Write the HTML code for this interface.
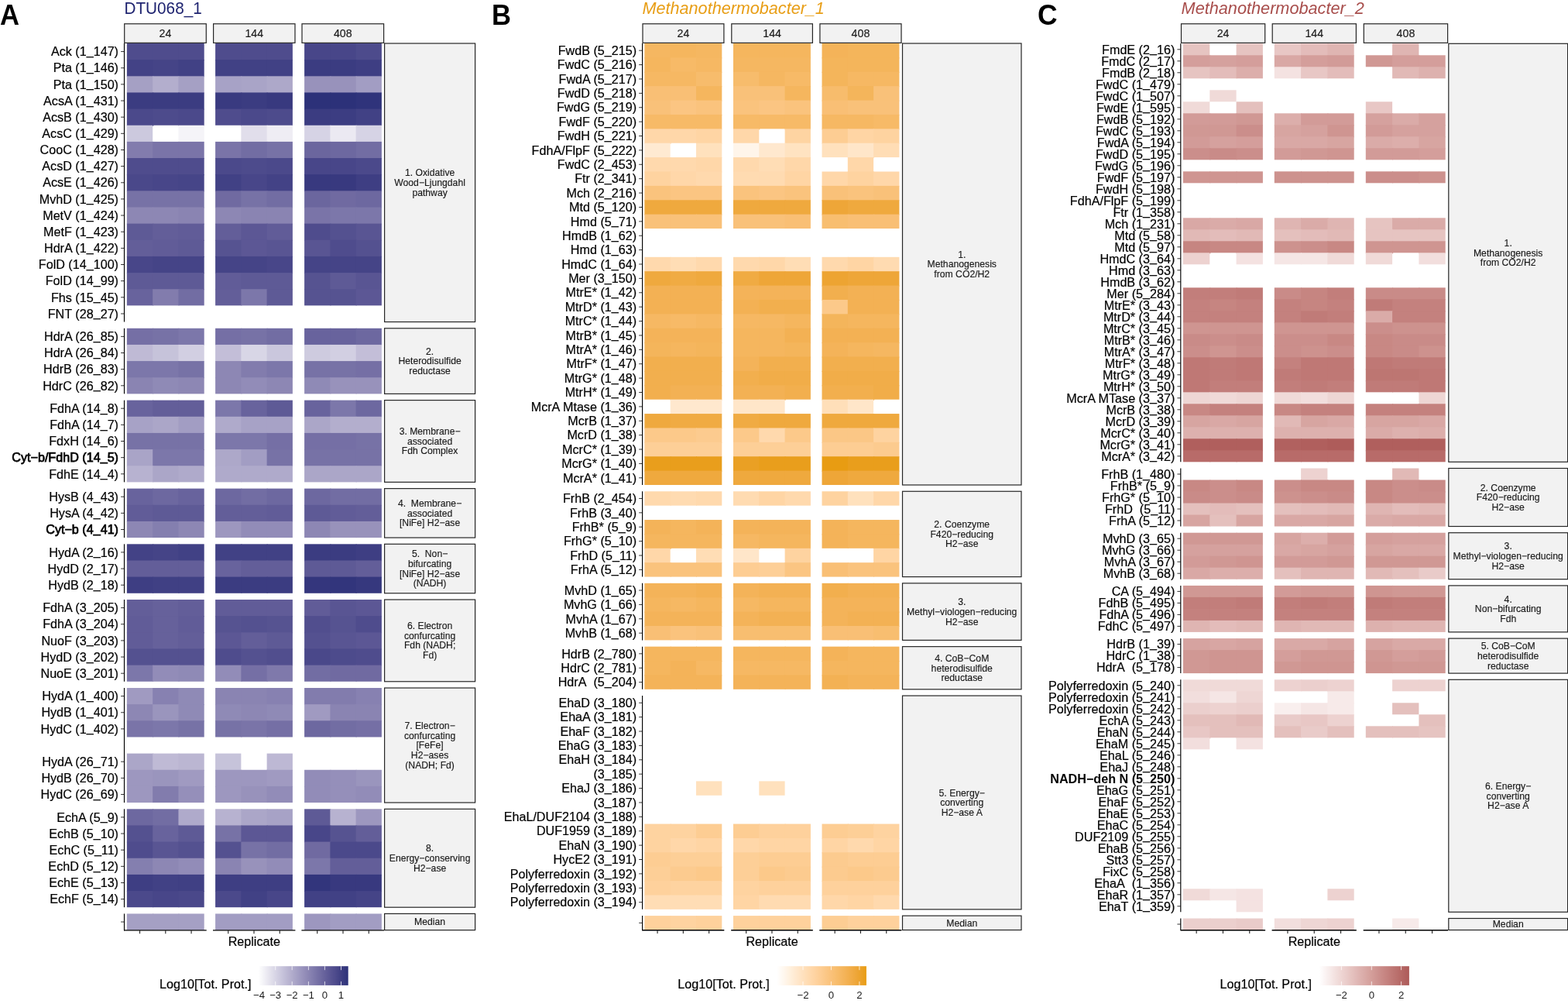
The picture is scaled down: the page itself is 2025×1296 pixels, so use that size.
<!DOCTYPE html>
<html><head><meta charset="utf-8"><title>Heatmap</title>
<style>html,body{margin:0;padding:0;background:#fff;}svg{display:block;}</style></head>
<body><svg width="2025" height="1296" viewBox="0 0 2025 1296" font-family="'Liberation Sans', Arial, Helvetica, sans-serif" fill="#000">
<rect x="0" y="0" width="2025" height="1296" fill="#fff"/>
<text x="0" y="31.9" font-size="36" font-weight="bold" textLength="25.0" lengthAdjust="spacingAndGlyphs">A</text>
<text x="160.4" y="18.4" font-size="21.6" fill="#1f2470" textLength="100.4" lengthAdjust="spacingAndGlyphs">DTU068_1</text>
<rect x="160.7" y="30.75" width="105.6" height="24.6" fill="#f2f2f2" stroke="#262626" stroke-width="1.2"/>
<text x="213.5" y="48" font-size="14.2" text-anchor="middle" fill="#1a1a1a" stroke="#1a1a1a" stroke-width="0.15">24</text>
<rect x="275.6" y="30.75" width="105.4" height="24.6" fill="#f2f2f2" stroke="#262626" stroke-width="1.2"/>
<text x="328.3" y="48" font-size="14.2" text-anchor="middle" fill="#1a1a1a" stroke="#1a1a1a" stroke-width="0.15">144</text>
<rect x="390" y="30.75" width="105.6" height="24.6" fill="#f2f2f2" stroke="#262626" stroke-width="1.2"/>
<text x="442.8" y="48" font-size="14.2" text-anchor="middle" fill="#1a1a1a" stroke="#1a1a1a" stroke-width="0.15">408</text>
<rect x="163.9" y="56" width="34.27" height="22.15" fill="#4f4c8d"/>
<rect x="197.17" y="56" width="34.27" height="22.15" fill="#4f4c8d"/>
<rect x="230.43" y="56" width="33.27" height="22.15" fill="#4f4c8d"/>
<rect x="278.1" y="56" width="34.27" height="22.15" fill="#4f4c8d"/>
<rect x="311.37" y="56" width="34.27" height="22.15" fill="#4f4c8d"/>
<rect x="344.63" y="56" width="33.27" height="22.15" fill="#4f4c8d"/>
<rect x="393.1" y="56" width="34.27" height="22.15" fill="#484689"/>
<rect x="426.37" y="56" width="34.27" height="22.15" fill="#484689"/>
<rect x="459.63" y="56" width="33.27" height="22.15" fill="#4d4b8c"/>
<line x1="156.1" y1="66.57" x2="160.5" y2="66.57" stroke="#333" stroke-width="1.0"/>
<text x="153" y="72.27" font-size="16.15" text-anchor="end" stroke="#000" stroke-width="0.2">Ack (1<tspan dy="-1.2">_</tspan><tspan dy="1.2">147)</tspan></text>
<rect x="163.9" y="77.15" width="34.27" height="22.15" fill="#434286"/>
<rect x="197.17" y="77.15" width="34.27" height="22.15" fill="#454487"/>
<rect x="230.43" y="77.15" width="33.27" height="22.15" fill="#414185"/>
<rect x="278.1" y="77.15" width="34.27" height="22.15" fill="#414185"/>
<rect x="311.37" y="77.15" width="34.27" height="22.15" fill="#414185"/>
<rect x="344.63" y="77.15" width="33.27" height="22.15" fill="#414185"/>
<rect x="393.1" y="77.15" width="34.27" height="22.15" fill="#3b3c81"/>
<rect x="426.37" y="77.15" width="34.27" height="22.15" fill="#3b3c81"/>
<rect x="459.63" y="77.15" width="33.27" height="22.15" fill="#3e3e83"/>
<line x1="156.1" y1="87.72" x2="160.5" y2="87.72" stroke="#333" stroke-width="1.0"/>
<text x="153" y="93.42" font-size="16.15" text-anchor="end" stroke="#000" stroke-width="0.2">Pta (1<tspan dy="-1.2">_</tspan><tspan dy="1.2">146)</tspan></text>
<rect x="163.9" y="98.3" width="34.27" height="22.15" fill="#a5a0c4"/>
<rect x="197.17" y="98.3" width="34.27" height="22.15" fill="#b3aecd"/>
<rect x="230.43" y="98.3" width="33.27" height="22.15" fill="#a5a0c4"/>
<rect x="278.1" y="98.3" width="34.27" height="22.15" fill="#a7a2c6"/>
<rect x="311.37" y="98.3" width="34.27" height="22.15" fill="#a9a4c7"/>
<rect x="344.63" y="98.3" width="33.27" height="22.15" fill="#ada8c9"/>
<rect x="393.1" y="98.3" width="34.27" height="22.15" fill="#9892bb"/>
<rect x="426.37" y="98.3" width="34.27" height="22.15" fill="#9892bb"/>
<rect x="459.63" y="98.3" width="33.27" height="22.15" fill="#a29dc3"/>
<line x1="156.1" y1="108.87" x2="160.5" y2="108.87" stroke="#333" stroke-width="1.0"/>
<text x="153" y="114.57" font-size="16.15" text-anchor="end" stroke="#000" stroke-width="0.2">Pta (1<tspan dy="-1.2">_</tspan><tspan dy="1.2">150)</tspan></text>
<rect x="163.9" y="119.45" width="34.27" height="22.15" fill="#3b3c81"/>
<rect x="197.17" y="119.45" width="34.27" height="22.15" fill="#3b3c81"/>
<rect x="230.43" y="119.45" width="33.27" height="22.15" fill="#3b3c81"/>
<rect x="278.1" y="119.45" width="34.27" height="22.15" fill="#393a80"/>
<rect x="311.37" y="119.45" width="34.27" height="22.15" fill="#3b3c81"/>
<rect x="344.63" y="119.45" width="33.27" height="22.15" fill="#38397f"/>
<rect x="393.1" y="119.45" width="34.27" height="22.15" fill="#2c3179"/>
<rect x="426.37" y="119.45" width="34.27" height="22.15" fill="#2c3179"/>
<rect x="459.63" y="119.45" width="33.27" height="22.15" fill="#2f337b"/>
<line x1="156.1" y1="130.02" x2="160.5" y2="130.02" stroke="#333" stroke-width="1.0"/>
<text x="153" y="135.72" font-size="16.15" text-anchor="end" stroke="#000" stroke-width="0.2">AcsA (1<tspan dy="-1.2">_</tspan><tspan dy="1.2">431)</tspan></text>
<rect x="163.9" y="140.6" width="34.27" height="22.15" fill="#4b498b"/>
<rect x="197.17" y="140.6" width="34.27" height="21.15" fill="#4d4b8c"/>
<rect x="230.43" y="140.6" width="33.27" height="22.15" fill="#4b498b"/>
<rect x="278.1" y="140.6" width="34.27" height="21.15" fill="#4f4c8d"/>
<rect x="311.37" y="140.6" width="34.27" height="22.15" fill="#4b498b"/>
<rect x="344.63" y="140.6" width="33.27" height="22.15" fill="#4d4b8c"/>
<rect x="393.1" y="140.6" width="34.27" height="22.15" fill="#3b3c81"/>
<rect x="426.37" y="140.6" width="34.27" height="22.15" fill="#3c3d82"/>
<rect x="459.63" y="140.6" width="33.27" height="22.15" fill="#414185"/>
<line x1="156.1" y1="151.17" x2="160.5" y2="151.17" stroke="#333" stroke-width="1.0"/>
<text x="153" y="156.87" font-size="16.15" text-anchor="end" stroke="#000" stroke-width="0.2">AcsB (1<tspan dy="-1.2">_</tspan><tspan dy="1.2">430)</tspan></text>
<rect x="163.9" y="161.75" width="33.27" height="22.15" fill="#ccc9de"/>
<rect x="230.43" y="161.75" width="33.27" height="22.15" fill="#f5f4f8"/>
<rect x="311.37" y="161.75" width="34.27" height="22.15" fill="#e1deeb"/>
<rect x="344.63" y="161.75" width="33.27" height="22.15" fill="#efedf4"/>
<rect x="393.1" y="161.75" width="34.27" height="22.15" fill="#d6d3e5"/>
<rect x="426.37" y="161.75" width="34.27" height="22.15" fill="#ebe9f2"/>
<rect x="459.63" y="161.75" width="33.27" height="22.15" fill="#d6d3e5"/>
<line x1="156.1" y1="172.32" x2="160.5" y2="172.32" stroke="#333" stroke-width="1.0"/>
<text x="153" y="178.02" font-size="16.15" text-anchor="end" stroke="#000" stroke-width="0.2">AcsC (1<tspan dy="-1.2">_</tspan><tspan dy="1.2">429)</tspan></text>
<rect x="163.9" y="182.89" width="34.27" height="22.15" fill="#827cad"/>
<rect x="197.17" y="182.89" width="34.27" height="22.15" fill="#7a74a8"/>
<rect x="230.43" y="182.89" width="33.27" height="22.15" fill="#7a74a8"/>
<rect x="278.1" y="182.89" width="34.27" height="22.15" fill="#7a74a8"/>
<rect x="311.37" y="182.89" width="34.27" height="22.15" fill="#726da3"/>
<rect x="344.63" y="182.89" width="33.27" height="22.15" fill="#7772a6"/>
<rect x="393.1" y="182.89" width="34.27" height="22.15" fill="#6b669e"/>
<rect x="426.37" y="182.89" width="34.27" height="22.15" fill="#6d68a0"/>
<rect x="459.63" y="182.89" width="33.27" height="22.15" fill="#726da3"/>
<line x1="156.1" y1="193.47" x2="160.5" y2="193.47" stroke="#333" stroke-width="1.0"/>
<text x="153" y="199.17" font-size="16.15" text-anchor="end" stroke="#000" stroke-width="0.2">CooC (1<tspan dy="-1.2">_</tspan><tspan dy="1.2">428)</tspan></text>
<rect x="163.9" y="204.04" width="34.27" height="22.15" fill="#4f4c8d"/>
<rect x="197.17" y="204.04" width="34.27" height="22.15" fill="#4f4c8d"/>
<rect x="230.43" y="204.04" width="33.27" height="22.15" fill="#4f4c8d"/>
<rect x="278.1" y="204.04" width="34.27" height="22.15" fill="#4b498b"/>
<rect x="311.37" y="204.04" width="34.27" height="22.15" fill="#4d4b8c"/>
<rect x="344.63" y="204.04" width="33.27" height="22.15" fill="#4b498b"/>
<rect x="393.1" y="204.04" width="34.27" height="22.15" fill="#484689"/>
<rect x="426.37" y="204.04" width="34.27" height="22.15" fill="#484689"/>
<rect x="459.63" y="204.04" width="33.27" height="22.15" fill="#4b498b"/>
<line x1="156.1" y1="214.62" x2="160.5" y2="214.62" stroke="#333" stroke-width="1.0"/>
<text x="153" y="220.32" font-size="16.15" text-anchor="end" stroke="#000" stroke-width="0.2">AcsD (1<tspan dy="-1.2">_</tspan><tspan dy="1.2">427)</tspan></text>
<rect x="163.9" y="225.19" width="34.27" height="22.15" fill="#4a488a"/>
<rect x="197.17" y="225.19" width="34.27" height="22.15" fill="#484689"/>
<rect x="230.43" y="225.19" width="33.27" height="22.15" fill="#464588"/>
<rect x="278.1" y="225.19" width="34.27" height="22.15" fill="#414185"/>
<rect x="311.37" y="225.19" width="34.27" height="22.15" fill="#484689"/>
<rect x="344.63" y="225.19" width="33.27" height="22.15" fill="#434286"/>
<rect x="393.1" y="225.19" width="34.27" height="22.15" fill="#38397f"/>
<rect x="426.37" y="225.19" width="34.27" height="22.15" fill="#38397f"/>
<rect x="459.63" y="225.19" width="33.27" height="22.15" fill="#3e3e83"/>
<line x1="156.1" y1="235.77" x2="160.5" y2="235.77" stroke="#333" stroke-width="1.0"/>
<text x="153" y="241.47" font-size="16.15" text-anchor="end" stroke="#000" stroke-width="0.2">AcsE (1<tspan dy="-1.2">_</tspan><tspan dy="1.2">426)</tspan></text>
<rect x="163.9" y="246.34" width="34.27" height="22.15" fill="#7772a6"/>
<rect x="197.17" y="246.34" width="34.27" height="22.15" fill="#7772a6"/>
<rect x="230.43" y="246.34" width="33.27" height="22.15" fill="#7772a6"/>
<rect x="278.1" y="246.34" width="34.27" height="22.15" fill="#706aa1"/>
<rect x="311.37" y="246.34" width="34.27" height="22.15" fill="#7772a6"/>
<rect x="344.63" y="246.34" width="33.27" height="22.15" fill="#726da3"/>
<rect x="393.1" y="246.34" width="34.27" height="22.15" fill="#6b669e"/>
<rect x="426.37" y="246.34" width="34.27" height="22.15" fill="#706aa1"/>
<rect x="459.63" y="246.34" width="33.27" height="22.15" fill="#6d68a0"/>
<line x1="156.1" y1="256.92" x2="160.5" y2="256.92" stroke="#333" stroke-width="1.0"/>
<text x="153" y="262.62" font-size="16.15" text-anchor="end" stroke="#000" stroke-width="0.2">MvhD (1<tspan dy="-1.2">_</tspan><tspan dy="1.2">425)</tspan></text>
<rect x="163.9" y="267.49" width="34.27" height="22.15" fill="#8d87b4"/>
<rect x="197.17" y="267.49" width="34.27" height="22.15" fill="#8d87b4"/>
<rect x="230.43" y="267.49" width="33.27" height="22.15" fill="#8a84b2"/>
<rect x="278.1" y="267.49" width="34.27" height="22.15" fill="#8d87b4"/>
<rect x="311.37" y="267.49" width="34.27" height="22.15" fill="#8a84b2"/>
<rect x="344.63" y="267.49" width="33.27" height="22.15" fill="#8a84b2"/>
<rect x="393.1" y="267.49" width="34.27" height="22.15" fill="#7a74a8"/>
<rect x="426.37" y="267.49" width="34.27" height="22.15" fill="#7c77aa"/>
<rect x="459.63" y="267.49" width="33.27" height="22.15" fill="#7c77aa"/>
<line x1="156.1" y1="278.06" x2="160.5" y2="278.06" stroke="#333" stroke-width="1.0"/>
<text x="153" y="283.76" font-size="16.15" text-anchor="end" stroke="#000" stroke-width="0.2">MetV (1<tspan dy="-1.2">_</tspan><tspan dy="1.2">424)</tspan></text>
<rect x="163.9" y="288.64" width="34.27" height="22.15" fill="#5e5a96"/>
<rect x="197.17" y="288.64" width="34.27" height="22.15" fill="#635e99"/>
<rect x="230.43" y="288.64" width="33.27" height="22.15" fill="#615c98"/>
<rect x="278.1" y="288.64" width="34.27" height="22.15" fill="#635e99"/>
<rect x="311.37" y="288.64" width="34.27" height="22.15" fill="#5c5795"/>
<rect x="344.63" y="288.64" width="33.27" height="22.15" fill="#615c98"/>
<rect x="393.1" y="288.64" width="34.27" height="22.15" fill="#4f4c8d"/>
<rect x="426.37" y="288.64" width="34.27" height="22.15" fill="#545190"/>
<rect x="459.63" y="288.64" width="33.27" height="22.15" fill="#595593"/>
<line x1="156.1" y1="299.21" x2="160.5" y2="299.21" stroke="#333" stroke-width="1.0"/>
<text x="153" y="304.91" font-size="16.15" text-anchor="end" stroke="#000" stroke-width="0.2">MetF (1<tspan dy="-1.2">_</tspan><tspan dy="1.2">423)</tspan></text>
<rect x="163.9" y="309.79" width="34.27" height="22.15" fill="#635e99"/>
<rect x="197.17" y="309.79" width="34.27" height="22.15" fill="#615c98"/>
<rect x="230.43" y="309.79" width="33.27" height="22.15" fill="#5e5a96"/>
<rect x="278.1" y="309.79" width="34.27" height="22.15" fill="#565391"/>
<rect x="311.37" y="309.79" width="34.27" height="22.15" fill="#5c5795"/>
<rect x="344.63" y="309.79" width="33.27" height="22.15" fill="#595593"/>
<rect x="393.1" y="309.79" width="34.27" height="22.15" fill="#595593"/>
<rect x="426.37" y="309.79" width="34.27" height="22.15" fill="#4f4c8d"/>
<rect x="459.63" y="309.79" width="33.27" height="22.15" fill="#545190"/>
<line x1="156.1" y1="320.36" x2="160.5" y2="320.36" stroke="#333" stroke-width="1.0"/>
<text x="153" y="326.06" font-size="16.15" text-anchor="end" stroke="#000" stroke-width="0.2">HdrA (1<tspan dy="-1.2">_</tspan><tspan dy="1.2">422)</tspan></text>
<rect x="163.9" y="330.94" width="34.27" height="22.15" fill="#484689"/>
<rect x="197.17" y="330.94" width="34.27" height="22.15" fill="#454487"/>
<rect x="230.43" y="330.94" width="33.27" height="22.15" fill="#454487"/>
<rect x="278.1" y="330.94" width="34.27" height="22.15" fill="#454487"/>
<rect x="311.37" y="330.94" width="34.27" height="22.15" fill="#454487"/>
<rect x="344.63" y="330.94" width="33.27" height="22.15" fill="#484689"/>
<rect x="393.1" y="330.94" width="34.27" height="22.15" fill="#454487"/>
<rect x="426.37" y="330.94" width="34.27" height="22.15" fill="#454487"/>
<rect x="459.63" y="330.94" width="33.27" height="22.15" fill="#454487"/>
<line x1="156.1" y1="341.51" x2="160.5" y2="341.51" stroke="#333" stroke-width="1.0"/>
<text x="153" y="347.21" font-size="16.15" text-anchor="end" stroke="#000" stroke-width="0.2">FolD (14<tspan dy="-1.2">_</tspan><tspan dy="1.2">100)</tspan></text>
<rect x="163.9" y="352.09" width="34.27" height="22.15" fill="#5e5a96"/>
<rect x="197.17" y="352.09" width="34.27" height="22.15" fill="#5e5a96"/>
<rect x="230.43" y="352.09" width="33.27" height="22.15" fill="#5e5a96"/>
<rect x="278.1" y="352.09" width="34.27" height="22.15" fill="#615c98"/>
<rect x="311.37" y="352.09" width="34.27" height="22.15" fill="#5e5a96"/>
<rect x="344.63" y="352.09" width="33.27" height="22.15" fill="#5e5a96"/>
<rect x="393.1" y="352.09" width="34.27" height="22.15" fill="#565391"/>
<rect x="426.37" y="352.09" width="34.27" height="22.15" fill="#5e5a96"/>
<rect x="459.63" y="352.09" width="33.27" height="22.15" fill="#595593"/>
<line x1="156.1" y1="362.66" x2="160.5" y2="362.66" stroke="#333" stroke-width="1.0"/>
<text x="153" y="368.36" font-size="16.15" text-anchor="end" stroke="#000" stroke-width="0.2">FolD (14<tspan dy="-1.2">_</tspan><tspan dy="1.2">99)</tspan></text>
<rect x="163.9" y="373.24" width="34.27" height="21.15" fill="#68639d"/>
<rect x="197.17" y="373.24" width="34.27" height="21.15" fill="#827cad"/>
<rect x="230.43" y="373.24" width="33.27" height="21.15" fill="#726da3"/>
<rect x="278.1" y="373.24" width="34.27" height="21.15" fill="#635e99"/>
<rect x="311.37" y="373.24" width="34.27" height="21.15" fill="#7c77aa"/>
<rect x="344.63" y="373.24" width="33.27" height="21.15" fill="#5e5a96"/>
<rect x="393.1" y="373.24" width="34.27" height="21.15" fill="#565391"/>
<rect x="426.37" y="373.24" width="34.27" height="21.15" fill="#565391"/>
<rect x="459.63" y="373.24" width="33.27" height="21.15" fill="#5c5795"/>
<line x1="156.1" y1="383.81" x2="160.5" y2="383.81" stroke="#333" stroke-width="1.0"/>
<text x="153" y="389.51" font-size="16.15" text-anchor="end" stroke="#000" stroke-width="0.2">Fhs (15<tspan dy="-1.2">_</tspan><tspan dy="1.2">45)</tspan></text>
<line x1="156.1" y1="404.96" x2="160.5" y2="404.96" stroke="#333" stroke-width="1.0"/>
<text x="153" y="410.66" font-size="16.15" text-anchor="end" stroke="#000" stroke-width="0.2">FNT (28<tspan dy="-1.2">_</tspan><tspan dy="1.2">27)</tspan></text>
<line x1="160.5" y1="56" x2="160.5" y2="415.53" stroke="#000000" stroke-width="1.15"/>
<rect x="496.6" y="56" width="117" height="359.53" fill="#f2f2f2" stroke="#262626" stroke-width="1.2"/>
<text x="555.1" y="227.47" font-size="12.2" text-anchor="middle" fill="#1a1a1a" stroke="#1a1a1a" stroke-width="0.15">1. Oxidative</text>
<text x="555.1" y="240.07" font-size="12.2" text-anchor="middle" fill="#1a1a1a" stroke="#1a1a1a" stroke-width="0.15">Wood−Ljungdahl</text>
<text x="555.1" y="252.67" font-size="12.2" text-anchor="middle" fill="#1a1a1a" stroke="#1a1a1a" stroke-width="0.15">pathway</text>
<rect x="163.9" y="423.78" width="34.27" height="22.15" fill="#756fa5"/>
<rect x="197.17" y="423.78" width="34.27" height="22.15" fill="#7772a6"/>
<rect x="230.43" y="423.78" width="33.27" height="22.15" fill="#7c77aa"/>
<rect x="278.1" y="423.78" width="34.27" height="22.15" fill="#756fa5"/>
<rect x="311.37" y="423.78" width="34.27" height="22.15" fill="#7772a6"/>
<rect x="344.63" y="423.78" width="33.27" height="22.15" fill="#726da3"/>
<rect x="393.1" y="423.78" width="34.27" height="22.15" fill="#68639d"/>
<rect x="426.37" y="423.78" width="34.27" height="22.15" fill="#68639d"/>
<rect x="459.63" y="423.78" width="33.27" height="22.15" fill="#6d68a0"/>
<line x1="156.1" y1="434.36" x2="160.5" y2="434.36" stroke="#333" stroke-width="1.0"/>
<text x="153" y="440.06" font-size="16.15" text-anchor="end" stroke="#000" stroke-width="0.2">HdrA (26<tspan dy="-1.2">_</tspan><tspan dy="1.2">85)</tspan></text>
<rect x="163.9" y="444.93" width="34.27" height="22.15" fill="#bfbad5"/>
<rect x="197.17" y="444.93" width="34.27" height="22.15" fill="#c6c3da"/>
<rect x="230.43" y="444.93" width="33.27" height="22.15" fill="#d2cfe2"/>
<rect x="278.1" y="444.93" width="34.27" height="22.15" fill="#c3bed8"/>
<rect x="311.37" y="444.93" width="34.27" height="22.15" fill="#d8d6e6"/>
<rect x="344.63" y="444.93" width="33.27" height="22.15" fill="#cac7dd"/>
<rect x="393.1" y="444.93" width="34.27" height="22.15" fill="#cecbdf"/>
<rect x="426.37" y="444.93" width="34.27" height="22.15" fill="#d2cfe2"/>
<rect x="459.63" y="444.93" width="33.27" height="22.15" fill="#c3bed8"/>
<line x1="156.1" y1="455.51" x2="160.5" y2="455.51" stroke="#333" stroke-width="1.0"/>
<text x="153" y="461.21" font-size="16.15" text-anchor="end" stroke="#000" stroke-width="0.2">HdrA (26<tspan dy="-1.2">_</tspan><tspan dy="1.2">84)</tspan></text>
<rect x="163.9" y="466.08" width="34.27" height="22.15" fill="#7c77aa"/>
<rect x="197.17" y="466.08" width="34.27" height="22.15" fill="#7c77aa"/>
<rect x="230.43" y="466.08" width="33.27" height="22.15" fill="#7772a6"/>
<rect x="278.1" y="466.08" width="34.27" height="22.15" fill="#8d87b4"/>
<rect x="311.37" y="466.08" width="34.27" height="22.15" fill="#827cad"/>
<rect x="344.63" y="466.08" width="33.27" height="22.15" fill="#7c77aa"/>
<rect x="393.1" y="466.08" width="34.27" height="22.15" fill="#7772a6"/>
<rect x="426.37" y="466.08" width="34.27" height="22.15" fill="#7772a6"/>
<rect x="459.63" y="466.08" width="33.27" height="22.15" fill="#756fa5"/>
<line x1="156.1" y1="476.66" x2="160.5" y2="476.66" stroke="#333" stroke-width="1.0"/>
<text x="153" y="482.36" font-size="16.15" text-anchor="end" stroke="#000" stroke-width="0.2">HdrB (26<tspan dy="-1.2">_</tspan><tspan dy="1.2">83)</tspan></text>
<rect x="163.9" y="487.23" width="34.27" height="21.15" fill="#8a84b2"/>
<rect x="197.17" y="487.23" width="34.27" height="21.15" fill="#8f8ab6"/>
<rect x="230.43" y="487.23" width="33.27" height="21.15" fill="#8d87b4"/>
<rect x="278.1" y="487.23" width="34.27" height="21.15" fill="#8d87b4"/>
<rect x="311.37" y="487.23" width="34.27" height="21.15" fill="#928cb8"/>
<rect x="344.63" y="487.23" width="33.27" height="21.15" fill="#8d87b4"/>
<rect x="393.1" y="487.23" width="34.27" height="21.15" fill="#8f8ab6"/>
<rect x="426.37" y="487.23" width="34.27" height="21.15" fill="#9892bb"/>
<rect x="459.63" y="487.23" width="33.27" height="21.15" fill="#9892bb"/>
<line x1="156.1" y1="497.8" x2="160.5" y2="497.8" stroke="#333" stroke-width="1.0"/>
<text x="153" y="503.5" font-size="16.15" text-anchor="end" stroke="#000" stroke-width="0.2">HdrC (26<tspan dy="-1.2">_</tspan><tspan dy="1.2">82)</tspan></text>
<line x1="160.5" y1="423.78" x2="160.5" y2="508.38" stroke="#000000" stroke-width="1.15"/>
<rect x="496.6" y="423.78" width="117" height="84.6" fill="#f2f2f2" stroke="#262626" stroke-width="1.2"/>
<text x="555.1" y="457.78" font-size="12.2" text-anchor="middle" fill="#1a1a1a" stroke="#1a1a1a" stroke-width="0.15">2.</text>
<text x="555.1" y="470.38" font-size="12.2" text-anchor="middle" fill="#1a1a1a" stroke="#1a1a1a" stroke-width="0.15">Heterodisulfide</text>
<text x="555.1" y="482.98" font-size="12.2" text-anchor="middle" fill="#1a1a1a" stroke="#1a1a1a" stroke-width="0.15">reductase</text>
<rect x="163.9" y="516.63" width="34.27" height="22.15" fill="#68639d"/>
<rect x="197.17" y="516.63" width="34.27" height="22.15" fill="#635e99"/>
<rect x="230.43" y="516.63" width="33.27" height="22.15" fill="#635e99"/>
<rect x="278.1" y="516.63" width="34.27" height="22.15" fill="#7c77aa"/>
<rect x="311.37" y="516.63" width="34.27" height="22.15" fill="#68639d"/>
<rect x="344.63" y="516.63" width="33.27" height="22.15" fill="#5e5a96"/>
<rect x="393.1" y="516.63" width="34.27" height="22.15" fill="#68639d"/>
<rect x="426.37" y="516.63" width="34.27" height="22.15" fill="#7c77aa"/>
<rect x="459.63" y="516.63" width="33.27" height="22.15" fill="#6d68a0"/>
<line x1="156.1" y1="527.2" x2="160.5" y2="527.2" stroke="#333" stroke-width="1.0"/>
<text x="153" y="532.9" font-size="16.15" text-anchor="end" stroke="#000" stroke-width="0.2">FdhA (14<tspan dy="-1.2">_</tspan><tspan dy="1.2">8)</tspan></text>
<rect x="163.9" y="537.78" width="34.27" height="22.15" fill="#a7a2c6"/>
<rect x="197.17" y="537.78" width="34.27" height="22.15" fill="#aba6c8"/>
<rect x="230.43" y="537.78" width="33.27" height="22.15" fill="#a29dc3"/>
<rect x="278.1" y="537.78" width="34.27" height="22.15" fill="#afaacb"/>
<rect x="311.37" y="537.78" width="34.27" height="22.15" fill="#a7a2c6"/>
<rect x="344.63" y="537.78" width="33.27" height="22.15" fill="#a7a2c6"/>
<rect x="393.1" y="537.78" width="34.27" height="22.15" fill="#aba6c8"/>
<rect x="426.37" y="537.78" width="34.27" height="22.15" fill="#b3aecd"/>
<rect x="459.63" y="537.78" width="33.27" height="22.15" fill="#b3aecd"/>
<line x1="156.1" y1="548.35" x2="160.5" y2="548.35" stroke="#333" stroke-width="1.0"/>
<text x="153" y="554.05" font-size="16.15" text-anchor="end" stroke="#000" stroke-width="0.2">FdhA (14<tspan dy="-1.2">_</tspan><tspan dy="1.2">7)</tspan></text>
<rect x="163.9" y="558.93" width="34.27" height="22.15" fill="#7772a6"/>
<rect x="197.17" y="558.93" width="34.27" height="22.15" fill="#7772a6"/>
<rect x="230.43" y="558.93" width="33.27" height="22.15" fill="#7772a6"/>
<rect x="278.1" y="558.93" width="34.27" height="22.15" fill="#7c77aa"/>
<rect x="311.37" y="558.93" width="34.27" height="22.15" fill="#7c77aa"/>
<rect x="344.63" y="558.93" width="33.27" height="22.15" fill="#756fa5"/>
<rect x="393.1" y="558.93" width="34.27" height="22.15" fill="#756fa5"/>
<rect x="426.37" y="558.93" width="34.27" height="22.15" fill="#756fa5"/>
<rect x="459.63" y="558.93" width="33.27" height="22.15" fill="#7772a6"/>
<line x1="156.1" y1="569.5" x2="160.5" y2="569.5" stroke="#333" stroke-width="1.0"/>
<text x="153" y="575.2" font-size="16.15" text-anchor="end" stroke="#000" stroke-width="0.2">FdxH (14<tspan dy="-1.2">_</tspan><tspan dy="1.2">6)</tspan></text>
<rect x="163.9" y="580.08" width="34.27" height="22.15" fill="#a9a4c7"/>
<rect x="197.17" y="580.08" width="34.27" height="22.15" fill="#7c77aa"/>
<rect x="230.43" y="580.08" width="33.27" height="22.15" fill="#7c77aa"/>
<rect x="278.1" y="580.08" width="34.27" height="22.15" fill="#ada8c9"/>
<rect x="311.37" y="580.08" width="34.27" height="22.15" fill="#a29dc3"/>
<rect x="344.63" y="580.08" width="33.27" height="22.15" fill="#7772a6"/>
<rect x="393.1" y="580.08" width="34.27" height="22.15" fill="#7772a6"/>
<rect x="426.37" y="580.08" width="34.27" height="22.15" fill="#7772a6"/>
<rect x="459.63" y="580.08" width="33.27" height="22.15" fill="#7772a6"/>
<line x1="156.1" y1="590.65" x2="160.5" y2="590.65" stroke="#333" stroke-width="1.0"/>
<text x="153" y="596.35" font-size="16.15" text-anchor="end" stroke="#000" stroke-width="0.75">Cyt−b/FdhD (14<tspan dy="-1.2">_</tspan><tspan dy="1.2">5)</tspan></text>
<rect x="163.9" y="601.23" width="34.27" height="21.15" fill="#b7b2d0"/>
<rect x="197.17" y="601.23" width="34.27" height="21.15" fill="#aba6c8"/>
<rect x="230.43" y="601.23" width="33.27" height="21.15" fill="#afaacb"/>
<rect x="278.1" y="601.23" width="34.27" height="21.15" fill="#afaacb"/>
<rect x="311.37" y="601.23" width="34.27" height="21.15" fill="#afaacb"/>
<rect x="344.63" y="601.23" width="33.27" height="21.15" fill="#afaacb"/>
<rect x="393.1" y="601.23" width="34.27" height="21.15" fill="#aba6c8"/>
<rect x="426.37" y="601.23" width="34.27" height="21.15" fill="#aba6c8"/>
<rect x="459.63" y="601.23" width="33.27" height="21.15" fill="#aba6c8"/>
<line x1="156.1" y1="611.8" x2="160.5" y2="611.8" stroke="#333" stroke-width="1.0"/>
<text x="153" y="617.5" font-size="16.15" text-anchor="end" stroke="#000" stroke-width="0.2">FdhE (14<tspan dy="-1.2">_</tspan><tspan dy="1.2">4)</tspan></text>
<line x1="160.5" y1="516.63" x2="160.5" y2="622.37" stroke="#000000" stroke-width="1.15"/>
<rect x="496.6" y="516.63" width="117" height="105.75" fill="#f2f2f2" stroke="#262626" stroke-width="1.2"/>
<text x="555.1" y="561.2" font-size="12.2" text-anchor="middle" fill="#1a1a1a" stroke="#1a1a1a" stroke-width="0.15">3. Membrane−</text>
<text x="555.1" y="573.8" font-size="12.2" text-anchor="middle" fill="#1a1a1a" stroke="#1a1a1a" stroke-width="0.15">associated</text>
<text x="555.1" y="586.4" font-size="12.2" text-anchor="middle" fill="#1a1a1a" stroke="#1a1a1a" stroke-width="0.15">Fdh Complex</text>
<rect x="163.9" y="630.62" width="34.27" height="22.15" fill="#68639d"/>
<rect x="197.17" y="630.62" width="34.27" height="22.15" fill="#6d68a0"/>
<rect x="230.43" y="630.62" width="33.27" height="22.15" fill="#68639d"/>
<rect x="278.1" y="630.62" width="34.27" height="22.15" fill="#6d68a0"/>
<rect x="311.37" y="630.62" width="34.27" height="22.15" fill="#726da3"/>
<rect x="344.63" y="630.62" width="33.27" height="22.15" fill="#6d68a0"/>
<rect x="393.1" y="630.62" width="34.27" height="22.15" fill="#6d68a0"/>
<rect x="426.37" y="630.62" width="34.27" height="22.15" fill="#726da3"/>
<rect x="459.63" y="630.62" width="33.27" height="22.15" fill="#726da3"/>
<line x1="156.1" y1="641.2" x2="160.5" y2="641.2" stroke="#333" stroke-width="1.0"/>
<text x="153" y="646.9" font-size="16.15" text-anchor="end" stroke="#000" stroke-width="0.2">HysB (4<tspan dy="-1.2">_</tspan><tspan dy="1.2">43)</tspan></text>
<rect x="163.9" y="651.77" width="34.27" height="22.15" fill="#615c98"/>
<rect x="197.17" y="651.77" width="34.27" height="22.15" fill="#5e5a96"/>
<rect x="230.43" y="651.77" width="33.27" height="22.15" fill="#5e5a96"/>
<rect x="278.1" y="651.77" width="34.27" height="22.15" fill="#635e99"/>
<rect x="311.37" y="651.77" width="34.27" height="22.15" fill="#635e99"/>
<rect x="344.63" y="651.77" width="33.27" height="22.15" fill="#615c98"/>
<rect x="393.1" y="651.77" width="34.27" height="22.15" fill="#5e5a96"/>
<rect x="426.37" y="651.77" width="34.27" height="22.15" fill="#615c98"/>
<rect x="459.63" y="651.77" width="33.27" height="22.15" fill="#635e99"/>
<line x1="156.1" y1="662.35" x2="160.5" y2="662.35" stroke="#333" stroke-width="1.0"/>
<text x="153" y="668.05" font-size="16.15" text-anchor="end" stroke="#000" stroke-width="0.2">HysA (4<tspan dy="-1.2">_</tspan><tspan dy="1.2">42)</tspan></text>
<rect x="163.9" y="672.92" width="34.27" height="21.15" fill="#8d87b4"/>
<rect x="197.17" y="672.92" width="34.27" height="21.15" fill="#847faf"/>
<rect x="230.43" y="672.92" width="33.27" height="21.15" fill="#8d87b4"/>
<rect x="278.1" y="672.92" width="34.27" height="21.15" fill="#9d97bf"/>
<rect x="311.37" y="672.92" width="34.27" height="21.15" fill="#928cb8"/>
<rect x="344.63" y="672.92" width="33.27" height="21.15" fill="#928cb8"/>
<rect x="393.1" y="672.92" width="34.27" height="21.15" fill="#8d87b4"/>
<rect x="426.37" y="672.92" width="34.27" height="21.15" fill="#9892bb"/>
<rect x="459.63" y="672.92" width="33.27" height="21.15" fill="#9892bb"/>
<line x1="156.1" y1="683.5" x2="160.5" y2="683.5" stroke="#333" stroke-width="1.0"/>
<text x="153" y="689.2" font-size="16.15" text-anchor="end" stroke="#000" stroke-width="0.75">Cyt−b (4<tspan dy="-1.2">_</tspan><tspan dy="1.2">41)</tspan></text>
<line x1="160.5" y1="630.62" x2="160.5" y2="694.07" stroke="#000000" stroke-width="1.15"/>
<rect x="496.6" y="630.62" width="117" height="63.45" fill="#f2f2f2" stroke="#262626" stroke-width="1.2"/>
<text x="555.1" y="654.05" font-size="12.2" text-anchor="middle" fill="#1a1a1a" stroke="#1a1a1a" stroke-width="0.15">4.  Membrane−</text>
<text x="555.1" y="666.65" font-size="12.2" text-anchor="middle" fill="#1a1a1a" stroke="#1a1a1a" stroke-width="0.15">associated</text>
<text x="555.1" y="679.25" font-size="12.2" text-anchor="middle" fill="#1a1a1a" stroke="#1a1a1a" stroke-width="0.15">[NiFe] H2−ase</text>
<rect x="163.9" y="702.32" width="34.27" height="22.15" fill="#434286"/>
<rect x="197.17" y="702.32" width="34.27" height="22.15" fill="#454487"/>
<rect x="230.43" y="702.32" width="33.27" height="22.15" fill="#414185"/>
<rect x="278.1" y="702.32" width="34.27" height="22.15" fill="#414185"/>
<rect x="311.37" y="702.32" width="34.27" height="22.15" fill="#414185"/>
<rect x="344.63" y="702.32" width="33.27" height="22.15" fill="#414185"/>
<rect x="393.1" y="702.32" width="34.27" height="22.15" fill="#3b3c81"/>
<rect x="426.37" y="702.32" width="34.27" height="22.15" fill="#3b3c81"/>
<rect x="459.63" y="702.32" width="33.27" height="22.15" fill="#3e3e83"/>
<line x1="156.1" y1="712.9" x2="160.5" y2="712.9" stroke="#333" stroke-width="1.0"/>
<text x="153" y="718.6" font-size="16.15" text-anchor="end" stroke="#000" stroke-width="0.2">HydA (2<tspan dy="-1.2">_</tspan><tspan dy="1.2">16)</tspan></text>
<rect x="163.9" y="723.47" width="34.27" height="22.15" fill="#635e99"/>
<rect x="197.17" y="723.47" width="34.27" height="22.15" fill="#635e99"/>
<rect x="230.43" y="723.47" width="33.27" height="22.15" fill="#635e99"/>
<rect x="278.1" y="723.47" width="34.27" height="22.15" fill="#68639d"/>
<rect x="311.37" y="723.47" width="34.27" height="22.15" fill="#635e99"/>
<rect x="344.63" y="723.47" width="33.27" height="22.15" fill="#635e99"/>
<rect x="393.1" y="723.47" width="34.27" height="22.15" fill="#5e5a96"/>
<rect x="426.37" y="723.47" width="34.27" height="22.15" fill="#5e5a96"/>
<rect x="459.63" y="723.47" width="33.27" height="22.15" fill="#635e99"/>
<line x1="156.1" y1="734.05" x2="160.5" y2="734.05" stroke="#333" stroke-width="1.0"/>
<text x="153" y="739.75" font-size="16.15" text-anchor="end" stroke="#000" stroke-width="0.2">HydD (2<tspan dy="-1.2">_</tspan><tspan dy="1.2">17)</tspan></text>
<rect x="163.9" y="744.62" width="34.27" height="21.15" fill="#3e3e83"/>
<rect x="197.17" y="744.62" width="34.27" height="21.15" fill="#404084"/>
<rect x="230.43" y="744.62" width="33.27" height="21.15" fill="#404084"/>
<rect x="278.1" y="744.62" width="34.27" height="21.15" fill="#3b3c81"/>
<rect x="311.37" y="744.62" width="34.27" height="21.15" fill="#3b3c81"/>
<rect x="344.63" y="744.62" width="33.27" height="21.15" fill="#3b3c81"/>
<rect x="393.1" y="744.62" width="34.27" height="21.15" fill="#34367d"/>
<rect x="426.37" y="744.62" width="34.27" height="21.15" fill="#32357c"/>
<rect x="459.63" y="744.62" width="33.27" height="21.15" fill="#36387e"/>
<line x1="156.1" y1="755.19" x2="160.5" y2="755.19" stroke="#333" stroke-width="1.0"/>
<text x="153" y="760.89" font-size="16.15" text-anchor="end" stroke="#000" stroke-width="0.2">HydB (2<tspan dy="-1.2">_</tspan><tspan dy="1.2">18)</tspan></text>
<line x1="160.5" y1="702.32" x2="160.5" y2="765.77" stroke="#000000" stroke-width="1.15"/>
<rect x="496.6" y="702.32" width="117" height="63.45" fill="#f2f2f2" stroke="#262626" stroke-width="1.2"/>
<text x="555.1" y="719.45" font-size="12.2" text-anchor="middle" fill="#1a1a1a" stroke="#1a1a1a" stroke-width="0.15">5.  Non−</text>
<text x="555.1" y="732.05" font-size="12.2" text-anchor="middle" fill="#1a1a1a" stroke="#1a1a1a" stroke-width="0.15">bifurcating</text>
<text x="555.1" y="744.65" font-size="12.2" text-anchor="middle" fill="#1a1a1a" stroke="#1a1a1a" stroke-width="0.15">[NiFe] H2−ase</text>
<text x="555.1" y="757.25" font-size="12.2" text-anchor="middle" fill="#1a1a1a" stroke="#1a1a1a" stroke-width="0.15">(NADH)</text>
<rect x="163.9" y="774.02" width="34.27" height="22.15" fill="#635e99"/>
<rect x="197.17" y="774.02" width="34.27" height="22.15" fill="#66619b"/>
<rect x="230.43" y="774.02" width="33.27" height="22.15" fill="#635e99"/>
<rect x="278.1" y="774.02" width="34.27" height="22.15" fill="#615c98"/>
<rect x="311.37" y="774.02" width="34.27" height="22.15" fill="#615c98"/>
<rect x="344.63" y="774.02" width="33.27" height="22.15" fill="#615c98"/>
<rect x="393.1" y="774.02" width="34.27" height="22.15" fill="#615c98"/>
<rect x="426.37" y="774.02" width="34.27" height="22.15" fill="#595593"/>
<rect x="459.63" y="774.02" width="33.27" height="22.15" fill="#5c5795"/>
<line x1="156.1" y1="784.59" x2="160.5" y2="784.59" stroke="#333" stroke-width="1.0"/>
<text x="153" y="790.29" font-size="16.15" text-anchor="end" stroke="#000" stroke-width="0.2">FdhA (3<tspan dy="-1.2">_</tspan><tspan dy="1.2">205)</tspan></text>
<rect x="163.9" y="795.17" width="34.27" height="22.15" fill="#615c98"/>
<rect x="197.17" y="795.17" width="34.27" height="22.15" fill="#66619b"/>
<rect x="230.43" y="795.17" width="33.27" height="22.15" fill="#615c98"/>
<rect x="278.1" y="795.17" width="34.27" height="22.15" fill="#565391"/>
<rect x="311.37" y="795.17" width="34.27" height="22.15" fill="#545190"/>
<rect x="344.63" y="795.17" width="33.27" height="22.15" fill="#565391"/>
<rect x="393.1" y="795.17" width="34.27" height="22.15" fill="#514e8e"/>
<rect x="426.37" y="795.17" width="34.27" height="22.15" fill="#565391"/>
<rect x="459.63" y="795.17" width="33.27" height="22.15" fill="#4f4c8d"/>
<line x1="156.1" y1="805.74" x2="160.5" y2="805.74" stroke="#333" stroke-width="1.0"/>
<text x="153" y="811.44" font-size="16.15" text-anchor="end" stroke="#000" stroke-width="0.2">FdhA (3<tspan dy="-1.2">_</tspan><tspan dy="1.2">204)</tspan></text>
<rect x="163.9" y="816.32" width="34.27" height="22.15" fill="#615c98"/>
<rect x="197.17" y="816.32" width="34.27" height="22.15" fill="#66619b"/>
<rect x="230.43" y="816.32" width="33.27" height="22.15" fill="#635e99"/>
<rect x="278.1" y="816.32" width="34.27" height="22.15" fill="#5c5795"/>
<rect x="311.37" y="816.32" width="34.27" height="22.15" fill="#635e99"/>
<rect x="344.63" y="816.32" width="33.27" height="22.15" fill="#5e5a96"/>
<rect x="393.1" y="816.32" width="34.27" height="22.15" fill="#545190"/>
<rect x="426.37" y="816.32" width="34.27" height="22.15" fill="#595593"/>
<rect x="459.63" y="816.32" width="33.27" height="22.15" fill="#5c5795"/>
<line x1="156.1" y1="826.89" x2="160.5" y2="826.89" stroke="#333" stroke-width="1.0"/>
<text x="153" y="832.59" font-size="16.15" text-anchor="end" stroke="#000" stroke-width="0.2">NuoF (3<tspan dy="-1.2">_</tspan><tspan dy="1.2">203)</tspan></text>
<rect x="163.9" y="837.47" width="34.27" height="22.15" fill="#545190"/>
<rect x="197.17" y="837.47" width="34.27" height="22.15" fill="#545190"/>
<rect x="230.43" y="837.47" width="33.27" height="22.15" fill="#545190"/>
<rect x="278.1" y="837.47" width="34.27" height="22.15" fill="#4f4c8d"/>
<rect x="311.37" y="837.47" width="34.27" height="22.15" fill="#545190"/>
<rect x="344.63" y="837.47" width="33.27" height="22.15" fill="#514e8e"/>
<rect x="393.1" y="837.47" width="34.27" height="22.15" fill="#4a488a"/>
<rect x="426.37" y="837.47" width="34.27" height="22.15" fill="#4d4b8c"/>
<rect x="459.63" y="837.47" width="33.27" height="22.15" fill="#4f4c8d"/>
<line x1="156.1" y1="848.04" x2="160.5" y2="848.04" stroke="#333" stroke-width="1.0"/>
<text x="153" y="853.74" font-size="16.15" text-anchor="end" stroke="#000" stroke-width="0.2">HydD (3<tspan dy="-1.2">_</tspan><tspan dy="1.2">202)</tspan></text>
<rect x="163.9" y="858.61" width="34.27" height="21.15" fill="#7c77aa"/>
<rect x="197.17" y="858.61" width="34.27" height="21.15" fill="#928cb8"/>
<rect x="230.43" y="858.61" width="33.27" height="21.15" fill="#8f8ab6"/>
<rect x="278.1" y="858.61" width="34.27" height="21.15" fill="#928cb8"/>
<rect x="311.37" y="858.61" width="34.27" height="21.15" fill="#756fa5"/>
<rect x="344.63" y="858.61" width="33.27" height="21.15" fill="#7f79ab"/>
<rect x="393.1" y="858.61" width="34.27" height="21.15" fill="#726da3"/>
<rect x="426.37" y="858.61" width="34.27" height="21.15" fill="#706aa1"/>
<rect x="459.63" y="858.61" width="33.27" height="21.15" fill="#706aa1"/>
<line x1="156.1" y1="869.19" x2="160.5" y2="869.19" stroke="#333" stroke-width="1.0"/>
<text x="153" y="874.89" font-size="16.15" text-anchor="end" stroke="#000" stroke-width="0.2">NuoE (3<tspan dy="-1.2">_</tspan><tspan dy="1.2">201)</tspan></text>
<line x1="160.5" y1="774.02" x2="160.5" y2="879.76" stroke="#000000" stroke-width="1.15"/>
<rect x="496.6" y="774.02" width="117" height="105.75" fill="#f2f2f2" stroke="#262626" stroke-width="1.2"/>
<text x="555.1" y="812.29" font-size="12.2" text-anchor="middle" fill="#1a1a1a" stroke="#1a1a1a" stroke-width="0.15">6. Electron</text>
<text x="555.1" y="824.89" font-size="12.2" text-anchor="middle" fill="#1a1a1a" stroke="#1a1a1a" stroke-width="0.15">confurcating</text>
<text x="555.1" y="837.49" font-size="12.2" text-anchor="middle" fill="#1a1a1a" stroke="#1a1a1a" stroke-width="0.15">Fdh (NADH;</text>
<text x="555.1" y="850.09" font-size="12.2" text-anchor="middle" fill="#1a1a1a" stroke="#1a1a1a" stroke-width="0.15">Fd)</text>
<rect x="163.9" y="888.01" width="34.27" height="22.15" fill="#a09ac1"/>
<rect x="197.17" y="888.01" width="34.27" height="22.15" fill="#8781b1"/>
<rect x="230.43" y="888.01" width="33.27" height="22.15" fill="#8f8ab6"/>
<rect x="278.1" y="888.01" width="34.27" height="22.15" fill="#8a84b2"/>
<rect x="311.37" y="888.01" width="34.27" height="22.15" fill="#8a84b2"/>
<rect x="344.63" y="888.01" width="33.27" height="22.15" fill="#8781b1"/>
<rect x="393.1" y="888.01" width="34.27" height="22.15" fill="#827cad"/>
<rect x="426.37" y="888.01" width="34.27" height="22.15" fill="#827cad"/>
<rect x="459.63" y="888.01" width="33.27" height="22.15" fill="#8781b1"/>
<line x1="156.1" y1="898.59" x2="160.5" y2="898.59" stroke="#333" stroke-width="1.0"/>
<text x="153" y="904.29" font-size="16.15" text-anchor="end" stroke="#000" stroke-width="0.2">HydA (1<tspan dy="-1.2">_</tspan><tspan dy="1.2">400)</tspan></text>
<rect x="163.9" y="909.16" width="34.27" height="22.15" fill="#8d87b4"/>
<rect x="197.17" y="909.16" width="34.27" height="22.15" fill="#9a95bd"/>
<rect x="230.43" y="909.16" width="33.27" height="22.15" fill="#8f8ab6"/>
<rect x="278.1" y="909.16" width="34.27" height="22.15" fill="#8f8ab6"/>
<rect x="311.37" y="909.16" width="34.27" height="22.15" fill="#8d87b4"/>
<rect x="344.63" y="909.16" width="33.27" height="22.15" fill="#8f8ab6"/>
<rect x="393.1" y="909.16" width="34.27" height="22.15" fill="#a09ac1"/>
<rect x="426.37" y="909.16" width="34.27" height="22.15" fill="#8a84b2"/>
<rect x="459.63" y="909.16" width="33.27" height="22.15" fill="#8a84b2"/>
<line x1="156.1" y1="919.74" x2="160.5" y2="919.74" stroke="#333" stroke-width="1.0"/>
<text x="153" y="925.44" font-size="16.15" text-anchor="end" stroke="#000" stroke-width="0.2">HydB (1<tspan dy="-1.2">_</tspan><tspan dy="1.2">401)</tspan></text>
<rect x="163.9" y="930.31" width="34.27" height="21.15" fill="#7a74a8"/>
<rect x="197.17" y="930.31" width="34.27" height="21.15" fill="#7c77aa"/>
<rect x="230.43" y="930.31" width="33.27" height="21.15" fill="#7772a6"/>
<rect x="278.1" y="930.31" width="34.27" height="21.15" fill="#7772a6"/>
<rect x="311.37" y="930.31" width="34.27" height="21.15" fill="#7a74a8"/>
<rect x="344.63" y="930.31" width="33.27" height="21.15" fill="#756fa5"/>
<rect x="393.1" y="930.31" width="34.27" height="21.15" fill="#6d68a0"/>
<rect x="426.37" y="930.31" width="34.27" height="21.15" fill="#726da3"/>
<rect x="459.63" y="930.31" width="33.27" height="21.15" fill="#756fa5"/>
<line x1="156.1" y1="940.89" x2="160.5" y2="940.89" stroke="#333" stroke-width="1.0"/>
<text x="153" y="946.59" font-size="16.15" text-anchor="end" stroke="#000" stroke-width="0.2">HydC (1<tspan dy="-1.2">_</tspan><tspan dy="1.2">402)</tspan></text>
<rect x="163.9" y="972.61" width="34.27" height="22.15" fill="#aba6c8"/>
<rect x="197.17" y="972.61" width="34.27" height="22.15" fill="#bfbad5"/>
<rect x="230.43" y="972.61" width="33.27" height="22.15" fill="#bbb6d2"/>
<rect x="278.1" y="972.61" width="33.27" height="22.15" fill="#c6c3da"/>
<rect x="344.63" y="972.61" width="33.27" height="22.15" fill="#bdb8d4"/>
<line x1="156.1" y1="983.18" x2="160.5" y2="983.18" stroke="#333" stroke-width="1.0"/>
<text x="153" y="988.88" font-size="16.15" text-anchor="end" stroke="#000" stroke-width="0.2">HydA (26<tspan dy="-1.2">_</tspan><tspan dy="1.2">71)</tspan></text>
<rect x="163.9" y="993.76" width="34.27" height="22.15" fill="#9d97bf"/>
<rect x="197.17" y="993.76" width="34.27" height="22.15" fill="#9a95bd"/>
<rect x="230.43" y="993.76" width="33.27" height="22.15" fill="#a09ac1"/>
<rect x="278.1" y="993.76" width="34.27" height="22.15" fill="#9d97bf"/>
<rect x="311.37" y="993.76" width="34.27" height="22.15" fill="#9d97bf"/>
<rect x="344.63" y="993.76" width="33.27" height="22.15" fill="#a09ac1"/>
<rect x="393.1" y="993.76" width="34.27" height="22.15" fill="#928cb8"/>
<rect x="426.37" y="993.76" width="34.27" height="22.15" fill="#958fba"/>
<rect x="459.63" y="993.76" width="33.27" height="22.15" fill="#9a95bd"/>
<line x1="156.1" y1="1004.33" x2="160.5" y2="1004.33" stroke="#333" stroke-width="1.0"/>
<text x="153" y="1010.03" font-size="16.15" text-anchor="end" stroke="#000" stroke-width="0.2">HydB (26<tspan dy="-1.2">_</tspan><tspan dy="1.2">70)</tspan></text>
<rect x="163.9" y="1014.91" width="34.27" height="21.15" fill="#9d97bf"/>
<rect x="197.17" y="1014.91" width="34.27" height="21.15" fill="#827cad"/>
<rect x="230.43" y="1014.91" width="33.27" height="21.15" fill="#958fba"/>
<rect x="278.1" y="1014.91" width="34.27" height="21.15" fill="#9d97bf"/>
<rect x="311.37" y="1014.91" width="34.27" height="21.15" fill="#9892bb"/>
<rect x="344.63" y="1014.91" width="33.27" height="21.15" fill="#928cb8"/>
<rect x="393.1" y="1014.91" width="34.27" height="21.15" fill="#928cb8"/>
<rect x="426.37" y="1014.91" width="34.27" height="21.15" fill="#958fba"/>
<rect x="459.63" y="1014.91" width="33.27" height="21.15" fill="#928cb8"/>
<line x1="156.1" y1="1025.48" x2="160.5" y2="1025.48" stroke="#333" stroke-width="1.0"/>
<text x="153" y="1031.18" font-size="16.15" text-anchor="end" stroke="#000" stroke-width="0.2">HydC (26<tspan dy="-1.2">_</tspan><tspan dy="1.2">69)</tspan></text>
<line x1="160.5" y1="888.01" x2="160.5" y2="1036.06" stroke="#000000" stroke-width="1.15"/>
<rect x="496.6" y="888.01" width="117" height="148.04" fill="#f2f2f2" stroke="#262626" stroke-width="1.2"/>
<text x="555.1" y="941.14" font-size="12.2" text-anchor="middle" fill="#1a1a1a" stroke="#1a1a1a" stroke-width="0.15">7. Electron−</text>
<text x="555.1" y="953.74" font-size="12.2" text-anchor="middle" fill="#1a1a1a" stroke="#1a1a1a" stroke-width="0.15">confurcating</text>
<text x="555.1" y="966.34" font-size="12.2" text-anchor="middle" fill="#1a1a1a" stroke="#1a1a1a" stroke-width="0.15">[FeFe]</text>
<text x="555.1" y="978.94" font-size="12.2" text-anchor="middle" fill="#1a1a1a" stroke="#1a1a1a" stroke-width="0.15">H2−ases</text>
<text x="555.1" y="991.54" font-size="12.2" text-anchor="middle" fill="#1a1a1a" stroke="#1a1a1a" stroke-width="0.15">(NADH; Fd)</text>
<rect x="163.9" y="1044.31" width="34.27" height="22.15" fill="#6d68a0"/>
<rect x="197.17" y="1044.31" width="34.27" height="22.15" fill="#726da3"/>
<rect x="230.43" y="1044.31" width="33.27" height="22.15" fill="#afaacb"/>
<rect x="278.1" y="1044.31" width="34.27" height="22.15" fill="#b7b2d0"/>
<rect x="311.37" y="1044.31" width="34.27" height="22.15" fill="#aba6c8"/>
<rect x="344.63" y="1044.31" width="33.27" height="22.15" fill="#a7a2c6"/>
<rect x="393.1" y="1044.31" width="34.27" height="22.15" fill="#5e5a96"/>
<rect x="426.37" y="1044.31" width="34.27" height="22.15" fill="#b7b2d0"/>
<rect x="459.63" y="1044.31" width="33.27" height="22.15" fill="#9d97bf"/>
<line x1="156.1" y1="1054.88" x2="160.5" y2="1054.88" stroke="#333" stroke-width="1.0"/>
<text x="153" y="1060.58" font-size="16.15" text-anchor="end" stroke="#000" stroke-width="0.2">EchA (5<tspan dy="-1.2">_</tspan><tspan dy="1.2">9)</tspan></text>
<rect x="163.9" y="1065.46" width="34.27" height="22.15" fill="#545190"/>
<rect x="197.17" y="1065.46" width="34.27" height="22.15" fill="#68639d"/>
<rect x="230.43" y="1065.46" width="33.27" height="22.15" fill="#5e5a96"/>
<rect x="278.1" y="1065.46" width="34.27" height="22.15" fill="#7772a6"/>
<rect x="311.37" y="1065.46" width="34.27" height="22.15" fill="#5c5795"/>
<rect x="344.63" y="1065.46" width="33.27" height="22.15" fill="#5c5795"/>
<rect x="393.1" y="1065.46" width="34.27" height="22.15" fill="#484689"/>
<rect x="426.37" y="1065.46" width="34.27" height="22.15" fill="#565391"/>
<rect x="459.63" y="1065.46" width="33.27" height="22.15" fill="#635e99"/>
<line x1="156.1" y1="1076.03" x2="160.5" y2="1076.03" stroke="#333" stroke-width="1.0"/>
<text x="153" y="1081.73" font-size="16.15" text-anchor="end" stroke="#000" stroke-width="0.2">EchB (5<tspan dy="-1.2">_</tspan><tspan dy="1.2">10)</tspan></text>
<rect x="163.9" y="1086.6" width="34.27" height="22.15" fill="#4f4c8d"/>
<rect x="197.17" y="1086.6" width="34.27" height="22.15" fill="#595593"/>
<rect x="230.43" y="1086.6" width="33.27" height="22.15" fill="#545190"/>
<rect x="278.1" y="1086.6" width="34.27" height="22.15" fill="#545190"/>
<rect x="311.37" y="1086.6" width="34.27" height="22.15" fill="#7772a6"/>
<rect x="344.63" y="1086.6" width="33.27" height="22.15" fill="#726da3"/>
<rect x="393.1" y="1086.6" width="34.27" height="22.15" fill="#706aa1"/>
<rect x="426.37" y="1086.6" width="34.27" height="22.15" fill="#4b498b"/>
<rect x="459.63" y="1086.6" width="33.27" height="22.15" fill="#4b498b"/>
<line x1="156.1" y1="1097.18" x2="160.5" y2="1097.18" stroke="#333" stroke-width="1.0"/>
<text x="153" y="1102.88" font-size="16.15" text-anchor="end" stroke="#000" stroke-width="0.2">EchC (5<tspan dy="-1.2">_</tspan><tspan dy="1.2">11)</tspan></text>
<rect x="163.9" y="1107.75" width="34.27" height="22.15" fill="#847faf"/>
<rect x="197.17" y="1107.75" width="34.27" height="22.15" fill="#8d87b4"/>
<rect x="230.43" y="1107.75" width="33.27" height="22.15" fill="#928cb8"/>
<rect x="278.1" y="1107.75" width="34.27" height="22.15" fill="#8a84b2"/>
<rect x="311.37" y="1107.75" width="34.27" height="22.15" fill="#9892bb"/>
<rect x="344.63" y="1107.75" width="33.27" height="22.15" fill="#928cb8"/>
<rect x="393.1" y="1107.75" width="34.27" height="22.15" fill="#7c77aa"/>
<rect x="426.37" y="1107.75" width="34.27" height="22.15" fill="#635e99"/>
<rect x="459.63" y="1107.75" width="33.27" height="22.15" fill="#635e99"/>
<line x1="156.1" y1="1118.33" x2="160.5" y2="1118.33" stroke="#333" stroke-width="1.0"/>
<text x="153" y="1124.03" font-size="16.15" text-anchor="end" stroke="#000" stroke-width="0.2">EchD (5<tspan dy="-1.2">_</tspan><tspan dy="1.2">12)</tspan></text>
<rect x="163.9" y="1128.9" width="34.27" height="22.15" fill="#3e3e83"/>
<rect x="197.17" y="1128.9" width="34.27" height="22.15" fill="#414185"/>
<rect x="230.43" y="1128.9" width="33.27" height="22.15" fill="#404084"/>
<rect x="278.1" y="1128.9" width="34.27" height="22.15" fill="#3e3e83"/>
<rect x="311.37" y="1128.9" width="34.27" height="22.15" fill="#3e3e83"/>
<rect x="344.63" y="1128.9" width="33.27" height="22.15" fill="#3e3e83"/>
<rect x="393.1" y="1128.9" width="34.27" height="22.15" fill="#32357c"/>
<rect x="426.37" y="1128.9" width="34.27" height="22.15" fill="#38397f"/>
<rect x="459.63" y="1128.9" width="33.27" height="22.15" fill="#38397f"/>
<line x1="156.1" y1="1139.48" x2="160.5" y2="1139.48" stroke="#333" stroke-width="1.0"/>
<text x="153" y="1145.18" font-size="16.15" text-anchor="end" stroke="#000" stroke-width="0.2">EchE (5<tspan dy="-1.2">_</tspan><tspan dy="1.2">13)</tspan></text>
<rect x="163.9" y="1150.05" width="34.27" height="21.15" fill="#4b498b"/>
<rect x="197.17" y="1150.05" width="34.27" height="21.15" fill="#484689"/>
<rect x="230.43" y="1150.05" width="33.27" height="21.15" fill="#4a488a"/>
<rect x="278.1" y="1150.05" width="34.27" height="21.15" fill="#4b498b"/>
<rect x="311.37" y="1150.05" width="34.27" height="21.15" fill="#414185"/>
<rect x="344.63" y="1150.05" width="33.27" height="21.15" fill="#484689"/>
<rect x="393.1" y="1150.05" width="34.27" height="21.15" fill="#414185"/>
<rect x="426.37" y="1150.05" width="34.27" height="21.15" fill="#414185"/>
<rect x="459.63" y="1150.05" width="33.27" height="21.15" fill="#454487"/>
<line x1="156.1" y1="1160.63" x2="160.5" y2="1160.63" stroke="#333" stroke-width="1.0"/>
<text x="153" y="1166.33" font-size="16.15" text-anchor="end" stroke="#000" stroke-width="0.2">EchF (5<tspan dy="-1.2">_</tspan><tspan dy="1.2">14)</tspan></text>
<line x1="160.5" y1="1044.31" x2="160.5" y2="1171.2" stroke="#000000" stroke-width="1.15"/>
<rect x="496.6" y="1044.31" width="117" height="126.89" fill="#f2f2f2" stroke="#262626" stroke-width="1.2"/>
<text x="555.1" y="1099.45" font-size="12.2" text-anchor="middle" fill="#1a1a1a" stroke="#1a1a1a" stroke-width="0.15">8.</text>
<text x="555.1" y="1112.05" font-size="12.2" text-anchor="middle" fill="#1a1a1a" stroke="#1a1a1a" stroke-width="0.15">Energy−conserving</text>
<text x="555.1" y="1124.65" font-size="12.2" text-anchor="middle" fill="#1a1a1a" stroke="#1a1a1a" stroke-width="0.15">H2−ase</text>
<rect x="163.9" y="1179.45" width="34.27" height="21.15" fill="#a5a0c4"/>
<rect x="197.17" y="1179.45" width="34.27" height="21.15" fill="#a5a0c4"/>
<rect x="230.43" y="1179.45" width="33.27" height="21.15" fill="#a5a0c4"/>
<rect x="278.1" y="1179.45" width="34.27" height="21.15" fill="#a29dc3"/>
<rect x="311.37" y="1179.45" width="34.27" height="21.15" fill="#a29dc3"/>
<rect x="344.63" y="1179.45" width="33.27" height="21.15" fill="#a29dc3"/>
<rect x="393.1" y="1179.45" width="34.27" height="21.15" fill="#9d97bf"/>
<rect x="426.37" y="1179.45" width="34.27" height="21.15" fill="#a29dc3"/>
<rect x="459.63" y="1179.45" width="33.27" height="21.15" fill="#a29dc3"/>
<line x1="156.1" y1="1190.03" x2="160.5" y2="1190.03" stroke="#333" stroke-width="1.0"/>
<line x1="160.5" y1="1179.45" x2="160.5" y2="1201.4" stroke="#000000" stroke-width="1.15"/>
<rect x="496.6" y="1179.45" width="117" height="21.15" fill="#f2f2f2" stroke="#262626" stroke-width="1.2"/>
<text x="555.1" y="1194.33" font-size="12.2" text-anchor="middle" fill="#1a1a1a" stroke="#1a1a1a" stroke-width="0.15">Median</text>
<line x1="160.1" y1="1200.9" x2="266.7" y2="1200.9" stroke="#000000" stroke-width="1.4"/>
<line x1="180.53" y1="1200.9" x2="180.53" y2="1205.2" stroke="#222" stroke-width="1.1"/>
<line x1="213.8" y1="1200.9" x2="213.8" y2="1205.2" stroke="#222" stroke-width="1.1"/>
<line x1="247.07" y1="1200.9" x2="247.07" y2="1205.2" stroke="#222" stroke-width="1.1"/>
<line x1="275" y1="1200.9" x2="381.4" y2="1200.9" stroke="#000000" stroke-width="1.4"/>
<line x1="294.73" y1="1200.9" x2="294.73" y2="1205.2" stroke="#222" stroke-width="1.1"/>
<line x1="328" y1="1200.9" x2="328" y2="1205.2" stroke="#222" stroke-width="1.1"/>
<line x1="361.27" y1="1200.9" x2="361.27" y2="1205.2" stroke="#222" stroke-width="1.1"/>
<line x1="389.4" y1="1200.9" x2="496" y2="1200.9" stroke="#000000" stroke-width="1.4"/>
<line x1="409.73" y1="1200.9" x2="409.73" y2="1205.2" stroke="#222" stroke-width="1.1"/>
<line x1="443" y1="1200.9" x2="443" y2="1205.2" stroke="#222" stroke-width="1.1"/>
<line x1="476.27" y1="1200.9" x2="476.27" y2="1205.2" stroke="#222" stroke-width="1.1"/>
<text x="328.3" y="1220.6" font-size="16.15" text-anchor="middle" stroke="#000" stroke-width="0.2">Replicate</text>
<text x="206" y="1275.8" font-size="16.15" stroke="#000" stroke-width="0.2">Log10[Tot. Prot.]</text>
<defs><linearGradient id="gA" x1="0" x2="1" y1="0" y2="0"><stop offset="0.00" stop-color="#ffffff"/><stop offset="0.05" stop-color="#f4f4f8"/><stop offset="0.10" stop-color="#eae8f1"/><stop offset="0.15" stop-color="#dfddea"/><stop offset="0.20" stop-color="#d5d2e4"/><stop offset="0.25" stop-color="#cac7dd"/><stop offset="0.30" stop-color="#c0bcd6"/><stop offset="0.35" stop-color="#b6b1cf"/><stop offset="0.40" stop-color="#aba6c8"/><stop offset="0.45" stop-color="#a19cc2"/><stop offset="0.50" stop-color="#9791bb"/><stop offset="0.55" stop-color="#8d87b4"/><stop offset="0.60" stop-color="#827dae"/><stop offset="0.65" stop-color="#7873a7"/><stop offset="0.70" stop-color="#6e69a0"/><stop offset="0.75" stop-color="#645f9a"/><stop offset="0.80" stop-color="#595593"/><stop offset="0.85" stop-color="#4f4c8d"/><stop offset="0.90" stop-color="#444386"/><stop offset="0.95" stop-color="#383a7f"/><stop offset="1.00" stop-color="#2c3179"/></linearGradient></defs>
<rect x="333.8" y="1247.2" width="115.9" height="24.7" fill="url(#gA)"/>
<line x1="334.5" y1="1247.2" x2="334.5" y2="1252.2" stroke="#fff" stroke-opacity="0.75" stroke-width="1"/>
<line x1="334.5" y1="1266.9" x2="334.5" y2="1271.9" stroke="#fff" stroke-opacity="0.75" stroke-width="1"/>
<text x="334.5" y="1289.4" font-size="13.2" text-anchor="middle" fill="#1a1a1a">−4</text>
<line x1="355.7" y1="1247.2" x2="355.7" y2="1252.2" stroke="#fff" stroke-opacity="0.75" stroke-width="1"/>
<line x1="355.7" y1="1266.9" x2="355.7" y2="1271.9" stroke="#fff" stroke-opacity="0.75" stroke-width="1"/>
<text x="355.7" y="1289.4" font-size="13.2" text-anchor="middle" fill="#1a1a1a">−3</text>
<line x1="377.2" y1="1247.2" x2="377.2" y2="1252.2" stroke="#fff" stroke-opacity="0.75" stroke-width="1"/>
<line x1="377.2" y1="1266.9" x2="377.2" y2="1271.9" stroke="#fff" stroke-opacity="0.75" stroke-width="1"/>
<text x="377.2" y="1289.4" font-size="13.2" text-anchor="middle" fill="#1a1a1a">−2</text>
<line x1="398.4" y1="1247.2" x2="398.4" y2="1252.2" stroke="#fff" stroke-opacity="0.75" stroke-width="1"/>
<line x1="398.4" y1="1266.9" x2="398.4" y2="1271.9" stroke="#fff" stroke-opacity="0.75" stroke-width="1"/>
<text x="398.4" y="1289.4" font-size="13.2" text-anchor="middle" fill="#1a1a1a">−1</text>
<line x1="419.4" y1="1247.2" x2="419.4" y2="1252.2" stroke="#fff" stroke-opacity="0.75" stroke-width="1"/>
<line x1="419.4" y1="1266.9" x2="419.4" y2="1271.9" stroke="#fff" stroke-opacity="0.75" stroke-width="1"/>
<text x="419.4" y="1289.4" font-size="13.2" text-anchor="middle" fill="#1a1a1a">0</text>
<line x1="440.5" y1="1247.2" x2="440.5" y2="1252.2" stroke="#fff" stroke-opacity="0.75" stroke-width="1"/>
<line x1="440.5" y1="1266.9" x2="440.5" y2="1271.9" stroke="#fff" stroke-opacity="0.75" stroke-width="1"/>
<text x="440.5" y="1289.4" font-size="13.2" text-anchor="middle" fill="#1a1a1a">1</text>
<text x="635.1" y="31.7" font-size="36" font-weight="bold" textLength="25.0" lengthAdjust="spacingAndGlyphs">B</text>
<text x="829.6" y="18.4" font-size="21.6" fill="#e89e16" font-style="italic">Methanothermobacter_1</text>
<rect x="830" y="30.75" width="104.9" height="24.6" fill="#f2f2f2" stroke="#262626" stroke-width="1.2"/>
<text x="882.45" y="48" font-size="14.2" text-anchor="middle" fill="#1a1a1a" stroke="#1a1a1a" stroke-width="0.15">24</text>
<rect x="944.8" y="30.75" width="104.6" height="24.6" fill="#f2f2f2" stroke="#262626" stroke-width="1.2"/>
<text x="997.1" y="48" font-size="14.2" text-anchor="middle" fill="#1a1a1a" stroke="#1a1a1a" stroke-width="0.15">144</text>
<rect x="1058.9" y="30.75" width="105.1" height="24.6" fill="#f2f2f2" stroke="#262626" stroke-width="1.2"/>
<text x="1111.45" y="48" font-size="14.2" text-anchor="middle" fill="#1a1a1a" stroke="#1a1a1a" stroke-width="0.15">408</text>
<rect x="832.4" y="56" width="34.3" height="19.39" fill="#f5b761"/>
<rect x="865.7" y="56" width="34.3" height="19.39" fill="#f5b65e"/>
<rect x="899" y="56" width="33.3" height="19.39" fill="#f5b761"/>
<rect x="947" y="56" width="34.3" height="19.39" fill="#f5b65e"/>
<rect x="980.3" y="56" width="34.3" height="19.39" fill="#f5b65e"/>
<rect x="1013.6" y="56" width="33.3" height="19.39" fill="#f5b65e"/>
<rect x="1061.5" y="56" width="34.3" height="19.39" fill="#f4b359"/>
<rect x="1094.8" y="56" width="34.3" height="19.39" fill="#f4b55b"/>
<rect x="1128.1" y="56" width="33.3" height="19.39" fill="#f4b55b"/>
<line x1="825.2" y1="65.19" x2="829.6" y2="65.19" stroke="#333" stroke-width="1.0"/>
<text x="822.1" y="70.89" font-size="16.15" text-anchor="end" stroke="#000" stroke-width="0.2">FwdB (5<tspan dy="-1.2">_</tspan><tspan dy="1.2">215)</tspan></text>
<rect x="832.4" y="74.39" width="34.3" height="19.39" fill="#f5b65e"/>
<rect x="865.7" y="74.39" width="34.3" height="19.39" fill="#f7ba67"/>
<rect x="899" y="74.39" width="33.3" height="19.39" fill="#f6b863"/>
<rect x="947" y="74.39" width="34.3" height="19.39" fill="#f5b761"/>
<rect x="980.3" y="74.39" width="34.3" height="19.39" fill="#f5b761"/>
<rect x="1013.6" y="74.39" width="33.3" height="19.39" fill="#f5b761"/>
<rect x="1061.5" y="74.39" width="34.3" height="19.39" fill="#f4b55b"/>
<rect x="1094.8" y="74.39" width="34.3" height="19.39" fill="#f4b55b"/>
<rect x="1128.1" y="74.39" width="33.3" height="19.39" fill="#f4b55b"/>
<line x1="825.2" y1="83.58" x2="829.6" y2="83.58" stroke="#333" stroke-width="1.0"/>
<text x="822.1" y="89.28" font-size="16.15" text-anchor="end" stroke="#000" stroke-width="0.2">FwdC (5<tspan dy="-1.2">_</tspan><tspan dy="1.2">216)</tspan></text>
<rect x="832.4" y="92.78" width="34.3" height="19.39" fill="#f6b863"/>
<rect x="865.7" y="92.78" width="34.3" height="19.39" fill="#f6b863"/>
<rect x="899" y="92.78" width="33.3" height="19.39" fill="#f7bc6c"/>
<rect x="947" y="92.78" width="34.3" height="19.39" fill="#f7bc6c"/>
<rect x="980.3" y="92.78" width="34.3" height="19.39" fill="#f5b761"/>
<rect x="1013.6" y="92.78" width="33.3" height="19.39" fill="#f7ba67"/>
<rect x="1061.5" y="92.78" width="34.3" height="19.39" fill="#f4b55b"/>
<rect x="1094.8" y="92.78" width="34.3" height="19.39" fill="#f6b863"/>
<rect x="1128.1" y="92.78" width="33.3" height="19.39" fill="#f6b863"/>
<line x1="825.2" y1="101.97" x2="829.6" y2="101.97" stroke="#333" stroke-width="1.0"/>
<text x="822.1" y="107.67" font-size="16.15" text-anchor="end" stroke="#000" stroke-width="0.2">FwdA (5<tspan dy="-1.2">_</tspan><tspan dy="1.2">217)</tspan></text>
<rect x="832.4" y="111.16" width="34.3" height="19.39" fill="#f9bf75"/>
<rect x="865.7" y="111.16" width="34.3" height="19.39" fill="#f9bf75"/>
<rect x="899" y="111.16" width="33.3" height="19.39" fill="#f5b65e"/>
<rect x="947" y="111.16" width="34.3" height="19.39" fill="#f9c179"/>
<rect x="980.3" y="111.16" width="34.3" height="19.39" fill="#f9c179"/>
<rect x="1013.6" y="111.16" width="33.3" height="19.39" fill="#f5b65e"/>
<rect x="1061.5" y="111.16" width="34.3" height="19.39" fill="#f7bc6c"/>
<rect x="1094.8" y="111.16" width="34.3" height="19.39" fill="#f4b55b"/>
<rect x="1128.1" y="111.16" width="33.3" height="19.39" fill="#f9c179"/>
<line x1="825.2" y1="120.36" x2="829.6" y2="120.36" stroke="#333" stroke-width="1.0"/>
<text x="822.1" y="126.06" font-size="16.15" text-anchor="end" stroke="#000" stroke-width="0.2">FwdD (5<tspan dy="-1.2">_</tspan><tspan dy="1.2">218)</tspan></text>
<rect x="832.4" y="129.55" width="34.3" height="19.39" fill="#f9c179"/>
<rect x="865.7" y="129.55" width="34.3" height="19.39" fill="#fbc582"/>
<rect x="899" y="129.55" width="33.3" height="19.39" fill="#fac37d"/>
<rect x="947" y="129.55" width="34.3" height="19.39" fill="#fac37d"/>
<rect x="980.3" y="129.55" width="34.3" height="19.39" fill="#fbc582"/>
<rect x="1013.6" y="129.55" width="33.3" height="19.39" fill="#fac37d"/>
<rect x="1061.5" y="129.55" width="34.3" height="19.39" fill="#f9bf75"/>
<rect x="1094.8" y="129.55" width="34.3" height="19.39" fill="#f9c179"/>
<rect x="1128.1" y="129.55" width="33.3" height="19.39" fill="#f9c179"/>
<line x1="825.2" y1="138.74" x2="829.6" y2="138.74" stroke="#333" stroke-width="1.0"/>
<text x="822.1" y="144.44" font-size="16.15" text-anchor="end" stroke="#000" stroke-width="0.2">FwdG (5<tspan dy="-1.2">_</tspan><tspan dy="1.2">219)</tspan></text>
<rect x="832.4" y="147.94" width="34.3" height="19.39" fill="#f7ba67"/>
<rect x="865.7" y="147.94" width="34.3" height="19.39" fill="#f7ba67"/>
<rect x="899" y="147.94" width="33.3" height="19.39" fill="#f7ba67"/>
<rect x="947" y="147.94" width="34.3" height="19.39" fill="#f7ba67"/>
<rect x="980.3" y="147.94" width="34.3" height="18.39" fill="#f7ba67"/>
<rect x="1013.6" y="147.94" width="33.3" height="19.39" fill="#f7ba67"/>
<rect x="1061.5" y="147.94" width="34.3" height="19.39" fill="#f6b863"/>
<rect x="1094.8" y="147.94" width="34.3" height="19.39" fill="#f6b863"/>
<rect x="1128.1" y="147.94" width="33.3" height="19.39" fill="#f7ba67"/>
<line x1="825.2" y1="157.13" x2="829.6" y2="157.13" stroke="#333" stroke-width="1.0"/>
<text x="822.1" y="162.83" font-size="16.15" text-anchor="end" stroke="#000" stroke-width="0.2">FwdF (5<tspan dy="-1.2">_</tspan><tspan dy="1.2">220)</tspan></text>
<rect x="832.4" y="166.32" width="34.3" height="19.39" fill="#ffd7a9"/>
<rect x="865.7" y="166.32" width="34.3" height="18.39" fill="#ffd7a9"/>
<rect x="899" y="166.32" width="33.3" height="19.39" fill="#ffd5a4"/>
<rect x="947" y="166.32" width="33.3" height="19.39" fill="#ffd7a9"/>
<rect x="1013.6" y="166.32" width="33.3" height="19.39" fill="#fed4a2"/>
<rect x="1061.5" y="166.32" width="34.3" height="19.39" fill="#fdcd93"/>
<rect x="1094.8" y="166.32" width="34.3" height="19.39" fill="#ffd5a4"/>
<rect x="1128.1" y="166.32" width="33.3" height="19.39" fill="#fed3a0"/>
<line x1="825.2" y1="175.52" x2="829.6" y2="175.52" stroke="#333" stroke-width="1.0"/>
<text x="822.1" y="181.22" font-size="16.15" text-anchor="end" stroke="#000" stroke-width="0.2">FwdH (5<tspan dy="-1.2">_</tspan><tspan dy="1.2">221)</tspan></text>
<rect x="832.4" y="184.71" width="33.3" height="19.39" fill="#ffead2"/>
<rect x="899" y="184.71" width="33.3" height="19.39" fill="#ffe1bd"/>
<rect x="947" y="184.71" width="34.3" height="19.39" fill="#fff5ea"/>
<rect x="980.3" y="184.71" width="34.3" height="19.39" fill="#ffe8ce"/>
<rect x="1013.6" y="184.71" width="33.3" height="19.39" fill="#ffe3c1"/>
<rect x="1061.5" y="184.71" width="34.3" height="18.39" fill="#ffe1bd"/>
<rect x="1094.8" y="184.71" width="34.3" height="19.39" fill="#ffe6c9"/>
<rect x="1128.1" y="184.71" width="33.3" height="18.39" fill="#ffddb5"/>
<line x1="825.2" y1="193.91" x2="829.6" y2="193.91" stroke="#333" stroke-width="1.0"/>
<text x="822.1" y="199.61" font-size="16.15" text-anchor="end" stroke="#000" stroke-width="0.2">FdhA/FlpF (5<tspan dy="-1.2">_</tspan><tspan dy="1.2">222)</tspan></text>
<rect x="832.4" y="203.1" width="34.3" height="19.39" fill="#ffd9ad"/>
<rect x="865.7" y="203.1" width="34.3" height="19.39" fill="#ffd9ad"/>
<rect x="899" y="203.1" width="33.3" height="19.39" fill="#ffd7a9"/>
<rect x="947" y="203.1" width="34.3" height="19.39" fill="#ffd9ad"/>
<rect x="980.3" y="203.1" width="34.3" height="19.39" fill="#ffddb5"/>
<rect x="1013.6" y="203.1" width="33.3" height="19.39" fill="#ffd7a9"/>
<rect x="1094.8" y="203.1" width="33.3" height="19.39" fill="#ffd7a9"/>
<line x1="825.2" y1="212.29" x2="829.6" y2="212.29" stroke="#333" stroke-width="1.0"/>
<text x="822.1" y="217.99" font-size="16.15" text-anchor="end" stroke="#000" stroke-width="0.2">FwdC (2<tspan dy="-1.2">_</tspan><tspan dy="1.2">453)</tspan></text>
<rect x="832.4" y="221.49" width="34.3" height="19.39" fill="#fed3a0"/>
<rect x="865.7" y="221.49" width="34.3" height="19.39" fill="#ffd7a9"/>
<rect x="899" y="221.49" width="33.3" height="19.39" fill="#ffd9ad"/>
<rect x="947" y="221.49" width="34.3" height="19.39" fill="#ffdbb1"/>
<rect x="980.3" y="221.49" width="34.3" height="19.39" fill="#ffdbb1"/>
<rect x="1013.6" y="221.49" width="33.3" height="19.39" fill="#ffd5a4"/>
<rect x="1061.5" y="221.49" width="34.3" height="19.39" fill="#ffd7a9"/>
<rect x="1094.8" y="221.49" width="34.3" height="19.39" fill="#fed3a0"/>
<rect x="1128.1" y="221.49" width="33.3" height="19.39" fill="#ffd7a9"/>
<line x1="825.2" y1="230.68" x2="829.6" y2="230.68" stroke="#333" stroke-width="1.0"/>
<text x="822.1" y="236.38" font-size="16.15" text-anchor="end" stroke="#000" stroke-width="0.2">Ftr (2<tspan dy="-1.2">_</tspan><tspan dy="1.2">341)</tspan></text>
<rect x="832.4" y="239.88" width="34.3" height="19.39" fill="#fac37d"/>
<rect x="865.7" y="239.88" width="34.3" height="19.39" fill="#fbc582"/>
<rect x="899" y="239.88" width="33.3" height="19.39" fill="#fbc582"/>
<rect x="947" y="239.88" width="34.3" height="19.39" fill="#fac37d"/>
<rect x="980.3" y="239.88" width="34.3" height="19.39" fill="#fbc582"/>
<rect x="1013.6" y="239.88" width="33.3" height="19.39" fill="#fac37d"/>
<rect x="1061.5" y="239.88" width="34.3" height="19.39" fill="#f9c179"/>
<rect x="1094.8" y="239.88" width="34.3" height="19.39" fill="#fac37d"/>
<rect x="1128.1" y="239.88" width="33.3" height="19.39" fill="#f9c179"/>
<line x1="825.2" y1="249.07" x2="829.6" y2="249.07" stroke="#333" stroke-width="1.0"/>
<text x="822.1" y="254.77" font-size="16.15" text-anchor="end" stroke="#000" stroke-width="0.2">Mch (2<tspan dy="-1.2">_</tspan><tspan dy="1.2">216)</tspan></text>
<rect x="832.4" y="258.26" width="34.3" height="19.39" fill="#efa93e"/>
<rect x="865.7" y="258.26" width="34.3" height="19.39" fill="#efa93e"/>
<rect x="899" y="258.26" width="33.3" height="19.39" fill="#efa93e"/>
<rect x="947" y="258.26" width="34.3" height="19.39" fill="#efa93e"/>
<rect x="980.3" y="258.26" width="34.3" height="19.39" fill="#efa93e"/>
<rect x="1013.6" y="258.26" width="33.3" height="19.39" fill="#efa93e"/>
<rect x="1061.5" y="258.26" width="34.3" height="19.39" fill="#eea638"/>
<rect x="1094.8" y="258.26" width="34.3" height="19.39" fill="#efa93e"/>
<rect x="1128.1" y="258.26" width="33.3" height="19.39" fill="#efa93e"/>
<line x1="825.2" y1="267.46" x2="829.6" y2="267.46" stroke="#333" stroke-width="1.0"/>
<text x="822.1" y="273.16" font-size="16.15" text-anchor="end" stroke="#000" stroke-width="0.2">Mtd (5<tspan dy="-1.2">_</tspan><tspan dy="1.2">120)</tspan></text>
<rect x="832.4" y="276.65" width="34.3" height="18.39" fill="#f9c179"/>
<rect x="865.7" y="276.65" width="34.3" height="18.39" fill="#f9c179"/>
<rect x="899" y="276.65" width="33.3" height="18.39" fill="#f9c179"/>
<rect x="947" y="276.65" width="34.3" height="18.39" fill="#f9c179"/>
<rect x="980.3" y="276.65" width="34.3" height="18.39" fill="#f9c179"/>
<rect x="1013.6" y="276.65" width="33.3" height="18.39" fill="#f9bf75"/>
<rect x="1061.5" y="276.65" width="34.3" height="18.39" fill="#f8be70"/>
<rect x="1094.8" y="276.65" width="34.3" height="18.39" fill="#f9bf75"/>
<rect x="1128.1" y="276.65" width="33.3" height="18.39" fill="#f9bf75"/>
<line x1="825.2" y1="285.84" x2="829.6" y2="285.84" stroke="#333" stroke-width="1.0"/>
<text x="822.1" y="291.54" font-size="16.15" text-anchor="end" stroke="#000" stroke-width="0.2">Hmd (5<tspan dy="-1.2">_</tspan><tspan dy="1.2">71)</tspan></text>
<line x1="825.2" y1="304.23" x2="829.6" y2="304.23" stroke="#333" stroke-width="1.0"/>
<text x="822.1" y="309.93" font-size="16.15" text-anchor="end" stroke="#000" stroke-width="0.2">HmdB (1<tspan dy="-1.2">_</tspan><tspan dy="1.2">62)</tspan></text>
<line x1="825.2" y1="322.62" x2="829.6" y2="322.62" stroke="#333" stroke-width="1.0"/>
<text x="822.1" y="328.32" font-size="16.15" text-anchor="end" stroke="#000" stroke-width="0.2">Hmd (1<tspan dy="-1.2">_</tspan><tspan dy="1.2">63)</tspan></text>
<rect x="832.4" y="331.81" width="34.3" height="19.39" fill="#ffd9ad"/>
<rect x="865.7" y="331.81" width="34.3" height="19.39" fill="#ffddb5"/>
<rect x="899" y="331.81" width="33.3" height="19.39" fill="#ffd9ad"/>
<rect x="947" y="331.81" width="34.3" height="19.39" fill="#ffd9ad"/>
<rect x="980.3" y="331.81" width="34.3" height="19.39" fill="#ffd7a9"/>
<rect x="1013.6" y="331.81" width="33.3" height="19.39" fill="#ffddb5"/>
<rect x="1061.5" y="331.81" width="34.3" height="19.39" fill="#ffd9ad"/>
<rect x="1094.8" y="331.81" width="34.3" height="19.39" fill="#ffd5a4"/>
<rect x="1128.1" y="331.81" width="33.3" height="19.39" fill="#ffdbb1"/>
<line x1="825.2" y1="341.01" x2="829.6" y2="341.01" stroke="#333" stroke-width="1.0"/>
<text x="822.1" y="346.71" font-size="16.15" text-anchor="end" stroke="#000" stroke-width="0.2">HmdC (1<tspan dy="-1.2">_</tspan><tspan dy="1.2">64)</tspan></text>
<rect x="832.4" y="350.2" width="34.3" height="19.39" fill="#efa93e"/>
<rect x="865.7" y="350.2" width="34.3" height="19.39" fill="#f0ab43"/>
<rect x="899" y="350.2" width="33.3" height="19.39" fill="#efa93e"/>
<rect x="947" y="350.2" width="34.3" height="19.39" fill="#f0ab43"/>
<rect x="980.3" y="350.2" width="34.3" height="19.39" fill="#eea638"/>
<rect x="1013.6" y="350.2" width="33.3" height="19.39" fill="#eea638"/>
<rect x="1061.5" y="350.2" width="34.3" height="19.39" fill="#eda432"/>
<rect x="1094.8" y="350.2" width="34.3" height="19.39" fill="#eea638"/>
<rect x="1128.1" y="350.2" width="33.3" height="19.39" fill="#eea638"/>
<line x1="825.2" y1="359.39" x2="829.6" y2="359.39" stroke="#333" stroke-width="1.0"/>
<text x="822.1" y="365.09" font-size="16.15" text-anchor="end" stroke="#000" stroke-width="0.2">Mer (3<tspan dy="-1.2">_</tspan><tspan dy="1.2">150)</tspan></text>
<rect x="832.4" y="368.59" width="34.3" height="19.39" fill="#f3b154"/>
<rect x="865.7" y="368.59" width="34.3" height="19.39" fill="#f3b154"/>
<rect x="899" y="368.59" width="33.3" height="19.39" fill="#f3b154"/>
<rect x="947" y="368.59" width="34.3" height="19.39" fill="#f4b359"/>
<rect x="980.3" y="368.59" width="34.3" height="19.39" fill="#f4b359"/>
<rect x="1013.6" y="368.59" width="33.3" height="19.39" fill="#f4b359"/>
<rect x="1061.5" y="368.59" width="34.3" height="19.39" fill="#f2af4e"/>
<rect x="1094.8" y="368.59" width="34.3" height="19.39" fill="#f3b154"/>
<rect x="1128.1" y="368.59" width="33.3" height="19.39" fill="#f3b154"/>
<line x1="825.2" y1="377.78" x2="829.6" y2="377.78" stroke="#333" stroke-width="1.0"/>
<text x="822.1" y="383.48" font-size="16.15" text-anchor="end" stroke="#000" stroke-width="0.2">MtrE* (1<tspan dy="-1.2">_</tspan><tspan dy="1.2">42)</tspan></text>
<rect x="832.4" y="386.97" width="34.3" height="19.39" fill="#f3b154"/>
<rect x="865.7" y="386.97" width="34.3" height="19.39" fill="#f3b154"/>
<rect x="899" y="386.97" width="33.3" height="19.39" fill="#f3b154"/>
<rect x="947" y="386.97" width="34.3" height="19.39" fill="#f3b154"/>
<rect x="980.3" y="386.97" width="34.3" height="19.39" fill="#f2af4e"/>
<rect x="1013.6" y="386.97" width="33.3" height="19.39" fill="#f2af4e"/>
<rect x="1061.5" y="386.97" width="34.3" height="19.39" fill="#fcc98a"/>
<rect x="1094.8" y="386.97" width="34.3" height="19.39" fill="#f3b154"/>
<rect x="1128.1" y="386.97" width="33.3" height="19.39" fill="#f3b154"/>
<line x1="825.2" y1="396.17" x2="829.6" y2="396.17" stroke="#333" stroke-width="1.0"/>
<text x="822.1" y="401.87" font-size="16.15" text-anchor="end" stroke="#000" stroke-width="0.2">MtrD* (1<tspan dy="-1.2">_</tspan><tspan dy="1.2">43)</tspan></text>
<rect x="832.4" y="405.36" width="34.3" height="19.39" fill="#f6b863"/>
<rect x="865.7" y="405.36" width="34.3" height="19.39" fill="#f7ba67"/>
<rect x="899" y="405.36" width="33.3" height="19.39" fill="#f6b863"/>
<rect x="947" y="405.36" width="34.3" height="19.39" fill="#f6b863"/>
<rect x="980.3" y="405.36" width="34.3" height="19.39" fill="#f6b863"/>
<rect x="1013.6" y="405.36" width="33.3" height="19.39" fill="#f5b65e"/>
<rect x="1061.5" y="405.36" width="34.3" height="19.39" fill="#f4b55b"/>
<rect x="1094.8" y="405.36" width="34.3" height="19.39" fill="#f5b65e"/>
<rect x="1128.1" y="405.36" width="33.3" height="19.39" fill="#f5b65e"/>
<line x1="825.2" y1="414.56" x2="829.6" y2="414.56" stroke="#333" stroke-width="1.0"/>
<text x="822.1" y="420.26" font-size="16.15" text-anchor="end" stroke="#000" stroke-width="0.2">MtrC* (1<tspan dy="-1.2">_</tspan><tspan dy="1.2">44)</tspan></text>
<rect x="832.4" y="423.75" width="34.3" height="19.39" fill="#f4b359"/>
<rect x="865.7" y="423.75" width="34.3" height="19.39" fill="#f4b359"/>
<rect x="899" y="423.75" width="33.3" height="19.39" fill="#f4b359"/>
<rect x="947" y="423.75" width="34.3" height="19.39" fill="#f5b65e"/>
<rect x="980.3" y="423.75" width="34.3" height="19.39" fill="#f5b65e"/>
<rect x="1013.6" y="423.75" width="33.3" height="19.39" fill="#f3b154"/>
<rect x="1061.5" y="423.75" width="34.3" height="19.39" fill="#f3b154"/>
<rect x="1094.8" y="423.75" width="34.3" height="19.39" fill="#f3b154"/>
<rect x="1128.1" y="423.75" width="33.3" height="19.39" fill="#f3b154"/>
<line x1="825.2" y1="432.94" x2="829.6" y2="432.94" stroke="#333" stroke-width="1.0"/>
<text x="822.1" y="438.64" font-size="16.15" text-anchor="end" stroke="#000" stroke-width="0.2">MtrB* (1<tspan dy="-1.2">_</tspan><tspan dy="1.2">45)</tspan></text>
<rect x="832.4" y="442.14" width="34.3" height="19.39" fill="#f4b55b"/>
<rect x="865.7" y="442.14" width="34.3" height="19.39" fill="#f5b65e"/>
<rect x="899" y="442.14" width="33.3" height="19.39" fill="#f4b55b"/>
<rect x="947" y="442.14" width="34.3" height="19.39" fill="#f5b65e"/>
<rect x="980.3" y="442.14" width="34.3" height="19.39" fill="#f5b65e"/>
<rect x="1013.6" y="442.14" width="33.3" height="19.39" fill="#f4b55b"/>
<rect x="1061.5" y="442.14" width="34.3" height="19.39" fill="#f4b359"/>
<rect x="1094.8" y="442.14" width="34.3" height="19.39" fill="#f5b65e"/>
<rect x="1128.1" y="442.14" width="33.3" height="19.39" fill="#f5b761"/>
<line x1="825.2" y1="451.33" x2="829.6" y2="451.33" stroke="#333" stroke-width="1.0"/>
<text x="822.1" y="457.03" font-size="16.15" text-anchor="end" stroke="#000" stroke-width="0.2">MtrA* (1<tspan dy="-1.2">_</tspan><tspan dy="1.2">46)</tspan></text>
<rect x="832.4" y="460.52" width="34.3" height="19.39" fill="#f2af4e"/>
<rect x="865.7" y="460.52" width="34.3" height="19.39" fill="#f2af4e"/>
<rect x="899" y="460.52" width="33.3" height="19.39" fill="#f2af4e"/>
<rect x="947" y="460.52" width="34.3" height="19.39" fill="#f4b359"/>
<rect x="980.3" y="460.52" width="34.3" height="19.39" fill="#f2af4e"/>
<rect x="1013.6" y="460.52" width="33.3" height="19.39" fill="#f2af4e"/>
<rect x="1061.5" y="460.52" width="34.3" height="19.39" fill="#f2af4e"/>
<rect x="1094.8" y="460.52" width="34.3" height="19.39" fill="#f2af4e"/>
<rect x="1128.1" y="460.52" width="33.3" height="19.39" fill="#f2af4e"/>
<line x1="825.2" y1="469.72" x2="829.6" y2="469.72" stroke="#333" stroke-width="1.0"/>
<text x="822.1" y="475.42" font-size="16.15" text-anchor="end" stroke="#000" stroke-width="0.2">MtrF* (1<tspan dy="-1.2">_</tspan><tspan dy="1.2">47)</tspan></text>
<rect x="832.4" y="478.91" width="34.3" height="19.39" fill="#f2af4e"/>
<rect x="865.7" y="478.91" width="34.3" height="19.39" fill="#f2af4e"/>
<rect x="899" y="478.91" width="33.3" height="19.39" fill="#f2af4e"/>
<rect x="947" y="478.91" width="34.3" height="19.39" fill="#f2af4e"/>
<rect x="980.3" y="478.91" width="34.3" height="19.39" fill="#f1ad49"/>
<rect x="1013.6" y="478.91" width="33.3" height="19.39" fill="#f1ad49"/>
<rect x="1061.5" y="478.91" width="34.3" height="19.39" fill="#f1ad49"/>
<rect x="1094.8" y="478.91" width="34.3" height="19.39" fill="#f1ad49"/>
<rect x="1128.1" y="478.91" width="33.3" height="19.39" fill="#f1ad49"/>
<line x1="825.2" y1="488.11" x2="829.6" y2="488.11" stroke="#333" stroke-width="1.0"/>
<text x="822.1" y="493.81" font-size="16.15" text-anchor="end" stroke="#000" stroke-width="0.2">MtrG* (1<tspan dy="-1.2">_</tspan><tspan dy="1.2">48)</tspan></text>
<rect x="832.4" y="497.3" width="34.3" height="18.39" fill="#f2af4e"/>
<rect x="865.7" y="497.3" width="34.3" height="19.39" fill="#f3b154"/>
<rect x="899" y="497.3" width="33.3" height="19.39" fill="#f3b154"/>
<rect x="947" y="497.3" width="34.3" height="19.39" fill="#f3b154"/>
<rect x="980.3" y="497.3" width="34.3" height="19.39" fill="#f3b154"/>
<rect x="1013.6" y="497.3" width="33.3" height="18.39" fill="#f2af4e"/>
<rect x="1061.5" y="497.3" width="34.3" height="19.39" fill="#f2af4e"/>
<rect x="1094.8" y="497.3" width="34.3" height="19.39" fill="#f2af4e"/>
<rect x="1128.1" y="497.3" width="33.3" height="18.39" fill="#f1ad49"/>
<line x1="825.2" y1="506.49" x2="829.6" y2="506.49" stroke="#333" stroke-width="1.0"/>
<text x="822.1" y="512.19" font-size="16.15" text-anchor="end" stroke="#000" stroke-width="0.2">MtrH* (1<tspan dy="-1.2">_</tspan><tspan dy="1.2">49)</tspan></text>
<rect x="865.7" y="515.69" width="34.3" height="19.39" fill="#ffe8ce"/>
<rect x="899" y="515.69" width="33.3" height="19.39" fill="#ffe8ce"/>
<rect x="947" y="515.69" width="34.3" height="19.39" fill="#ffe6c9"/>
<rect x="980.3" y="515.69" width="33.3" height="19.39" fill="#ffe6c9"/>
<rect x="1061.5" y="515.69" width="34.3" height="19.39" fill="#ffdfb9"/>
<rect x="1094.8" y="515.69" width="33.3" height="19.39" fill="#ffe6c9"/>
<line x1="825.2" y1="524.88" x2="829.6" y2="524.88" stroke="#333" stroke-width="1.0"/>
<text x="822.1" y="530.58" font-size="16.15" text-anchor="end" stroke="#000" stroke-width="0.2">McrA Mtase (1<tspan dy="-1.2">_</tspan><tspan dy="1.2">36)</tspan></text>
<rect x="832.4" y="534.08" width="34.3" height="19.39" fill="#efa93e"/>
<rect x="865.7" y="534.08" width="34.3" height="19.39" fill="#f0ab43"/>
<rect x="899" y="534.08" width="33.3" height="19.39" fill="#f0ab43"/>
<rect x="947" y="534.08" width="34.3" height="19.39" fill="#f0ab43"/>
<rect x="980.3" y="534.08" width="34.3" height="19.39" fill="#efa93e"/>
<rect x="1013.6" y="534.08" width="33.3" height="19.39" fill="#efa93e"/>
<rect x="1061.5" y="534.08" width="34.3" height="19.39" fill="#efa93e"/>
<rect x="1094.8" y="534.08" width="34.3" height="19.39" fill="#efa93e"/>
<rect x="1128.1" y="534.08" width="33.3" height="19.39" fill="#efa93e"/>
<line x1="825.2" y1="543.27" x2="829.6" y2="543.27" stroke="#333" stroke-width="1.0"/>
<text x="822.1" y="548.97" font-size="16.15" text-anchor="end" stroke="#000" stroke-width="0.2">McrB (1<tspan dy="-1.2">_</tspan><tspan dy="1.2">37)</tspan></text>
<rect x="832.4" y="552.46" width="34.3" height="19.39" fill="#fcc98a"/>
<rect x="865.7" y="552.46" width="34.3" height="19.39" fill="#fcc98a"/>
<rect x="899" y="552.46" width="33.3" height="19.39" fill="#fccb8f"/>
<rect x="947" y="552.46" width="34.3" height="19.39" fill="#fcc98a"/>
<rect x="980.3" y="552.46" width="34.3" height="19.39" fill="#ffd9ad"/>
<rect x="1013.6" y="552.46" width="33.3" height="19.39" fill="#fcc98a"/>
<rect x="1061.5" y="552.46" width="34.3" height="19.39" fill="#fbc786"/>
<rect x="1094.8" y="552.46" width="34.3" height="19.39" fill="#fbc786"/>
<rect x="1128.1" y="552.46" width="33.3" height="19.39" fill="#fed3a0"/>
<line x1="825.2" y1="561.66" x2="829.6" y2="561.66" stroke="#333" stroke-width="1.0"/>
<text x="822.1" y="567.36" font-size="16.15" text-anchor="end" stroke="#000" stroke-width="0.2">McrD (1<tspan dy="-1.2">_</tspan><tspan dy="1.2">38)</tspan></text>
<rect x="832.4" y="570.85" width="34.3" height="19.39" fill="#fdcf97"/>
<rect x="865.7" y="570.85" width="34.3" height="19.39" fill="#fdcf97"/>
<rect x="899" y="570.85" width="33.3" height="19.39" fill="#fdcf97"/>
<rect x="947" y="570.85" width="34.3" height="19.39" fill="#fdcf97"/>
<rect x="980.3" y="570.85" width="34.3" height="19.39" fill="#fdcf97"/>
<rect x="1013.6" y="570.85" width="33.3" height="19.39" fill="#fdcf97"/>
<rect x="1061.5" y="570.85" width="34.3" height="19.39" fill="#fdcd93"/>
<rect x="1094.8" y="570.85" width="34.3" height="19.39" fill="#fdcd93"/>
<rect x="1128.1" y="570.85" width="33.3" height="19.39" fill="#fccb8f"/>
<line x1="825.2" y1="580.04" x2="829.6" y2="580.04" stroke="#333" stroke-width="1.0"/>
<text x="822.1" y="585.74" font-size="16.15" text-anchor="end" stroke="#000" stroke-width="0.2">McrC* (1<tspan dy="-1.2">_</tspan><tspan dy="1.2">39)</tspan></text>
<rect x="832.4" y="589.24" width="34.3" height="19.39" fill="#e99e1c"/>
<rect x="865.7" y="589.24" width="34.3" height="19.39" fill="#e99e1c"/>
<rect x="899" y="589.24" width="33.3" height="19.39" fill="#e99e1c"/>
<rect x="947" y="589.24" width="34.3" height="19.39" fill="#eaa024"/>
<rect x="980.3" y="589.24" width="34.3" height="19.39" fill="#e99e1c"/>
<rect x="1013.6" y="589.24" width="33.3" height="19.39" fill="#e99e1c"/>
<rect x="1061.5" y="589.24" width="34.3" height="19.39" fill="#e89c12"/>
<rect x="1094.8" y="589.24" width="34.3" height="19.39" fill="#e99e1c"/>
<rect x="1128.1" y="589.24" width="33.3" height="19.39" fill="#e99e1c"/>
<line x1="825.2" y1="598.43" x2="829.6" y2="598.43" stroke="#333" stroke-width="1.0"/>
<text x="822.1" y="604.13" font-size="16.15" text-anchor="end" stroke="#000" stroke-width="0.2">McrG* (1<tspan dy="-1.2">_</tspan><tspan dy="1.2">40)</tspan></text>
<rect x="832.4" y="607.62" width="34.3" height="18.39" fill="#efa93e"/>
<rect x="865.7" y="607.62" width="34.3" height="18.39" fill="#efa93e"/>
<rect x="899" y="607.62" width="33.3" height="18.39" fill="#efa93e"/>
<rect x="947" y="607.62" width="34.3" height="18.39" fill="#efa93e"/>
<rect x="980.3" y="607.62" width="34.3" height="18.39" fill="#efa93e"/>
<rect x="1013.6" y="607.62" width="33.3" height="18.39" fill="#efa93e"/>
<rect x="1061.5" y="607.62" width="34.3" height="18.39" fill="#eea638"/>
<rect x="1094.8" y="607.62" width="34.3" height="18.39" fill="#efa93e"/>
<rect x="1128.1" y="607.62" width="33.3" height="18.39" fill="#efa93e"/>
<line x1="825.2" y1="616.82" x2="829.6" y2="616.82" stroke="#333" stroke-width="1.0"/>
<text x="822.1" y="622.52" font-size="16.15" text-anchor="end" stroke="#000" stroke-width="0.2">McrA* (1<tspan dy="-1.2">_</tspan><tspan dy="1.2">41)</tspan></text>
<line x1="829.6" y1="56" x2="829.6" y2="626.01" stroke="#000000" stroke-width="1.15"/>
<rect x="1165.5" y="56" width="153.5" height="570.01" fill="#f2f2f2" stroke="#262626" stroke-width="1.2"/>
<text x="1242.25" y="332.71" font-size="12.2" text-anchor="middle" fill="#1a1a1a" stroke="#1a1a1a" stroke-width="0.15">1.</text>
<text x="1242.25" y="345.31" font-size="12.2" text-anchor="middle" fill="#1a1a1a" stroke="#1a1a1a" stroke-width="0.15">Methanogenesis</text>
<text x="1242.25" y="357.91" font-size="12.2" text-anchor="middle" fill="#1a1a1a" stroke="#1a1a1a" stroke-width="0.15">from CO2/H2</text>
<rect x="832.4" y="634.26" width="34.3" height="18.39" fill="#ffd9ad"/>
<rect x="865.7" y="634.26" width="34.3" height="18.39" fill="#ffdbb1"/>
<rect x="899" y="634.26" width="33.3" height="18.39" fill="#ffd9ad"/>
<rect x="947" y="634.26" width="34.3" height="18.39" fill="#ffdbb1"/>
<rect x="980.3" y="634.26" width="34.3" height="18.39" fill="#ffd5a4"/>
<rect x="1013.6" y="634.26" width="33.3" height="18.39" fill="#ffd9ad"/>
<rect x="1061.5" y="634.26" width="34.3" height="18.39" fill="#fed3a0"/>
<rect x="1094.8" y="634.26" width="34.3" height="18.39" fill="#ffe1bd"/>
<rect x="1128.1" y="634.26" width="33.3" height="18.39" fill="#ffd7a9"/>
<line x1="825.2" y1="643.46" x2="829.6" y2="643.46" stroke="#333" stroke-width="1.0"/>
<text x="822.1" y="649.16" font-size="16.15" text-anchor="end" stroke="#000" stroke-width="0.2">FrhB (2<tspan dy="-1.2">_</tspan><tspan dy="1.2">454)</tspan></text>
<line x1="825.2" y1="661.84" x2="829.6" y2="661.84" stroke="#333" stroke-width="1.0"/>
<text x="822.1" y="667.54" font-size="16.15" text-anchor="end" stroke="#000" stroke-width="0.2">FrhB (3<tspan dy="-1.2">_</tspan><tspan dy="1.2">40)</tspan></text>
<rect x="832.4" y="671.04" width="34.3" height="19.39" fill="#f4b359"/>
<rect x="865.7" y="671.04" width="34.3" height="19.39" fill="#f5b65e"/>
<rect x="899" y="671.04" width="33.3" height="19.39" fill="#f4b359"/>
<rect x="947" y="671.04" width="34.3" height="19.39" fill="#f4b359"/>
<rect x="980.3" y="671.04" width="34.3" height="19.39" fill="#f4b359"/>
<rect x="1013.6" y="671.04" width="33.3" height="19.39" fill="#f4b359"/>
<rect x="1061.5" y="671.04" width="34.3" height="19.39" fill="#f4b359"/>
<rect x="1094.8" y="671.04" width="34.3" height="19.39" fill="#f5b65e"/>
<rect x="1128.1" y="671.04" width="33.3" height="19.39" fill="#f5b65e"/>
<line x1="825.2" y1="680.23" x2="829.6" y2="680.23" stroke="#333" stroke-width="1.0"/>
<text x="822.1" y="685.93" font-size="16.15" text-anchor="end" stroke="#000" stroke-width="0.2">FrhB* (5<tspan dy="-1.2">_</tspan><tspan dy="1.2">9)</tspan></text>
<rect x="832.4" y="689.42" width="34.3" height="19.39" fill="#f5b65e"/>
<rect x="865.7" y="689.42" width="34.3" height="18.39" fill="#f5b65e"/>
<rect x="899" y="689.42" width="33.3" height="19.39" fill="#f5b65e"/>
<rect x="947" y="689.42" width="34.3" height="19.39" fill="#f6b863"/>
<rect x="980.3" y="689.42" width="34.3" height="18.39" fill="#f5b65e"/>
<rect x="1013.6" y="689.42" width="33.3" height="19.39" fill="#f5b65e"/>
<rect x="1061.5" y="689.42" width="34.3" height="18.39" fill="#f4b359"/>
<rect x="1094.8" y="689.42" width="34.3" height="18.39" fill="#f5b65e"/>
<rect x="1128.1" y="689.42" width="33.3" height="19.39" fill="#f5b65e"/>
<line x1="825.2" y1="698.62" x2="829.6" y2="698.62" stroke="#333" stroke-width="1.0"/>
<text x="822.1" y="704.32" font-size="16.15" text-anchor="end" stroke="#000" stroke-width="0.2">FrhG* (5<tspan dy="-1.2">_</tspan><tspan dy="1.2">10)</tspan></text>
<rect x="832.4" y="707.81" width="33.3" height="19.39" fill="#ffd7a9"/>
<rect x="899" y="707.81" width="33.3" height="19.39" fill="#ffddb5"/>
<rect x="947" y="707.81" width="33.3" height="19.39" fill="#ffe6c9"/>
<rect x="1013.6" y="707.81" width="33.3" height="19.39" fill="#fed3a0"/>
<rect x="1128.1" y="707.81" width="33.3" height="19.39" fill="#ffd5a4"/>
<line x1="825.2" y1="717.01" x2="829.6" y2="717.01" stroke="#333" stroke-width="1.0"/>
<text x="822.1" y="722.71" font-size="16.15" text-anchor="end" stroke="#000" stroke-width="0.2">FrhD (5<tspan dy="-1.2">_</tspan><tspan dy="1.2">11)</tspan></text>
<rect x="832.4" y="726.2" width="34.3" height="18.39" fill="#fac37d"/>
<rect x="865.7" y="726.2" width="34.3" height="18.39" fill="#fac37d"/>
<rect x="899" y="726.2" width="33.3" height="18.39" fill="#fac37d"/>
<rect x="947" y="726.2" width="34.3" height="18.39" fill="#fdcd93"/>
<rect x="980.3" y="726.2" width="34.3" height="18.39" fill="#fdcf97"/>
<rect x="1013.6" y="726.2" width="33.3" height="18.39" fill="#fbc582"/>
<rect x="1061.5" y="726.2" width="34.3" height="18.39" fill="#f9bf75"/>
<rect x="1094.8" y="726.2" width="34.3" height="18.39" fill="#fac37d"/>
<rect x="1128.1" y="726.2" width="33.3" height="18.39" fill="#fac37d"/>
<line x1="825.2" y1="735.39" x2="829.6" y2="735.39" stroke="#333" stroke-width="1.0"/>
<text x="822.1" y="741.09" font-size="16.15" text-anchor="end" stroke="#000" stroke-width="0.2">FrhA (5<tspan dy="-1.2">_</tspan><tspan dy="1.2">12)</tspan></text>
<line x1="829.6" y1="634.26" x2="829.6" y2="744.59" stroke="#000000" stroke-width="1.15"/>
<rect x="1165.5" y="634.26" width="153.5" height="110.32" fill="#f2f2f2" stroke="#262626" stroke-width="1.2"/>
<text x="1242.25" y="681.12" font-size="12.2" text-anchor="middle" fill="#1a1a1a" stroke="#1a1a1a" stroke-width="0.15">2. Coenzyme</text>
<text x="1242.25" y="693.72" font-size="12.2" text-anchor="middle" fill="#1a1a1a" stroke="#1a1a1a" stroke-width="0.15">F420−reducing</text>
<text x="1242.25" y="706.32" font-size="12.2" text-anchor="middle" fill="#1a1a1a" stroke="#1a1a1a" stroke-width="0.15">H2−ase</text>
<rect x="832.4" y="752.84" width="34.3" height="19.39" fill="#f4b359"/>
<rect x="865.7" y="752.84" width="34.3" height="19.39" fill="#f4b359"/>
<rect x="899" y="752.84" width="33.3" height="19.39" fill="#f3b154"/>
<rect x="947" y="752.84" width="34.3" height="19.39" fill="#f4b359"/>
<rect x="980.3" y="752.84" width="34.3" height="19.39" fill="#f3b154"/>
<rect x="1013.6" y="752.84" width="33.3" height="19.39" fill="#f3b154"/>
<rect x="1061.5" y="752.84" width="34.3" height="19.39" fill="#f2af4e"/>
<rect x="1094.8" y="752.84" width="34.3" height="19.39" fill="#f3b154"/>
<rect x="1128.1" y="752.84" width="33.3" height="19.39" fill="#f3b154"/>
<line x1="825.2" y1="762.03" x2="829.6" y2="762.03" stroke="#333" stroke-width="1.0"/>
<text x="822.1" y="767.73" font-size="16.15" text-anchor="end" stroke="#000" stroke-width="0.2">MvhD (1<tspan dy="-1.2">_</tspan><tspan dy="1.2">65)</tspan></text>
<rect x="832.4" y="771.22" width="34.3" height="19.39" fill="#f5b65e"/>
<rect x="865.7" y="771.22" width="34.3" height="19.39" fill="#f6b863"/>
<rect x="899" y="771.22" width="33.3" height="19.39" fill="#f5b65e"/>
<rect x="947" y="771.22" width="34.3" height="19.39" fill="#f6b863"/>
<rect x="980.3" y="771.22" width="34.3" height="19.39" fill="#f5b65e"/>
<rect x="1013.6" y="771.22" width="33.3" height="19.39" fill="#f5b65e"/>
<rect x="1061.5" y="771.22" width="34.3" height="19.39" fill="#f4b359"/>
<rect x="1094.8" y="771.22" width="34.3" height="19.39" fill="#f4b359"/>
<rect x="1128.1" y="771.22" width="33.3" height="19.39" fill="#f4b359"/>
<line x1="825.2" y1="780.42" x2="829.6" y2="780.42" stroke="#333" stroke-width="1.0"/>
<text x="822.1" y="786.12" font-size="16.15" text-anchor="end" stroke="#000" stroke-width="0.2">MvhG (1<tspan dy="-1.2">_</tspan><tspan dy="1.2">66)</tspan></text>
<rect x="832.4" y="789.61" width="34.3" height="19.39" fill="#f4b359"/>
<rect x="865.7" y="789.61" width="34.3" height="19.39" fill="#f4b359"/>
<rect x="899" y="789.61" width="33.3" height="19.39" fill="#f4b359"/>
<rect x="947" y="789.61" width="34.3" height="19.39" fill="#f4b359"/>
<rect x="980.3" y="789.61" width="34.3" height="19.39" fill="#f3b154"/>
<rect x="1013.6" y="789.61" width="33.3" height="19.39" fill="#f3b154"/>
<rect x="1061.5" y="789.61" width="34.3" height="19.39" fill="#f4b359"/>
<rect x="1094.8" y="789.61" width="34.3" height="19.39" fill="#f3b154"/>
<rect x="1128.1" y="789.61" width="33.3" height="19.39" fill="#f3b154"/>
<line x1="825.2" y1="798.81" x2="829.6" y2="798.81" stroke="#333" stroke-width="1.0"/>
<text x="822.1" y="804.51" font-size="16.15" text-anchor="end" stroke="#000" stroke-width="0.2">MvhA (1<tspan dy="-1.2">_</tspan><tspan dy="1.2">67)</tspan></text>
<rect x="832.4" y="808" width="34.3" height="18.39" fill="#f9bf75"/>
<rect x="865.7" y="808" width="34.3" height="18.39" fill="#fac37d"/>
<rect x="899" y="808" width="33.3" height="18.39" fill="#f9c179"/>
<rect x="947" y="808" width="34.3" height="18.39" fill="#f8be70"/>
<rect x="980.3" y="808" width="34.3" height="18.39" fill="#f8be70"/>
<rect x="1013.6" y="808" width="33.3" height="18.39" fill="#f8be70"/>
<rect x="1061.5" y="808" width="34.3" height="18.39" fill="#f9bf75"/>
<rect x="1094.8" y="808" width="34.3" height="18.39" fill="#f9bf75"/>
<rect x="1128.1" y="808" width="33.3" height="18.39" fill="#f8be70"/>
<line x1="825.2" y1="817.19" x2="829.6" y2="817.19" stroke="#333" stroke-width="1.0"/>
<text x="822.1" y="822.89" font-size="16.15" text-anchor="end" stroke="#000" stroke-width="0.2">MvhB (1<tspan dy="-1.2">_</tspan><tspan dy="1.2">68)</tspan></text>
<line x1="829.6" y1="752.84" x2="829.6" y2="826.39" stroke="#000000" stroke-width="1.15"/>
<rect x="1165.5" y="752.84" width="153.5" height="73.55" fill="#f2f2f2" stroke="#262626" stroke-width="1.2"/>
<text x="1242.25" y="781.31" font-size="12.2" text-anchor="middle" fill="#1a1a1a" stroke="#1a1a1a" stroke-width="0.15">3.</text>
<text x="1242.25" y="793.91" font-size="12.2" text-anchor="middle" fill="#1a1a1a" stroke="#1a1a1a" stroke-width="0.15">Methyl−viologen−reducing</text>
<text x="1242.25" y="806.51" font-size="12.2" text-anchor="middle" fill="#1a1a1a" stroke="#1a1a1a" stroke-width="0.15">H2−ase</text>
<rect x="832.4" y="834.64" width="34.3" height="19.39" fill="#f5b65e"/>
<rect x="865.7" y="834.64" width="34.3" height="19.39" fill="#f5b65e"/>
<rect x="899" y="834.64" width="33.3" height="19.39" fill="#f5b65e"/>
<rect x="947" y="834.64" width="34.3" height="19.39" fill="#f5b65e"/>
<rect x="980.3" y="834.64" width="34.3" height="19.39" fill="#f5b65e"/>
<rect x="1013.6" y="834.64" width="33.3" height="19.39" fill="#f5b65e"/>
<rect x="1061.5" y="834.64" width="34.3" height="19.39" fill="#f4b359"/>
<rect x="1094.8" y="834.64" width="34.3" height="19.39" fill="#f5b65e"/>
<rect x="1128.1" y="834.64" width="33.3" height="19.39" fill="#f5b65e"/>
<line x1="825.2" y1="843.83" x2="829.6" y2="843.83" stroke="#333" stroke-width="1.0"/>
<text x="822.1" y="849.53" font-size="16.15" text-anchor="end" stroke="#000" stroke-width="0.2">HdrB (2<tspan dy="-1.2">_</tspan><tspan dy="1.2">780)</tspan></text>
<rect x="832.4" y="853.02" width="34.3" height="19.39" fill="#f5b65e"/>
<rect x="865.7" y="853.02" width="34.3" height="19.39" fill="#f4b359"/>
<rect x="899" y="853.02" width="33.3" height="19.39" fill="#f6b863"/>
<rect x="947" y="853.02" width="34.3" height="19.39" fill="#f6b863"/>
<rect x="980.3" y="853.02" width="34.3" height="19.39" fill="#f6b863"/>
<rect x="1013.6" y="853.02" width="33.3" height="19.39" fill="#f6b863"/>
<rect x="1061.5" y="853.02" width="34.3" height="19.39" fill="#f5b65e"/>
<rect x="1094.8" y="853.02" width="34.3" height="19.39" fill="#f5b65e"/>
<rect x="1128.1" y="853.02" width="33.3" height="19.39" fill="#f5b65e"/>
<line x1="825.2" y1="862.22" x2="829.6" y2="862.22" stroke="#333" stroke-width="1.0"/>
<text x="822.1" y="867.92" font-size="16.15" text-anchor="end" stroke="#000" stroke-width="0.2">HdrC (2<tspan dy="-1.2">_</tspan><tspan dy="1.2">781)</tspan></text>
<rect x="832.4" y="871.41" width="34.3" height="18.39" fill="#f4b359"/>
<rect x="865.7" y="871.41" width="34.3" height="18.39" fill="#f4b359"/>
<rect x="899" y="871.41" width="33.3" height="18.39" fill="#f4b359"/>
<rect x="947" y="871.41" width="34.3" height="18.39" fill="#f4b359"/>
<rect x="980.3" y="871.41" width="34.3" height="18.39" fill="#f4b359"/>
<rect x="1013.6" y="871.41" width="33.3" height="18.39" fill="#f4b359"/>
<rect x="1061.5" y="871.41" width="34.3" height="18.39" fill="#f3b154"/>
<rect x="1094.8" y="871.41" width="34.3" height="18.39" fill="#f4b359"/>
<rect x="1128.1" y="871.41" width="33.3" height="18.39" fill="#f4b359"/>
<line x1="825.2" y1="880.61" x2="829.6" y2="880.61" stroke="#333" stroke-width="1.0"/>
<text x="822.1" y="886.31" font-size="16.15" text-anchor="end" stroke="#000" stroke-width="0.2">HdrA  (5<tspan dy="-1.2">_</tspan><tspan dy="1.2">204)</tspan></text>
<line x1="829.6" y1="834.64" x2="829.6" y2="889.8" stroke="#000000" stroke-width="1.15"/>
<rect x="1165.5" y="834.64" width="153.5" height="55.16" fill="#f2f2f2" stroke="#262626" stroke-width="1.2"/>
<text x="1242.25" y="853.92" font-size="12.2" text-anchor="middle" fill="#1a1a1a" stroke="#1a1a1a" stroke-width="0.15">4. CoB−CoM</text>
<text x="1242.25" y="866.52" font-size="12.2" text-anchor="middle" fill="#1a1a1a" stroke="#1a1a1a" stroke-width="0.15">heterodisulfide</text>
<text x="1242.25" y="879.12" font-size="12.2" text-anchor="middle" fill="#1a1a1a" stroke="#1a1a1a" stroke-width="0.15">reductase</text>
<line x1="825.2" y1="907.24" x2="829.6" y2="907.24" stroke="#333" stroke-width="1.0"/>
<text x="822.1" y="912.94" font-size="16.15" text-anchor="end" stroke="#000" stroke-width="0.2">EhaD (3<tspan dy="-1.2">_</tspan><tspan dy="1.2">180)</tspan></text>
<line x1="825.2" y1="925.63" x2="829.6" y2="925.63" stroke="#333" stroke-width="1.0"/>
<text x="822.1" y="931.33" font-size="16.15" text-anchor="end" stroke="#000" stroke-width="0.2">EhaA (3<tspan dy="-1.2">_</tspan><tspan dy="1.2">181)</tspan></text>
<line x1="825.2" y1="944.02" x2="829.6" y2="944.02" stroke="#333" stroke-width="1.0"/>
<text x="822.1" y="949.72" font-size="16.15" text-anchor="end" stroke="#000" stroke-width="0.2">EhaF (3<tspan dy="-1.2">_</tspan><tspan dy="1.2">182)</tspan></text>
<line x1="825.2" y1="962.41" x2="829.6" y2="962.41" stroke="#333" stroke-width="1.0"/>
<text x="822.1" y="968.11" font-size="16.15" text-anchor="end" stroke="#000" stroke-width="0.2">EhaG (3<tspan dy="-1.2">_</tspan><tspan dy="1.2">183)</tspan></text>
<line x1="825.2" y1="980.79" x2="829.6" y2="980.79" stroke="#333" stroke-width="1.0"/>
<text x="822.1" y="986.49" font-size="16.15" text-anchor="end" stroke="#000" stroke-width="0.2">EhaH (3<tspan dy="-1.2">_</tspan><tspan dy="1.2">184)</tspan></text>
<line x1="825.2" y1="999.18" x2="829.6" y2="999.18" stroke="#333" stroke-width="1.0"/>
<text x="822.1" y="1004.88" font-size="16.15" text-anchor="end" stroke="#000" stroke-width="0.2">(3<tspan dy="-1.2">_</tspan><tspan dy="1.2">185)</tspan></text>
<rect x="899" y="1008.37" width="33.3" height="18.39" fill="#ffe1bd"/>
<rect x="980.3" y="1008.37" width="33.3" height="18.39" fill="#ffe1bd"/>
<line x1="825.2" y1="1017.57" x2="829.6" y2="1017.57" stroke="#333" stroke-width="1.0"/>
<text x="822.1" y="1023.27" font-size="16.15" text-anchor="end" stroke="#000" stroke-width="0.2">EhaJ (3<tspan dy="-1.2">_</tspan><tspan dy="1.2">186)</tspan></text>
<line x1="825.2" y1="1035.96" x2="829.6" y2="1035.96" stroke="#333" stroke-width="1.0"/>
<text x="822.1" y="1041.66" font-size="16.15" text-anchor="end" stroke="#000" stroke-width="0.2">(3<tspan dy="-1.2">_</tspan><tspan dy="1.2">187)</tspan></text>
<line x1="825.2" y1="1054.34" x2="829.6" y2="1054.34" stroke="#333" stroke-width="1.0"/>
<text x="822.1" y="1060.04" font-size="16.15" text-anchor="end" stroke="#000" stroke-width="0.2">EhaL/DUF2104 (3<tspan dy="-1.2">_</tspan><tspan dy="1.2">188)</tspan></text>
<rect x="832.4" y="1063.54" width="34.3" height="19.39" fill="#fed3a0"/>
<rect x="865.7" y="1063.54" width="34.3" height="19.39" fill="#fed3a0"/>
<rect x="899" y="1063.54" width="33.3" height="19.39" fill="#fdcd93"/>
<rect x="947" y="1063.54" width="34.3" height="19.39" fill="#fdcd93"/>
<rect x="980.3" y="1063.54" width="34.3" height="19.39" fill="#fed19c"/>
<rect x="1013.6" y="1063.54" width="33.3" height="19.39" fill="#fed19c"/>
<rect x="1061.5" y="1063.54" width="34.3" height="19.39" fill="#fdcd93"/>
<rect x="1094.8" y="1063.54" width="34.3" height="19.39" fill="#fdcf97"/>
<rect x="1128.1" y="1063.54" width="33.3" height="19.39" fill="#fed3a0"/>
<line x1="825.2" y1="1072.73" x2="829.6" y2="1072.73" stroke="#333" stroke-width="1.0"/>
<text x="822.1" y="1078.43" font-size="16.15" text-anchor="end" stroke="#000" stroke-width="0.2">DUF1959 (3<tspan dy="-1.2">_</tspan><tspan dy="1.2">189)</tspan></text>
<rect x="832.4" y="1081.92" width="34.3" height="19.39" fill="#fed3a0"/>
<rect x="865.7" y="1081.92" width="34.3" height="19.39" fill="#ffd7a9"/>
<rect x="899" y="1081.92" width="33.3" height="19.39" fill="#ffd5a4"/>
<rect x="947" y="1081.92" width="34.3" height="19.39" fill="#ffd7a9"/>
<rect x="980.3" y="1081.92" width="34.3" height="19.39" fill="#ffd5a4"/>
<rect x="1013.6" y="1081.92" width="33.3" height="19.39" fill="#ffd5a4"/>
<rect x="1061.5" y="1081.92" width="34.3" height="19.39" fill="#ffd5a4"/>
<rect x="1094.8" y="1081.92" width="34.3" height="19.39" fill="#ffd9ad"/>
<rect x="1128.1" y="1081.92" width="33.3" height="19.39" fill="#ffd5a4"/>
<line x1="825.2" y1="1091.12" x2="829.6" y2="1091.12" stroke="#333" stroke-width="1.0"/>
<text x="822.1" y="1096.82" font-size="16.15" text-anchor="end" stroke="#000" stroke-width="0.2">EhaN (3<tspan dy="-1.2">_</tspan><tspan dy="1.2">190)</tspan></text>
<rect x="832.4" y="1100.31" width="34.3" height="19.39" fill="#fdcd93"/>
<rect x="865.7" y="1100.31" width="34.3" height="19.39" fill="#fdcf97"/>
<rect x="899" y="1100.31" width="33.3" height="19.39" fill="#fdcf97"/>
<rect x="947" y="1100.31" width="34.3" height="19.39" fill="#fdcf97"/>
<rect x="980.3" y="1100.31" width="34.3" height="19.39" fill="#fdcd93"/>
<rect x="1013.6" y="1100.31" width="33.3" height="19.39" fill="#fdcd93"/>
<rect x="1061.5" y="1100.31" width="34.3" height="19.39" fill="#fccb8f"/>
<rect x="1094.8" y="1100.31" width="34.3" height="19.39" fill="#fdcd93"/>
<rect x="1128.1" y="1100.31" width="33.3" height="19.39" fill="#fdcd93"/>
<line x1="825.2" y1="1109.51" x2="829.6" y2="1109.51" stroke="#333" stroke-width="1.0"/>
<text x="822.1" y="1115.21" font-size="16.15" text-anchor="end" stroke="#000" stroke-width="0.2">HycE2 (3<tspan dy="-1.2">_</tspan><tspan dy="1.2">191)</tspan></text>
<rect x="832.4" y="1118.7" width="34.3" height="19.39" fill="#fdcf97"/>
<rect x="865.7" y="1118.7" width="34.3" height="19.39" fill="#fccb8f"/>
<rect x="899" y="1118.7" width="33.3" height="19.39" fill="#fcc98a"/>
<rect x="947" y="1118.7" width="34.3" height="19.39" fill="#fdcf97"/>
<rect x="980.3" y="1118.7" width="34.3" height="19.39" fill="#fcc98a"/>
<rect x="1013.6" y="1118.7" width="33.3" height="19.39" fill="#fccb8f"/>
<rect x="1061.5" y="1118.7" width="34.3" height="19.39" fill="#fccb8f"/>
<rect x="1094.8" y="1118.7" width="34.3" height="19.39" fill="#fcc98a"/>
<rect x="1128.1" y="1118.7" width="33.3" height="19.39" fill="#fccb8f"/>
<line x1="825.2" y1="1127.89" x2="829.6" y2="1127.89" stroke="#333" stroke-width="1.0"/>
<text x="822.1" y="1133.59" font-size="16.15" text-anchor="end" stroke="#000" stroke-width="0.2">Polyferredoxin (3<tspan dy="-1.2">_</tspan><tspan dy="1.2">192)</tspan></text>
<rect x="832.4" y="1137.09" width="34.3" height="19.39" fill="#fed19c"/>
<rect x="865.7" y="1137.09" width="34.3" height="19.39" fill="#fed3a0"/>
<rect x="899" y="1137.09" width="33.3" height="19.39" fill="#fed3a0"/>
<rect x="947" y="1137.09" width="34.3" height="19.39" fill="#fed3a0"/>
<rect x="980.3" y="1137.09" width="34.3" height="19.39" fill="#fed19c"/>
<rect x="1013.6" y="1137.09" width="33.3" height="19.39" fill="#fed19c"/>
<rect x="1061.5" y="1137.09" width="34.3" height="19.39" fill="#fed19c"/>
<rect x="1094.8" y="1137.09" width="34.3" height="19.39" fill="#fed19c"/>
<rect x="1128.1" y="1137.09" width="33.3" height="19.39" fill="#fed19c"/>
<line x1="825.2" y1="1146.28" x2="829.6" y2="1146.28" stroke="#333" stroke-width="1.0"/>
<text x="822.1" y="1151.98" font-size="16.15" text-anchor="end" stroke="#000" stroke-width="0.2">Polyferredoxin (3<tspan dy="-1.2">_</tspan><tspan dy="1.2">193)</tspan></text>
<rect x="832.4" y="1155.47" width="34.3" height="18.39" fill="#ffddb5"/>
<rect x="865.7" y="1155.47" width="34.3" height="18.39" fill="#ffddb5"/>
<rect x="899" y="1155.47" width="33.3" height="18.39" fill="#ffddb5"/>
<rect x="947" y="1155.47" width="34.3" height="18.39" fill="#ffd5a4"/>
<rect x="980.3" y="1155.47" width="34.3" height="18.39" fill="#ffdbb1"/>
<rect x="1013.6" y="1155.47" width="33.3" height="18.39" fill="#ffdbb1"/>
<rect x="1061.5" y="1155.47" width="34.3" height="18.39" fill="#ffd7a9"/>
<rect x="1094.8" y="1155.47" width="34.3" height="18.39" fill="#ffd5a4"/>
<rect x="1128.1" y="1155.47" width="33.3" height="18.39" fill="#ffd9ad"/>
<line x1="825.2" y1="1164.67" x2="829.6" y2="1164.67" stroke="#333" stroke-width="1.0"/>
<text x="822.1" y="1170.37" font-size="16.15" text-anchor="end" stroke="#000" stroke-width="0.2">Polyferredoxin (3<tspan dy="-1.2">_</tspan><tspan dy="1.2">194)</tspan></text>
<line x1="829.6" y1="898.05" x2="829.6" y2="1173.86" stroke="#000000" stroke-width="1.15"/>
<rect x="1165.5" y="898.05" width="153.5" height="275.81" fill="#f2f2f2" stroke="#262626" stroke-width="1.2"/>
<text x="1242.25" y="1027.66" font-size="12.2" text-anchor="middle" fill="#1a1a1a" stroke="#1a1a1a" stroke-width="0.15">5. Energy−</text>
<text x="1242.25" y="1040.26" font-size="12.2" text-anchor="middle" fill="#1a1a1a" stroke="#1a1a1a" stroke-width="0.15">converting</text>
<text x="1242.25" y="1052.86" font-size="12.2" text-anchor="middle" fill="#1a1a1a" stroke="#1a1a1a" stroke-width="0.15">H2−ase A</text>
<rect x="832.4" y="1182.11" width="34.3" height="18.39" fill="#fed19c"/>
<rect x="865.7" y="1182.11" width="34.3" height="18.39" fill="#fed3a0"/>
<rect x="899" y="1182.11" width="33.3" height="18.39" fill="#fed19c"/>
<rect x="947" y="1182.11" width="34.3" height="18.39" fill="#fed19c"/>
<rect x="980.3" y="1182.11" width="34.3" height="18.39" fill="#fed19c"/>
<rect x="1013.6" y="1182.11" width="33.3" height="18.39" fill="#fed19c"/>
<rect x="1061.5" y="1182.11" width="34.3" height="18.39" fill="#fdcd93"/>
<rect x="1094.8" y="1182.11" width="34.3" height="18.39" fill="#fed19c"/>
<rect x="1128.1" y="1182.11" width="33.3" height="18.39" fill="#fed19c"/>
<line x1="825.2" y1="1191.31" x2="829.6" y2="1191.31" stroke="#333" stroke-width="1.0"/>
<line x1="829.6" y1="1182.11" x2="829.6" y2="1201.3" stroke="#000000" stroke-width="1.15"/>
<rect x="1165.5" y="1182.11" width="153.5" height="18.39" fill="#f2f2f2" stroke="#262626" stroke-width="1.2"/>
<text x="1242.25" y="1195.61" font-size="12.2" text-anchor="middle" fill="#1a1a1a" stroke="#1a1a1a" stroke-width="0.15">Median</text>
<line x1="829.4" y1="1200.8" x2="935.3" y2="1200.8" stroke="#000000" stroke-width="1.4"/>
<line x1="849.05" y1="1200.8" x2="849.05" y2="1205.1" stroke="#222" stroke-width="1.1"/>
<line x1="882.35" y1="1200.8" x2="882.35" y2="1205.1" stroke="#222" stroke-width="1.1"/>
<line x1="915.65" y1="1200.8" x2="915.65" y2="1205.1" stroke="#222" stroke-width="1.1"/>
<line x1="944.2" y1="1200.8" x2="1049.8" y2="1200.8" stroke="#000000" stroke-width="1.4"/>
<line x1="963.65" y1="1200.8" x2="963.65" y2="1205.1" stroke="#222" stroke-width="1.1"/>
<line x1="996.95" y1="1200.8" x2="996.95" y2="1205.1" stroke="#222" stroke-width="1.1"/>
<line x1="1030.25" y1="1200.8" x2="1030.25" y2="1205.1" stroke="#222" stroke-width="1.1"/>
<line x1="1058.3" y1="1200.8" x2="1164.4" y2="1200.8" stroke="#000000" stroke-width="1.4"/>
<line x1="1078.15" y1="1200.8" x2="1078.15" y2="1205.1" stroke="#222" stroke-width="1.1"/>
<line x1="1111.45" y1="1200.8" x2="1111.45" y2="1205.1" stroke="#222" stroke-width="1.1"/>
<line x1="1144.75" y1="1200.8" x2="1144.75" y2="1205.1" stroke="#222" stroke-width="1.1"/>
<text x="997.1" y="1220.6" font-size="16.15" text-anchor="middle" stroke="#000" stroke-width="0.2">Replicate</text>
<text x="875.3" y="1275.8" font-size="16.15" stroke="#000" stroke-width="0.2">Log10[Tot. Prot.]</text>
<defs><linearGradient id="gB" x1="0" x2="1" y1="0" y2="0"><stop offset="0.00" stop-color="#ffffff"/><stop offset="0.05" stop-color="#fffaf4"/><stop offset="0.10" stop-color="#fff5e9"/><stop offset="0.15" stop-color="#fff0dd"/><stop offset="0.20" stop-color="#ffead2"/><stop offset="0.25" stop-color="#ffe5c7"/><stop offset="0.30" stop-color="#ffe0bc"/><stop offset="0.35" stop-color="#ffdbb1"/><stop offset="0.40" stop-color="#ffd6a7"/><stop offset="0.45" stop-color="#fed19c"/><stop offset="0.50" stop-color="#fdcc91"/><stop offset="0.55" stop-color="#fbc786"/><stop offset="0.60" stop-color="#fac27b"/><stop offset="0.65" stop-color="#f8be70"/><stop offset="0.70" stop-color="#f6b965"/><stop offset="0.75" stop-color="#f4b45a"/><stop offset="0.80" stop-color="#f2af4e"/><stop offset="0.85" stop-color="#f0aa42"/><stop offset="0.90" stop-color="#eda535"/><stop offset="0.95" stop-color="#eba126"/><stop offset="1.00" stop-color="#e89c12"/></linearGradient></defs>
<rect x="1003.3" y="1247.2" width="115.6" height="24.7" fill="url(#gB)"/>
<line x1="1037" y1="1247.2" x2="1037" y2="1252.2" stroke="#fff" stroke-opacity="0.75" stroke-width="1"/>
<line x1="1037" y1="1266.9" x2="1037" y2="1271.9" stroke="#fff" stroke-opacity="0.75" stroke-width="1"/>
<text x="1037" y="1289.4" font-size="13.2" text-anchor="middle" fill="#1a1a1a">−2</text>
<line x1="1073.4" y1="1247.2" x2="1073.4" y2="1252.2" stroke="#fff" stroke-opacity="0.75" stroke-width="1"/>
<line x1="1073.4" y1="1266.9" x2="1073.4" y2="1271.9" stroke="#fff" stroke-opacity="0.75" stroke-width="1"/>
<text x="1073.4" y="1289.4" font-size="13.2" text-anchor="middle" fill="#1a1a1a">0</text>
<line x1="1109.9" y1="1247.2" x2="1109.9" y2="1252.2" stroke="#fff" stroke-opacity="0.75" stroke-width="1"/>
<line x1="1109.9" y1="1266.9" x2="1109.9" y2="1271.9" stroke="#fff" stroke-opacity="0.75" stroke-width="1"/>
<text x="1109.9" y="1289.4" font-size="13.2" text-anchor="middle" fill="#1a1a1a">2</text>
<text x="1339.9" y="31.9" font-size="36" font-weight="bold" textLength="25.6" lengthAdjust="spacingAndGlyphs">C</text>
<text x="1525.6" y="18.4" font-size="21.7" fill="#a84e4c" font-style="italic">Methanothermobacter_2</text>
<rect x="1525.5" y="30.75" width="108.2" height="24.6" fill="#f2f2f2" stroke="#262626" stroke-width="1.2"/>
<text x="1579.6" y="48" font-size="14.2" text-anchor="middle" fill="#1a1a1a" stroke="#1a1a1a" stroke-width="0.15">24</text>
<rect x="1643.2" y="30.75" width="108.2" height="24.6" fill="#f2f2f2" stroke="#262626" stroke-width="1.2"/>
<text x="1697.3" y="48" font-size="14.2" text-anchor="middle" fill="#1a1a1a" stroke="#1a1a1a" stroke-width="0.15">144</text>
<rect x="1761.3" y="30.75" width="108.3" height="24.6" fill="#f2f2f2" stroke="#262626" stroke-width="1.2"/>
<text x="1815.45" y="48" font-size="14.2" text-anchor="middle" fill="#1a1a1a" stroke="#1a1a1a" stroke-width="0.15">408</text>
<rect x="1528" y="56.3" width="34.3" height="16" fill="#e6c4c1"/>
<rect x="1596.6" y="56.3" width="34.3" height="16" fill="#e6c4c1"/>
<rect x="1645.8" y="56.3" width="35.3" height="16" fill="#e8c7c5"/>
<rect x="1680.1" y="56.3" width="35.3" height="16" fill="#e3bcba"/>
<rect x="1714.4" y="56.3" width="34.3" height="16" fill="#dfb5b2"/>
<rect x="1798.1" y="56.3" width="34.3" height="16" fill="#dfb5b2"/>
<line x1="1520.4" y1="63.8" x2="1524.8" y2="63.8" stroke="#333" stroke-width="1.0"/>
<text x="1517.3" y="69.5" font-size="16.15" text-anchor="end" stroke="#000" stroke-width="0.2">FmdE (2<tspan dy="-1.2">_</tspan><tspan dy="1.2">16)</tspan></text>
<rect x="1528" y="71.3" width="35.3" height="16" fill="#d49e9b"/>
<rect x="1562.3" y="71.3" width="35.3" height="16" fill="#d5a19e"/>
<rect x="1596.6" y="71.3" width="34.3" height="16" fill="#d49e9b"/>
<rect x="1645.8" y="71.3" width="35.3" height="16" fill="#d9a8a5"/>
<rect x="1680.1" y="71.3" width="35.3" height="16" fill="#d49e9b"/>
<rect x="1714.4" y="71.3" width="34.3" height="16" fill="#d29b98"/>
<rect x="1763.8" y="71.3" width="35.3" height="15" fill="#d09894"/>
<rect x="1798.1" y="71.3" width="35.3" height="16" fill="#d49e9b"/>
<rect x="1832.4" y="71.3" width="34.3" height="16" fill="#d49e9b"/>
<line x1="1520.4" y1="78.8" x2="1524.8" y2="78.8" stroke="#333" stroke-width="1.0"/>
<text x="1517.3" y="84.5" font-size="16.15" text-anchor="end" stroke="#000" stroke-width="0.2">FmdC (2<tspan dy="-1.2">_</tspan><tspan dy="1.2">17)</tspan></text>
<rect x="1528" y="86.3" width="35.3" height="15" fill="#e6c4c1"/>
<rect x="1562.3" y="86.3" width="35.3" height="15" fill="#e3bcba"/>
<rect x="1596.6" y="86.3" width="34.3" height="15" fill="#dcaeab"/>
<rect x="1645.8" y="86.3" width="35.3" height="15" fill="#f4e2e1"/>
<rect x="1680.1" y="86.3" width="35.3" height="15" fill="#e8c7c5"/>
<rect x="1714.4" y="86.3" width="34.3" height="15" fill="#e3bcba"/>
<rect x="1798.1" y="86.3" width="35.3" height="15" fill="#e1b9b6"/>
<rect x="1832.4" y="86.3" width="34.3" height="15" fill="#ddb1ae"/>
<line x1="1520.4" y1="93.8" x2="1524.8" y2="93.8" stroke="#333" stroke-width="1.0"/>
<text x="1517.3" y="99.5" font-size="16.15" text-anchor="end" stroke="#000" stroke-width="0.2">FmdB (2<tspan dy="-1.2">_</tspan><tspan dy="1.2">18)</tspan></text>
<line x1="1520.4" y1="108.8" x2="1524.8" y2="108.8" stroke="#333" stroke-width="1.0"/>
<text x="1517.3" y="114.5" font-size="16.15" text-anchor="end" stroke="#000" stroke-width="0.2">FwdC (1<tspan dy="-1.2">_</tspan><tspan dy="1.2">479)</tspan></text>
<rect x="1562.3" y="116.3" width="34.3" height="15" fill="#f0dad8"/>
<line x1="1520.4" y1="123.8" x2="1524.8" y2="123.8" stroke="#333" stroke-width="1.0"/>
<text x="1517.3" y="129.5" font-size="16.15" text-anchor="end" stroke="#000" stroke-width="0.2">FwdC (1<tspan dy="-1.2">_</tspan><tspan dy="1.2">507)</tspan></text>
<rect x="1528" y="131.3" width="34.3" height="16" fill="#f0dad8"/>
<rect x="1596.6" y="131.3" width="34.3" height="16" fill="#e4c0bd"/>
<rect x="1763.8" y="131.3" width="34.3" height="16" fill="#e8c7c5"/>
<line x1="1520.4" y1="138.8" x2="1524.8" y2="138.8" stroke="#333" stroke-width="1.0"/>
<text x="1517.3" y="144.5" font-size="16.15" text-anchor="end" stroke="#000" stroke-width="0.2">FwdE (1<tspan dy="-1.2">_</tspan><tspan dy="1.2">595)</tspan></text>
<rect x="1528" y="146.3" width="35.3" height="16" fill="#d29b98"/>
<rect x="1562.3" y="146.3" width="35.3" height="16" fill="#d29b98"/>
<rect x="1596.6" y="146.3" width="34.3" height="16" fill="#d09894"/>
<rect x="1645.8" y="146.3" width="35.3" height="16" fill="#dcaeab"/>
<rect x="1680.1" y="146.3" width="35.3" height="16" fill="#d29b98"/>
<rect x="1714.4" y="146.3" width="34.3" height="16" fill="#d29b98"/>
<rect x="1763.8" y="146.3" width="35.3" height="16" fill="#d5a19e"/>
<rect x="1798.1" y="146.3" width="35.3" height="16" fill="#daaba8"/>
<rect x="1832.4" y="146.3" width="34.3" height="16" fill="#d5a19e"/>
<line x1="1520.4" y1="153.8" x2="1524.8" y2="153.8" stroke="#333" stroke-width="1.0"/>
<text x="1517.3" y="159.5" font-size="16.15" text-anchor="end" stroke="#000" stroke-width="0.2">FwdB (5<tspan dy="-1.2">_</tspan><tspan dy="1.2">192)</tspan></text>
<rect x="1528" y="161.3" width="35.3" height="16" fill="#d09894"/>
<rect x="1562.3" y="161.3" width="35.3" height="16" fill="#d09894"/>
<rect x="1596.6" y="161.3" width="34.3" height="16" fill="#cb8e8b"/>
<rect x="1645.8" y="161.3" width="35.3" height="16" fill="#d7a5a1"/>
<rect x="1680.1" y="161.3" width="35.3" height="16" fill="#d5a19e"/>
<rect x="1714.4" y="161.3" width="34.3" height="16" fill="#cf9591"/>
<rect x="1763.8" y="161.3" width="35.3" height="16" fill="#d29b98"/>
<rect x="1798.1" y="161.3" width="35.3" height="16" fill="#d5a19e"/>
<rect x="1832.4" y="161.3" width="34.3" height="16" fill="#d5a19e"/>
<line x1="1520.4" y1="168.8" x2="1524.8" y2="168.8" stroke="#333" stroke-width="1.0"/>
<text x="1517.3" y="174.5" font-size="16.15" text-anchor="end" stroke="#000" stroke-width="0.2">FwdC (5<tspan dy="-1.2">_</tspan><tspan dy="1.2">193)</tspan></text>
<rect x="1528" y="176.3" width="35.3" height="16" fill="#d29b98"/>
<rect x="1562.3" y="176.3" width="35.3" height="16" fill="#d5a19e"/>
<rect x="1596.6" y="176.3" width="34.3" height="16" fill="#d49e9b"/>
<rect x="1645.8" y="176.3" width="35.3" height="16" fill="#d9a8a5"/>
<rect x="1680.1" y="176.3" width="35.3" height="16" fill="#d9a8a5"/>
<rect x="1714.4" y="176.3" width="34.3" height="16" fill="#d7a5a1"/>
<rect x="1763.8" y="176.3" width="35.3" height="16" fill="#daaba8"/>
<rect x="1798.1" y="176.3" width="35.3" height="16" fill="#dcaeab"/>
<rect x="1832.4" y="176.3" width="34.3" height="16" fill="#d7a5a1"/>
<line x1="1520.4" y1="183.8" x2="1524.8" y2="183.8" stroke="#333" stroke-width="1.0"/>
<text x="1517.3" y="189.5" font-size="16.15" text-anchor="end" stroke="#000" stroke-width="0.2">FwdA (5<tspan dy="-1.2">_</tspan><tspan dy="1.2">194)</tspan></text>
<rect x="1528" y="191.3" width="35.3" height="15" fill="#cb8e8b"/>
<rect x="1562.3" y="191.3" width="35.3" height="15" fill="#c98b88"/>
<rect x="1596.6" y="191.3" width="34.3" height="15" fill="#cb8e8b"/>
<rect x="1645.8" y="191.3" width="35.3" height="15" fill="#d29b98"/>
<rect x="1680.1" y="191.3" width="35.3" height="15" fill="#d09894"/>
<rect x="1714.4" y="191.3" width="34.3" height="15" fill="#cf9591"/>
<rect x="1763.8" y="191.3" width="35.3" height="15" fill="#d29b98"/>
<rect x="1798.1" y="191.3" width="35.3" height="15" fill="#d29b98"/>
<rect x="1832.4" y="191.3" width="34.3" height="15" fill="#d49e9b"/>
<line x1="1520.4" y1="198.8" x2="1524.8" y2="198.8" stroke="#333" stroke-width="1.0"/>
<text x="1517.3" y="204.5" font-size="16.15" text-anchor="end" stroke="#000" stroke-width="0.2">FwdD (5<tspan dy="-1.2">_</tspan><tspan dy="1.2">195)</tspan></text>
<line x1="1520.4" y1="213.8" x2="1524.8" y2="213.8" stroke="#333" stroke-width="1.0"/>
<text x="1517.3" y="219.5" font-size="16.15" text-anchor="end" stroke="#000" stroke-width="0.2">FwdG (5<tspan dy="-1.2">_</tspan><tspan dy="1.2">196)</tspan></text>
<rect x="1528" y="221.3" width="35.3" height="15" fill="#cf9591"/>
<rect x="1562.3" y="221.3" width="35.3" height="15" fill="#cf9591"/>
<rect x="1596.6" y="221.3" width="34.3" height="15" fill="#cf9591"/>
<rect x="1645.8" y="221.3" width="35.3" height="15" fill="#cd928e"/>
<rect x="1680.1" y="221.3" width="35.3" height="15" fill="#cd928e"/>
<rect x="1714.4" y="221.3" width="34.3" height="15" fill="#cd928e"/>
<rect x="1763.8" y="221.3" width="35.3" height="15" fill="#cb8e8b"/>
<rect x="1798.1" y="221.3" width="35.3" height="15" fill="#cb8e8b"/>
<rect x="1832.4" y="221.3" width="34.3" height="15" fill="#cd928e"/>
<line x1="1520.4" y1="228.8" x2="1524.8" y2="228.8" stroke="#333" stroke-width="1.0"/>
<text x="1517.3" y="234.5" font-size="16.15" text-anchor="end" stroke="#000" stroke-width="0.2">FwdF (5<tspan dy="-1.2">_</tspan><tspan dy="1.2">197)</tspan></text>
<line x1="1520.4" y1="243.8" x2="1524.8" y2="243.8" stroke="#333" stroke-width="1.0"/>
<text x="1517.3" y="249.5" font-size="16.15" text-anchor="end" stroke="#000" stroke-width="0.2">FwdH (5<tspan dy="-1.2">_</tspan><tspan dy="1.2">198)</tspan></text>
<line x1="1520.4" y1="258.8" x2="1524.8" y2="258.8" stroke="#333" stroke-width="1.0"/>
<text x="1517.3" y="264.5" font-size="16.15" text-anchor="end" stroke="#000" stroke-width="0.2">FdhA/FlpF (5<tspan dy="-1.2">_</tspan><tspan dy="1.2">199)</tspan></text>
<line x1="1520.4" y1="273.8" x2="1524.8" y2="273.8" stroke="#333" stroke-width="1.0"/>
<text x="1517.3" y="279.5" font-size="16.15" text-anchor="end" stroke="#000" stroke-width="0.2">Ftr (1<tspan dy="-1.2">_</tspan><tspan dy="1.2">358)</tspan></text>
<rect x="1528" y="281.3" width="35.3" height="16" fill="#d9a8a5"/>
<rect x="1562.3" y="281.3" width="35.3" height="16" fill="#daaba8"/>
<rect x="1596.6" y="281.3" width="34.3" height="16" fill="#d9a8a5"/>
<rect x="1645.8" y="281.3" width="35.3" height="16" fill="#dfb5b2"/>
<rect x="1680.1" y="281.3" width="35.3" height="16" fill="#daaba8"/>
<rect x="1714.4" y="281.3" width="34.3" height="16" fill="#dfb5b2"/>
<rect x="1763.8" y="281.3" width="35.3" height="16" fill="#e6c4c1"/>
<rect x="1798.1" y="281.3" width="35.3" height="16" fill="#daaba8"/>
<rect x="1832.4" y="281.3" width="34.3" height="16" fill="#daaba8"/>
<line x1="1520.4" y1="288.8" x2="1524.8" y2="288.8" stroke="#333" stroke-width="1.0"/>
<text x="1517.3" y="294.5" font-size="16.15" text-anchor="end" stroke="#000" stroke-width="0.2">Mch (1<tspan dy="-1.2">_</tspan><tspan dy="1.2">231)</tspan></text>
<rect x="1528" y="296.3" width="35.3" height="16" fill="#e1b9b6"/>
<rect x="1562.3" y="296.3" width="35.3" height="16" fill="#e3bcba"/>
<rect x="1596.6" y="296.3" width="34.3" height="16" fill="#e1b9b6"/>
<rect x="1645.8" y="296.3" width="35.3" height="16" fill="#e4c0bd"/>
<rect x="1680.1" y="296.3" width="35.3" height="16" fill="#e3bcba"/>
<rect x="1714.4" y="296.3" width="34.3" height="16" fill="#e1b9b6"/>
<rect x="1763.8" y="296.3" width="35.3" height="16" fill="#e6c4c1"/>
<rect x="1798.1" y="296.3" width="35.3" height="16" fill="#e6c4c1"/>
<rect x="1832.4" y="296.3" width="34.3" height="16" fill="#e6c4c1"/>
<line x1="1520.4" y1="303.8" x2="1524.8" y2="303.8" stroke="#333" stroke-width="1.0"/>
<text x="1517.3" y="309.5" font-size="16.15" text-anchor="end" stroke="#000" stroke-width="0.2">Mtd (5<tspan dy="-1.2">_</tspan><tspan dy="1.2">58)</tspan></text>
<rect x="1528" y="311.3" width="35.3" height="16" fill="#c68581"/>
<rect x="1562.3" y="311.3" width="35.3" height="15" fill="#c88884"/>
<rect x="1596.6" y="311.3" width="34.3" height="16" fill="#c88884"/>
<rect x="1645.8" y="311.3" width="35.3" height="16" fill="#cd928e"/>
<rect x="1680.1" y="311.3" width="35.3" height="16" fill="#cb8e8b"/>
<rect x="1714.4" y="311.3" width="34.3" height="16" fill="#c88884"/>
<rect x="1763.8" y="311.3" width="35.3" height="16" fill="#cf9591"/>
<rect x="1798.1" y="311.3" width="35.3" height="15" fill="#cf9591"/>
<rect x="1832.4" y="311.3" width="34.3" height="16" fill="#cf9591"/>
<line x1="1520.4" y1="318.8" x2="1524.8" y2="318.8" stroke="#333" stroke-width="1.0"/>
<text x="1517.3" y="324.5" font-size="16.15" text-anchor="end" stroke="#000" stroke-width="0.2">Mtd (5<tspan dy="-1.2">_</tspan><tspan dy="1.2">97)</tspan></text>
<rect x="1528" y="326.3" width="34.3" height="15" fill="#edd2d0"/>
<rect x="1596.6" y="326.3" width="34.3" height="15" fill="#f4e2e1"/>
<rect x="1645.8" y="326.3" width="35.3" height="15" fill="#f5e6e5"/>
<rect x="1680.1" y="326.3" width="35.3" height="15" fill="#f5e6e5"/>
<rect x="1714.4" y="326.3" width="34.3" height="15" fill="#f0dad8"/>
<rect x="1763.8" y="326.3" width="34.3" height="15" fill="#f0dad8"/>
<rect x="1832.4" y="326.3" width="34.3" height="15" fill="#f2dedd"/>
<line x1="1520.4" y1="333.8" x2="1524.8" y2="333.8" stroke="#333" stroke-width="1.0"/>
<text x="1517.3" y="339.5" font-size="16.15" text-anchor="end" stroke="#000" stroke-width="0.2">HmdC (3<tspan dy="-1.2">_</tspan><tspan dy="1.2">64)</tspan></text>
<line x1="1520.4" y1="348.8" x2="1524.8" y2="348.8" stroke="#333" stroke-width="1.0"/>
<text x="1517.3" y="354.5" font-size="16.15" text-anchor="end" stroke="#000" stroke-width="0.2">Hmd (3<tspan dy="-1.2">_</tspan><tspan dy="1.2">63)</tspan></text>
<line x1="1520.4" y1="363.8" x2="1524.8" y2="363.8" stroke="#333" stroke-width="1.0"/>
<text x="1517.3" y="369.5" font-size="16.15" text-anchor="end" stroke="#000" stroke-width="0.2">HmdB (3<tspan dy="-1.2">_</tspan><tspan dy="1.2">62)</tspan></text>
<rect x="1528" y="371.3" width="35.3" height="16" fill="#c27e7b"/>
<rect x="1562.3" y="371.3" width="35.3" height="16" fill="#c27e7b"/>
<rect x="1596.6" y="371.3" width="34.3" height="16" fill="#c07b78"/>
<rect x="1645.8" y="371.3" width="35.3" height="16" fill="#c98b88"/>
<rect x="1680.1" y="371.3" width="35.3" height="16" fill="#c68581"/>
<rect x="1714.4" y="371.3" width="34.3" height="16" fill="#c27e7b"/>
<rect x="1763.8" y="371.3" width="35.3" height="16" fill="#c98b88"/>
<rect x="1798.1" y="371.3" width="35.3" height="16" fill="#c98b88"/>
<rect x="1832.4" y="371.3" width="34.3" height="16" fill="#c98b88"/>
<line x1="1520.4" y1="378.8" x2="1524.8" y2="378.8" stroke="#333" stroke-width="1.0"/>
<text x="1517.3" y="384.5" font-size="16.15" text-anchor="end" stroke="#000" stroke-width="0.2">Mer (5<tspan dy="-1.2">_</tspan><tspan dy="1.2">284)</tspan></text>
<rect x="1528" y="386.3" width="35.3" height="16" fill="#c4817e"/>
<rect x="1562.3" y="386.3" width="35.3" height="16" fill="#c68581"/>
<rect x="1596.6" y="386.3" width="34.3" height="16" fill="#c4817e"/>
<rect x="1645.8" y="386.3" width="35.3" height="16" fill="#c4817e"/>
<rect x="1680.1" y="386.3" width="35.3" height="16" fill="#c68581"/>
<rect x="1714.4" y="386.3" width="34.3" height="16" fill="#c4817e"/>
<rect x="1763.8" y="386.3" width="35.3" height="16" fill="#c07b78"/>
<rect x="1798.1" y="386.3" width="35.3" height="16" fill="#c4817e"/>
<rect x="1832.4" y="386.3" width="34.3" height="16" fill="#c4817e"/>
<line x1="1520.4" y1="393.8" x2="1524.8" y2="393.8" stroke="#333" stroke-width="1.0"/>
<text x="1517.3" y="399.5" font-size="16.15" text-anchor="end" stroke="#000" stroke-width="0.2">MtrE* (3<tspan dy="-1.2">_</tspan><tspan dy="1.2">43)</tspan></text>
<rect x="1528" y="401.3" width="35.3" height="16" fill="#c4817e"/>
<rect x="1562.3" y="401.3" width="35.3" height="16" fill="#c4817e"/>
<rect x="1596.6" y="401.3" width="34.3" height="16" fill="#c4817e"/>
<rect x="1645.8" y="401.3" width="35.3" height="16" fill="#c4817e"/>
<rect x="1680.1" y="401.3" width="35.3" height="16" fill="#c07b78"/>
<rect x="1714.4" y="401.3" width="34.3" height="16" fill="#c27e7b"/>
<rect x="1763.8" y="401.3" width="35.3" height="16" fill="#daaba8"/>
<rect x="1798.1" y="401.3" width="35.3" height="16" fill="#c4817e"/>
<rect x="1832.4" y="401.3" width="34.3" height="16" fill="#c4817e"/>
<line x1="1520.4" y1="408.8" x2="1524.8" y2="408.8" stroke="#333" stroke-width="1.0"/>
<text x="1517.3" y="414.5" font-size="16.15" text-anchor="end" stroke="#000" stroke-width="0.2">MtrD* (3<tspan dy="-1.2">_</tspan><tspan dy="1.2">44)</tspan></text>
<rect x="1528" y="416.3" width="35.3" height="16" fill="#cf9591"/>
<rect x="1562.3" y="416.3" width="35.3" height="16" fill="#cf9591"/>
<rect x="1596.6" y="416.3" width="34.3" height="16" fill="#cf9591"/>
<rect x="1645.8" y="416.3" width="35.3" height="16" fill="#cf9591"/>
<rect x="1680.1" y="416.3" width="35.3" height="16" fill="#cf9591"/>
<rect x="1714.4" y="416.3" width="34.3" height="16" fill="#cf9591"/>
<rect x="1763.8" y="416.3" width="35.3" height="16" fill="#cb8e8b"/>
<rect x="1798.1" y="416.3" width="35.3" height="16" fill="#cd928e"/>
<rect x="1832.4" y="416.3" width="34.3" height="16" fill="#cd928e"/>
<line x1="1520.4" y1="423.8" x2="1524.8" y2="423.8" stroke="#333" stroke-width="1.0"/>
<text x="1517.3" y="429.5" font-size="16.15" text-anchor="end" stroke="#000" stroke-width="0.2">MtrC* (3<tspan dy="-1.2">_</tspan><tspan dy="1.2">45)</tspan></text>
<rect x="1528" y="431.3" width="35.3" height="16" fill="#c98b88"/>
<rect x="1562.3" y="431.3" width="35.3" height="16" fill="#cb8e8b"/>
<rect x="1596.6" y="431.3" width="34.3" height="16" fill="#c98b88"/>
<rect x="1645.8" y="431.3" width="35.3" height="16" fill="#cb8e8b"/>
<rect x="1680.1" y="431.3" width="35.3" height="16" fill="#cb8e8b"/>
<rect x="1714.4" y="431.3" width="34.3" height="16" fill="#c88884"/>
<rect x="1763.8" y="431.3" width="35.3" height="16" fill="#c88884"/>
<rect x="1798.1" y="431.3" width="35.3" height="16" fill="#c98b88"/>
<rect x="1832.4" y="431.3" width="34.3" height="16" fill="#c98b88"/>
<line x1="1520.4" y1="438.8" x2="1524.8" y2="438.8" stroke="#333" stroke-width="1.0"/>
<text x="1517.3" y="444.5" font-size="16.15" text-anchor="end" stroke="#000" stroke-width="0.2">MtrB* (3<tspan dy="-1.2">_</tspan><tspan dy="1.2">46)</tspan></text>
<rect x="1528" y="446.3" width="35.3" height="16" fill="#cb8e8b"/>
<rect x="1562.3" y="446.3" width="35.3" height="16" fill="#cf9591"/>
<rect x="1596.6" y="446.3" width="34.3" height="16" fill="#cb8e8b"/>
<rect x="1645.8" y="446.3" width="35.3" height="16" fill="#cb8e8b"/>
<rect x="1680.1" y="446.3" width="35.3" height="16" fill="#cd928e"/>
<rect x="1714.4" y="446.3" width="34.3" height="16" fill="#cb8e8b"/>
<rect x="1763.8" y="446.3" width="35.3" height="16" fill="#c88884"/>
<rect x="1798.1" y="446.3" width="35.3" height="16" fill="#c98b88"/>
<rect x="1832.4" y="446.3" width="34.3" height="16" fill="#cd928e"/>
<line x1="1520.4" y1="453.8" x2="1524.8" y2="453.8" stroke="#333" stroke-width="1.0"/>
<text x="1517.3" y="459.5" font-size="16.15" text-anchor="end" stroke="#000" stroke-width="0.2">MtrA* (3<tspan dy="-1.2">_</tspan><tspan dy="1.2">47)</tspan></text>
<rect x="1528" y="461.3" width="35.3" height="16" fill="#bf7875"/>
<rect x="1562.3" y="461.3" width="35.3" height="16" fill="#c07b78"/>
<rect x="1596.6" y="461.3" width="34.3" height="16" fill="#bf7875"/>
<rect x="1645.8" y="461.3" width="35.3" height="16" fill="#c4817e"/>
<rect x="1680.1" y="461.3" width="35.3" height="16" fill="#bf7875"/>
<rect x="1714.4" y="461.3" width="34.3" height="16" fill="#bf7875"/>
<rect x="1763.8" y="461.3" width="35.3" height="16" fill="#bf7875"/>
<rect x="1798.1" y="461.3" width="35.3" height="16" fill="#c07b78"/>
<rect x="1832.4" y="461.3" width="34.3" height="16" fill="#c07b78"/>
<line x1="1520.4" y1="468.8" x2="1524.8" y2="468.8" stroke="#333" stroke-width="1.0"/>
<text x="1517.3" y="474.5" font-size="16.15" text-anchor="end" stroke="#000" stroke-width="0.2">MtrF* (3<tspan dy="-1.2">_</tspan><tspan dy="1.2">48)</tspan></text>
<rect x="1528" y="476.3" width="35.3" height="16" fill="#bf7875"/>
<rect x="1562.3" y="476.3" width="35.3" height="16" fill="#c07b78"/>
<rect x="1596.6" y="476.3" width="34.3" height="16" fill="#bf7875"/>
<rect x="1645.8" y="476.3" width="35.3" height="16" fill="#c07b78"/>
<rect x="1680.1" y="476.3" width="35.3" height="16" fill="#bf7875"/>
<rect x="1714.4" y="476.3" width="34.3" height="16" fill="#bf7875"/>
<rect x="1763.8" y="476.3" width="35.3" height="16" fill="#bd7672"/>
<rect x="1798.1" y="476.3" width="35.3" height="16" fill="#bd7672"/>
<rect x="1832.4" y="476.3" width="34.3" height="16" fill="#bf7875"/>
<line x1="1520.4" y1="483.8" x2="1524.8" y2="483.8" stroke="#333" stroke-width="1.0"/>
<text x="1517.3" y="489.5" font-size="16.15" text-anchor="end" stroke="#000" stroke-width="0.2">MtrG* (3<tspan dy="-1.2">_</tspan><tspan dy="1.2">49)</tspan></text>
<rect x="1528" y="491.3" width="35.3" height="16" fill="#bf7875"/>
<rect x="1562.3" y="491.3" width="35.3" height="16" fill="#c27e7b"/>
<rect x="1596.6" y="491.3" width="34.3" height="16" fill="#c27e7b"/>
<rect x="1645.8" y="491.3" width="35.3" height="16" fill="#c27e7b"/>
<rect x="1680.1" y="491.3" width="35.3" height="16" fill="#c07b78"/>
<rect x="1714.4" y="491.3" width="34.3" height="16" fill="#c27e7b"/>
<rect x="1763.8" y="491.3" width="35.3" height="15" fill="#c07b78"/>
<rect x="1798.1" y="491.3" width="35.3" height="15" fill="#c07b78"/>
<rect x="1832.4" y="491.3" width="34.3" height="16" fill="#bf7875"/>
<line x1="1520.4" y1="498.8" x2="1524.8" y2="498.8" stroke="#333" stroke-width="1.0"/>
<text x="1517.3" y="504.5" font-size="16.15" text-anchor="end" stroke="#000" stroke-width="0.2">MtrH* (3<tspan dy="-1.2">_</tspan><tspan dy="1.2">50)</tspan></text>
<rect x="1528" y="506.3" width="35.3" height="16" fill="#eed6d4"/>
<rect x="1562.3" y="506.3" width="35.3" height="16" fill="#f0dad8"/>
<rect x="1596.6" y="506.3" width="34.3" height="16" fill="#eed6d4"/>
<rect x="1645.8" y="506.3" width="35.3" height="16" fill="#f0dad8"/>
<rect x="1680.1" y="506.3" width="35.3" height="16" fill="#f2dedd"/>
<rect x="1714.4" y="506.3" width="34.3" height="16" fill="#eed6d4"/>
<rect x="1832.4" y="506.3" width="34.3" height="16" fill="#eed6d4"/>
<line x1="1520.4" y1="513.8" x2="1524.8" y2="513.8" stroke="#333" stroke-width="1.0"/>
<text x="1517.3" y="519.5" font-size="16.15" text-anchor="end" stroke="#000" stroke-width="0.2">McrA MTase (3<tspan dy="-1.2">_</tspan><tspan dy="1.2">37)</tspan></text>
<rect x="1528" y="521.3" width="35.3" height="16" fill="#c88884"/>
<rect x="1562.3" y="521.3" width="35.3" height="16" fill="#c4817e"/>
<rect x="1596.6" y="521.3" width="34.3" height="16" fill="#c4817e"/>
<rect x="1645.8" y="521.3" width="35.3" height="16" fill="#c88884"/>
<rect x="1680.1" y="521.3" width="35.3" height="16" fill="#c4817e"/>
<rect x="1714.4" y="521.3" width="34.3" height="16" fill="#c4817e"/>
<rect x="1763.8" y="521.3" width="35.3" height="16" fill="#c4817e"/>
<rect x="1798.1" y="521.3" width="35.3" height="16" fill="#c4817e"/>
<rect x="1832.4" y="521.3" width="34.3" height="16" fill="#c4817e"/>
<line x1="1520.4" y1="528.8" x2="1524.8" y2="528.8" stroke="#333" stroke-width="1.0"/>
<text x="1517.3" y="534.5" font-size="16.15" text-anchor="end" stroke="#000" stroke-width="0.2">McrB (3<tspan dy="-1.2">_</tspan><tspan dy="1.2">38)</tspan></text>
<rect x="1528" y="536.3" width="35.3" height="16" fill="#d7a5a1"/>
<rect x="1562.3" y="536.3" width="35.3" height="16" fill="#d9a8a5"/>
<rect x="1596.6" y="536.3" width="34.3" height="16" fill="#d7a5a1"/>
<rect x="1645.8" y="536.3" width="35.3" height="16" fill="#e1b9b6"/>
<rect x="1680.1" y="536.3" width="35.3" height="16" fill="#d7a5a1"/>
<rect x="1714.4" y="536.3" width="34.3" height="16" fill="#d9a8a5"/>
<rect x="1763.8" y="536.3" width="35.3" height="16" fill="#d7a5a1"/>
<rect x="1798.1" y="536.3" width="35.3" height="16" fill="#d7a5a1"/>
<rect x="1832.4" y="536.3" width="34.3" height="16" fill="#d9a8a5"/>
<line x1="1520.4" y1="543.8" x2="1524.8" y2="543.8" stroke="#333" stroke-width="1.0"/>
<text x="1517.3" y="549.5" font-size="16.15" text-anchor="end" stroke="#000" stroke-width="0.2">McrD (3<tspan dy="-1.2">_</tspan><tspan dy="1.2">39)</tspan></text>
<rect x="1528" y="551.3" width="35.3" height="16" fill="#ddb1ae"/>
<rect x="1562.3" y="551.3" width="35.3" height="16" fill="#ddb1ae"/>
<rect x="1596.6" y="551.3" width="34.3" height="16" fill="#ddb1ae"/>
<rect x="1645.8" y="551.3" width="35.3" height="16" fill="#ddb1ae"/>
<rect x="1680.1" y="551.3" width="35.3" height="16" fill="#ddb1ae"/>
<rect x="1714.4" y="551.3" width="34.3" height="16" fill="#ddb1ae"/>
<rect x="1763.8" y="551.3" width="35.3" height="16" fill="#daaba8"/>
<rect x="1798.1" y="551.3" width="35.3" height="16" fill="#ddb1ae"/>
<rect x="1832.4" y="551.3" width="34.3" height="16" fill="#dcaeab"/>
<line x1="1520.4" y1="558.8" x2="1524.8" y2="558.8" stroke="#333" stroke-width="1.0"/>
<text x="1517.3" y="564.5" font-size="16.15" text-anchor="end" stroke="#000" stroke-width="0.2">McrC* (3<tspan dy="-1.2">_</tspan><tspan dy="1.2">40)</tspan></text>
<rect x="1528" y="566.3" width="35.3" height="16" fill="#b05f5d"/>
<rect x="1562.3" y="566.3" width="35.3" height="16" fill="#b05f5d"/>
<rect x="1596.6" y="566.3" width="34.3" height="16" fill="#b05f5d"/>
<rect x="1645.8" y="566.3" width="35.3" height="16" fill="#b1615f"/>
<rect x="1680.1" y="566.3" width="35.3" height="16" fill="#b05f5d"/>
<rect x="1714.4" y="566.3" width="34.3" height="16" fill="#ae5c5a"/>
<rect x="1763.8" y="566.3" width="35.3" height="16" fill="#b05f5d"/>
<rect x="1798.1" y="566.3" width="35.3" height="16" fill="#b05f5d"/>
<rect x="1832.4" y="566.3" width="34.3" height="16" fill="#b05f5d"/>
<line x1="1520.4" y1="573.8" x2="1524.8" y2="573.8" stroke="#333" stroke-width="1.0"/>
<text x="1517.3" y="579.5" font-size="16.15" text-anchor="end" stroke="#000" stroke-width="0.2">McrG* (3<tspan dy="-1.2">_</tspan><tspan dy="1.2">41)</tspan></text>
<rect x="1528" y="581.3" width="35.3" height="15" fill="#b86b69"/>
<rect x="1562.3" y="581.3" width="35.3" height="15" fill="#b86b69"/>
<rect x="1596.6" y="581.3" width="34.3" height="15" fill="#b86b69"/>
<rect x="1645.8" y="581.3" width="35.3" height="15" fill="#b86b69"/>
<rect x="1680.1" y="581.3" width="35.3" height="15" fill="#b86b69"/>
<rect x="1714.4" y="581.3" width="34.3" height="15" fill="#b86b69"/>
<rect x="1763.8" y="581.3" width="35.3" height="15" fill="#b86b69"/>
<rect x="1798.1" y="581.3" width="35.3" height="15" fill="#b86b69"/>
<rect x="1832.4" y="581.3" width="34.3" height="15" fill="#b86b69"/>
<line x1="1520.4" y1="588.8" x2="1524.8" y2="588.8" stroke="#333" stroke-width="1.0"/>
<text x="1517.3" y="594.5" font-size="16.15" text-anchor="end" stroke="#000" stroke-width="0.2">McrA* (3<tspan dy="-1.2">_</tspan><tspan dy="1.2">42)</tspan></text>
<line x1="1524.8" y1="56.3" x2="1524.8" y2="596.3" stroke="#000000" stroke-width="1.15"/>
<rect x="1870.8" y="56.3" width="153.8" height="540" fill="#f2f2f2" stroke="#262626" stroke-width="1.2"/>
<text x="1947.7" y="318" font-size="12.2" text-anchor="middle" fill="#1a1a1a" stroke="#1a1a1a" stroke-width="0.15">1.</text>
<text x="1947.7" y="330.6" font-size="12.2" text-anchor="middle" fill="#1a1a1a" stroke="#1a1a1a" stroke-width="0.15">Methanogenesis</text>
<text x="1947.7" y="343.2" font-size="12.2" text-anchor="middle" fill="#1a1a1a" stroke="#1a1a1a" stroke-width="0.15">from CO2/H2</text>
<rect x="1680.1" y="604.5" width="34.3" height="16" fill="#edd2d0"/>
<rect x="1798.1" y="604.5" width="34.3" height="16" fill="#e1b9b6"/>
<line x1="1520.4" y1="612" x2="1524.8" y2="612" stroke="#333" stroke-width="1.0"/>
<text x="1517.3" y="617.7" font-size="16.15" text-anchor="end" stroke="#000" stroke-width="0.2">FrhB (1<tspan dy="-1.2">_</tspan><tspan dy="1.2">480)</tspan></text>
<rect x="1528" y="619.5" width="35.3" height="16" fill="#c88884"/>
<rect x="1562.3" y="619.5" width="35.3" height="16" fill="#cb8e8b"/>
<rect x="1596.6" y="619.5" width="34.3" height="16" fill="#c88884"/>
<rect x="1645.8" y="619.5" width="35.3" height="16" fill="#cb8e8b"/>
<rect x="1680.1" y="619.5" width="35.3" height="16" fill="#c88884"/>
<rect x="1714.4" y="619.5" width="34.3" height="16" fill="#c88884"/>
<rect x="1763.8" y="619.5" width="35.3" height="16" fill="#c88884"/>
<rect x="1798.1" y="619.5" width="35.3" height="16" fill="#cb8e8b"/>
<rect x="1832.4" y="619.5" width="34.3" height="16" fill="#c98b88"/>
<line x1="1520.4" y1="627" x2="1524.8" y2="627" stroke="#333" stroke-width="1.0"/>
<text x="1517.3" y="632.7" font-size="16.15" text-anchor="end" stroke="#000" stroke-width="0.2">FrhB* (5<tspan dy="-1.2">_</tspan><tspan dy="1.2">9)</tspan></text>
<rect x="1528" y="634.5" width="35.3" height="16" fill="#c98b88"/>
<rect x="1562.3" y="634.5" width="35.3" height="16" fill="#cb8e8b"/>
<rect x="1596.6" y="634.5" width="34.3" height="16" fill="#c98b88"/>
<rect x="1645.8" y="634.5" width="35.3" height="16" fill="#cd928e"/>
<rect x="1680.1" y="634.5" width="35.3" height="16" fill="#cb8e8b"/>
<rect x="1714.4" y="634.5" width="34.3" height="16" fill="#c98b88"/>
<rect x="1763.8" y="634.5" width="35.3" height="16" fill="#c88884"/>
<rect x="1798.1" y="634.5" width="35.3" height="16" fill="#cb8e8b"/>
<rect x="1832.4" y="634.5" width="34.3" height="16" fill="#cb8e8b"/>
<line x1="1520.4" y1="642" x2="1524.8" y2="642" stroke="#333" stroke-width="1.0"/>
<text x="1517.3" y="647.7" font-size="16.15" text-anchor="end" stroke="#000" stroke-width="0.2">FrhG* (5<tspan dy="-1.2">_</tspan><tspan dy="1.2">10)</tspan></text>
<rect x="1528" y="649.5" width="35.3" height="16" fill="#e4c0bd"/>
<rect x="1562.3" y="649.5" width="35.3" height="16" fill="#e3bcba"/>
<rect x="1596.6" y="649.5" width="34.3" height="16" fill="#e4c0bd"/>
<rect x="1645.8" y="649.5" width="35.3" height="16" fill="#e4c0bd"/>
<rect x="1680.1" y="649.5" width="35.3" height="16" fill="#e3bcba"/>
<rect x="1714.4" y="649.5" width="34.3" height="16" fill="#e1b9b6"/>
<rect x="1763.8" y="649.5" width="35.3" height="16" fill="#dfb5b2"/>
<rect x="1798.1" y="649.5" width="35.3" height="16" fill="#e3bcba"/>
<rect x="1832.4" y="649.5" width="34.3" height="16" fill="#e1b9b6"/>
<line x1="1520.4" y1="657" x2="1524.8" y2="657" stroke="#333" stroke-width="1.0"/>
<text x="1517.3" y="662.7" font-size="16.15" text-anchor="end" stroke="#000" stroke-width="0.2">FrhD  (5<tspan dy="-1.2">_</tspan><tspan dy="1.2">11)</tspan></text>
<rect x="1528" y="664.5" width="35.3" height="15" fill="#d7a5a1"/>
<rect x="1562.3" y="664.5" width="35.3" height="15" fill="#e4c0bd"/>
<rect x="1596.6" y="664.5" width="34.3" height="15" fill="#d7a5a1"/>
<rect x="1645.8" y="664.5" width="35.3" height="15" fill="#d9a8a5"/>
<rect x="1680.1" y="664.5" width="35.3" height="15" fill="#d9a8a5"/>
<rect x="1714.4" y="664.5" width="34.3" height="15" fill="#d7a5a1"/>
<rect x="1763.8" y="664.5" width="35.3" height="15" fill="#daaba8"/>
<rect x="1798.1" y="664.5" width="35.3" height="15" fill="#d9a8a5"/>
<rect x="1832.4" y="664.5" width="34.3" height="15" fill="#d9a8a5"/>
<line x1="1520.4" y1="672" x2="1524.8" y2="672" stroke="#333" stroke-width="1.0"/>
<text x="1517.3" y="677.7" font-size="16.15" text-anchor="end" stroke="#000" stroke-width="0.2">FrhA (5<tspan dy="-1.2">_</tspan><tspan dy="1.2">12)</tspan></text>
<line x1="1524.8" y1="604.5" x2="1524.8" y2="679.5" stroke="#000000" stroke-width="1.15"/>
<rect x="1870.8" y="604.5" width="153.8" height="75" fill="#f2f2f2" stroke="#262626" stroke-width="1.2"/>
<text x="1947.7" y="633.7" font-size="12.2" text-anchor="middle" fill="#1a1a1a" stroke="#1a1a1a" stroke-width="0.15">2. Coenzyme</text>
<text x="1947.7" y="646.3" font-size="12.2" text-anchor="middle" fill="#1a1a1a" stroke="#1a1a1a" stroke-width="0.15">F420−reducing</text>
<text x="1947.7" y="658.9" font-size="12.2" text-anchor="middle" fill="#1a1a1a" stroke="#1a1a1a" stroke-width="0.15">H2−ase</text>
<rect x="1528" y="687.7" width="35.3" height="16" fill="#d09894"/>
<rect x="1562.3" y="687.7" width="35.3" height="16" fill="#d09894"/>
<rect x="1596.6" y="687.7" width="34.3" height="16" fill="#d09894"/>
<rect x="1645.8" y="687.7" width="35.3" height="16" fill="#d7a5a1"/>
<rect x="1680.1" y="687.7" width="35.3" height="16" fill="#dcaeab"/>
<rect x="1714.4" y="687.7" width="34.3" height="16" fill="#d29b98"/>
<rect x="1763.8" y="687.7" width="35.3" height="16" fill="#d49e9b"/>
<rect x="1798.1" y="687.7" width="35.3" height="16" fill="#d5a19e"/>
<rect x="1832.4" y="687.7" width="34.3" height="16" fill="#d5a19e"/>
<line x1="1520.4" y1="695.2" x2="1524.8" y2="695.2" stroke="#333" stroke-width="1.0"/>
<text x="1517.3" y="700.9" font-size="16.15" text-anchor="end" stroke="#000" stroke-width="0.2">MvhD (3<tspan dy="-1.2">_</tspan><tspan dy="1.2">65)</tspan></text>
<rect x="1528" y="702.7" width="35.3" height="16" fill="#d5a19e"/>
<rect x="1562.3" y="702.7" width="35.3" height="16" fill="#d5a19e"/>
<rect x="1596.6" y="702.7" width="34.3" height="16" fill="#d5a19e"/>
<rect x="1645.8" y="702.7" width="35.3" height="16" fill="#d9a8a5"/>
<rect x="1680.1" y="702.7" width="35.3" height="16" fill="#d7a5a1"/>
<rect x="1714.4" y="702.7" width="34.3" height="16" fill="#d5a19e"/>
<rect x="1763.8" y="702.7" width="35.3" height="16" fill="#d7a5a1"/>
<rect x="1798.1" y="702.7" width="35.3" height="16" fill="#d9a8a5"/>
<rect x="1832.4" y="702.7" width="34.3" height="16" fill="#d9a8a5"/>
<line x1="1520.4" y1="710.2" x2="1524.8" y2="710.2" stroke="#333" stroke-width="1.0"/>
<text x="1517.3" y="715.9" font-size="16.15" text-anchor="end" stroke="#000" stroke-width="0.2">MvhG (3<tspan dy="-1.2">_</tspan><tspan dy="1.2">66)</tspan></text>
<rect x="1528" y="717.7" width="35.3" height="16" fill="#d29b98"/>
<rect x="1562.3" y="717.7" width="35.3" height="16" fill="#d09894"/>
<rect x="1596.6" y="717.7" width="34.3" height="16" fill="#cf9591"/>
<rect x="1645.8" y="717.7" width="35.3" height="16" fill="#d29b98"/>
<rect x="1680.1" y="717.7" width="35.3" height="16" fill="#d29b98"/>
<rect x="1714.4" y="717.7" width="34.3" height="16" fill="#d09894"/>
<rect x="1763.8" y="717.7" width="35.3" height="16" fill="#d09894"/>
<rect x="1798.1" y="717.7" width="35.3" height="16" fill="#d09894"/>
<rect x="1832.4" y="717.7" width="34.3" height="16" fill="#d09894"/>
<line x1="1520.4" y1="725.2" x2="1524.8" y2="725.2" stroke="#333" stroke-width="1.0"/>
<text x="1517.3" y="730.9" font-size="16.15" text-anchor="end" stroke="#000" stroke-width="0.2">MvhA (3<tspan dy="-1.2">_</tspan><tspan dy="1.2">67)</tspan></text>
<rect x="1528" y="732.7" width="35.3" height="15" fill="#d9a8a5"/>
<rect x="1562.3" y="732.7" width="35.3" height="15" fill="#dcaeab"/>
<rect x="1596.6" y="732.7" width="34.3" height="15" fill="#dcaeab"/>
<rect x="1645.8" y="732.7" width="35.3" height="15" fill="#e4c0bd"/>
<rect x="1680.1" y="732.7" width="35.3" height="15" fill="#dfb5b2"/>
<rect x="1714.4" y="732.7" width="34.3" height="15" fill="#dfb5b2"/>
<rect x="1763.8" y="732.7" width="35.3" height="15" fill="#e1b9b6"/>
<rect x="1798.1" y="732.7" width="35.3" height="15" fill="#e4c0bd"/>
<rect x="1832.4" y="732.7" width="34.3" height="15" fill="#e9cbc9"/>
<line x1="1520.4" y1="740.2" x2="1524.8" y2="740.2" stroke="#333" stroke-width="1.0"/>
<text x="1517.3" y="745.9" font-size="16.15" text-anchor="end" stroke="#000" stroke-width="0.2">MvhB (3<tspan dy="-1.2">_</tspan><tspan dy="1.2">68)</tspan></text>
<line x1="1524.8" y1="687.7" x2="1524.8" y2="747.7" stroke="#000000" stroke-width="1.15"/>
<rect x="1870.8" y="687.7" width="153.8" height="60" fill="#f2f2f2" stroke="#262626" stroke-width="1.2"/>
<text x="1947.7" y="709.4" font-size="12.2" text-anchor="middle" fill="#1a1a1a" stroke="#1a1a1a" stroke-width="0.15">3.</text>
<text x="1947.7" y="722" font-size="12.2" text-anchor="middle" fill="#1a1a1a" stroke="#1a1a1a" stroke-width="0.15">Methyl−viologen−reducing</text>
<text x="1947.7" y="734.6" font-size="12.2" text-anchor="middle" fill="#1a1a1a" stroke="#1a1a1a" stroke-width="0.15">H2−ase</text>
<rect x="1528" y="755.9" width="35.3" height="16" fill="#d09894"/>
<rect x="1562.3" y="755.9" width="35.3" height="16" fill="#d09894"/>
<rect x="1596.6" y="755.9" width="34.3" height="16" fill="#d09894"/>
<rect x="1645.8" y="755.9" width="35.3" height="16" fill="#d29b98"/>
<rect x="1680.1" y="755.9" width="35.3" height="16" fill="#d09894"/>
<rect x="1714.4" y="755.9" width="34.3" height="16" fill="#d09894"/>
<rect x="1763.8" y="755.9" width="35.3" height="16" fill="#cf9591"/>
<rect x="1798.1" y="755.9" width="35.3" height="16" fill="#d09894"/>
<rect x="1832.4" y="755.9" width="34.3" height="16" fill="#d09894"/>
<line x1="1520.4" y1="763.4" x2="1524.8" y2="763.4" stroke="#333" stroke-width="1.0"/>
<text x="1517.3" y="769.1" font-size="16.15" text-anchor="end" stroke="#000" stroke-width="0.2">CA (5<tspan dy="-1.2">_</tspan><tspan dy="1.2">494)</tspan></text>
<rect x="1528" y="770.9" width="35.3" height="16" fill="#c27e7b"/>
<rect x="1562.3" y="770.9" width="35.3" height="16" fill="#c27e7b"/>
<rect x="1596.6" y="770.9" width="34.3" height="16" fill="#c07b78"/>
<rect x="1645.8" y="770.9" width="35.3" height="16" fill="#c27e7b"/>
<rect x="1680.1" y="770.9" width="35.3" height="16" fill="#c07b78"/>
<rect x="1714.4" y="770.9" width="34.3" height="16" fill="#c27e7b"/>
<rect x="1763.8" y="770.9" width="35.3" height="16" fill="#c07b78"/>
<rect x="1798.1" y="770.9" width="35.3" height="16" fill="#c27e7b"/>
<rect x="1832.4" y="770.9" width="34.3" height="16" fill="#c27e7b"/>
<line x1="1520.4" y1="778.4" x2="1524.8" y2="778.4" stroke="#333" stroke-width="1.0"/>
<text x="1517.3" y="784.1" font-size="16.15" text-anchor="end" stroke="#000" stroke-width="0.2">FdhB (5<tspan dy="-1.2">_</tspan><tspan dy="1.2">495)</tspan></text>
<rect x="1528" y="785.9" width="35.3" height="16" fill="#c4817e"/>
<rect x="1562.3" y="785.9" width="35.3" height="16" fill="#c4817e"/>
<rect x="1596.6" y="785.9" width="34.3" height="16" fill="#c4817e"/>
<rect x="1645.8" y="785.9" width="35.3" height="16" fill="#c4817e"/>
<rect x="1680.1" y="785.9" width="35.3" height="16" fill="#c4817e"/>
<rect x="1714.4" y="785.9" width="34.3" height="16" fill="#c4817e"/>
<rect x="1763.8" y="785.9" width="35.3" height="16" fill="#c4817e"/>
<rect x="1798.1" y="785.9" width="35.3" height="16" fill="#c4817e"/>
<rect x="1832.4" y="785.9" width="34.3" height="16" fill="#c4817e"/>
<line x1="1520.4" y1="793.4" x2="1524.8" y2="793.4" stroke="#333" stroke-width="1.0"/>
<text x="1517.3" y="799.1" font-size="16.15" text-anchor="end" stroke="#000" stroke-width="0.2">FdhA (5<tspan dy="-1.2">_</tspan><tspan dy="1.2">496)</tspan></text>
<rect x="1528" y="800.9" width="35.3" height="15" fill="#dfb5b2"/>
<rect x="1562.3" y="800.9" width="35.3" height="15" fill="#e3bcba"/>
<rect x="1596.6" y="800.9" width="34.3" height="15" fill="#e1b9b6"/>
<rect x="1645.8" y="800.9" width="35.3" height="15" fill="#dfb5b2"/>
<rect x="1680.1" y="800.9" width="35.3" height="15" fill="#e1b9b6"/>
<rect x="1714.4" y="800.9" width="34.3" height="15" fill="#e1b9b6"/>
<rect x="1763.8" y="800.9" width="35.3" height="15" fill="#ddb1ae"/>
<rect x="1798.1" y="800.9" width="35.3" height="15" fill="#dfb5b2"/>
<rect x="1832.4" y="800.9" width="34.3" height="15" fill="#dfb5b2"/>
<line x1="1520.4" y1="808.4" x2="1524.8" y2="808.4" stroke="#333" stroke-width="1.0"/>
<text x="1517.3" y="814.1" font-size="16.15" text-anchor="end" stroke="#000" stroke-width="0.2">FdhC (5<tspan dy="-1.2">_</tspan><tspan dy="1.2">497)</tspan></text>
<line x1="1524.8" y1="755.9" x2="1524.8" y2="815.9" stroke="#000000" stroke-width="1.15"/>
<rect x="1870.8" y="755.9" width="153.8" height="60" fill="#f2f2f2" stroke="#262626" stroke-width="1.2"/>
<text x="1947.7" y="777.6" font-size="12.2" text-anchor="middle" fill="#1a1a1a" stroke="#1a1a1a" stroke-width="0.15">4.</text>
<text x="1947.7" y="790.2" font-size="12.2" text-anchor="middle" fill="#1a1a1a" stroke="#1a1a1a" stroke-width="0.15">Non−bifurcating</text>
<text x="1947.7" y="802.8" font-size="12.2" text-anchor="middle" fill="#1a1a1a" stroke="#1a1a1a" stroke-width="0.15">Fdh</text>
<rect x="1528" y="824.1" width="35.3" height="16" fill="#d6a3a0"/>
<rect x="1562.3" y="824.1" width="35.3" height="16" fill="#d8a6a3"/>
<rect x="1596.6" y="824.1" width="34.3" height="16" fill="#d6a3a0"/>
<rect x="1645.8" y="824.1" width="35.3" height="16" fill="#d9a9a6"/>
<rect x="1680.1" y="824.1" width="35.3" height="16" fill="#d9a9a6"/>
<rect x="1714.4" y="824.1" width="34.3" height="16" fill="#d6a3a0"/>
<rect x="1763.8" y="824.1" width="35.3" height="16" fill="#d6a3a0"/>
<rect x="1798.1" y="824.1" width="35.3" height="16" fill="#d9a9a6"/>
<rect x="1832.4" y="824.1" width="34.3" height="16" fill="#d9a9a6"/>
<line x1="1520.4" y1="831.6" x2="1524.8" y2="831.6" stroke="#333" stroke-width="1.0"/>
<text x="1517.3" y="837.3" font-size="16.15" text-anchor="end" stroke="#000" stroke-width="0.2">HdrB (1<tspan dy="-1.2">_</tspan><tspan dy="1.2">39)</tspan></text>
<rect x="1528" y="839.1" width="35.3" height="16" fill="#d09894"/>
<rect x="1562.3" y="839.1" width="35.3" height="16" fill="#cf9591"/>
<rect x="1596.6" y="839.1" width="34.3" height="16" fill="#cf9591"/>
<rect x="1645.8" y="839.1" width="35.3" height="16" fill="#d49e9b"/>
<rect x="1680.1" y="839.1" width="35.3" height="16" fill="#d09894"/>
<rect x="1714.4" y="839.1" width="34.3" height="16" fill="#d09894"/>
<rect x="1763.8" y="839.1" width="35.3" height="16" fill="#d09894"/>
<rect x="1798.1" y="839.1" width="35.3" height="16" fill="#d49e9b"/>
<rect x="1832.4" y="839.1" width="34.3" height="16" fill="#d29b98"/>
<line x1="1520.4" y1="846.6" x2="1524.8" y2="846.6" stroke="#333" stroke-width="1.0"/>
<text x="1517.3" y="852.3" font-size="16.15" text-anchor="end" stroke="#000" stroke-width="0.2">HdrC (1<tspan dy="-1.2">_</tspan><tspan dy="1.2">38)</tspan></text>
<rect x="1528" y="854.1" width="35.3" height="15" fill="#d09894"/>
<rect x="1562.3" y="854.1" width="35.3" height="15" fill="#cf9591"/>
<rect x="1596.6" y="854.1" width="34.3" height="15" fill="#cf9591"/>
<rect x="1645.8" y="854.1" width="35.3" height="15" fill="#d09894"/>
<rect x="1680.1" y="854.1" width="35.3" height="15" fill="#cf9591"/>
<rect x="1714.4" y="854.1" width="34.3" height="15" fill="#cf9591"/>
<rect x="1763.8" y="854.1" width="35.3" height="15" fill="#cf9591"/>
<rect x="1798.1" y="854.1" width="35.3" height="15" fill="#d09894"/>
<rect x="1832.4" y="854.1" width="34.3" height="15" fill="#d09894"/>
<line x1="1520.4" y1="861.6" x2="1524.8" y2="861.6" stroke="#333" stroke-width="1.0"/>
<text x="1517.3" y="867.3" font-size="16.15" text-anchor="end" stroke="#000" stroke-width="0.2">HdrA  (5<tspan dy="-1.2">_</tspan><tspan dy="1.2">178)</tspan></text>
<line x1="1524.8" y1="824.1" x2="1524.8" y2="869.1" stroke="#000000" stroke-width="1.15"/>
<rect x="1870.8" y="824.1" width="153.8" height="45" fill="#f2f2f2" stroke="#262626" stroke-width="1.2"/>
<text x="1947.7" y="838.3" font-size="12.2" text-anchor="middle" fill="#1a1a1a" stroke="#1a1a1a" stroke-width="0.15">5. CoB−CoM</text>
<text x="1947.7" y="850.9" font-size="12.2" text-anchor="middle" fill="#1a1a1a" stroke="#1a1a1a" stroke-width="0.15">heterodisulfide</text>
<text x="1947.7" y="863.5" font-size="12.2" text-anchor="middle" fill="#1a1a1a" stroke="#1a1a1a" stroke-width="0.15">reductase</text>
<rect x="1528" y="877.3" width="35.3" height="16" fill="#f0dad8"/>
<rect x="1562.3" y="877.3" width="35.3" height="16" fill="#f0dad8"/>
<rect x="1596.6" y="877.3" width="34.3" height="16" fill="#f0dad8"/>
<rect x="1645.8" y="877.3" width="35.3" height="15" fill="#edd2d0"/>
<rect x="1680.1" y="877.3" width="35.3" height="15" fill="#ebcfcd"/>
<rect x="1714.4" y="877.3" width="34.3" height="16" fill="#edd2d0"/>
<rect x="1798.1" y="877.3" width="35.3" height="15" fill="#edd2d0"/>
<rect x="1832.4" y="877.3" width="34.3" height="15" fill="#edd2d0"/>
<line x1="1520.4" y1="884.8" x2="1524.8" y2="884.8" stroke="#333" stroke-width="1.0"/>
<text x="1517.3" y="890.5" font-size="16.15" text-anchor="end" stroke="#000" stroke-width="0.2">Polyferredoxin (5<tspan dy="-1.2">_</tspan><tspan dy="1.2">240)</tspan></text>
<rect x="1528" y="892.3" width="35.3" height="16" fill="#f2dedd"/>
<rect x="1562.3" y="892.3" width="35.3" height="16" fill="#f5e6e5"/>
<rect x="1596.6" y="892.3" width="34.3" height="16" fill="#eed6d4"/>
<rect x="1714.4" y="892.3" width="34.3" height="16" fill="#f7eae9"/>
<line x1="1520.4" y1="899.8" x2="1524.8" y2="899.8" stroke="#333" stroke-width="1.0"/>
<text x="1517.3" y="905.5" font-size="16.15" text-anchor="end" stroke="#000" stroke-width="0.2">Polyferredoxin (5<tspan dy="-1.2">_</tspan><tspan dy="1.2">241)</tspan></text>
<rect x="1528" y="907.3" width="35.3" height="16" fill="#ebcfcd"/>
<rect x="1562.3" y="907.3" width="35.3" height="16" fill="#edd2d0"/>
<rect x="1596.6" y="907.3" width="34.3" height="16" fill="#ebcfcd"/>
<rect x="1645.8" y="907.3" width="35.3" height="16" fill="#f9efee"/>
<rect x="1680.1" y="907.3" width="35.3" height="16" fill="#f5e6e5"/>
<rect x="1714.4" y="907.3" width="34.3" height="16" fill="#f7eae9"/>
<rect x="1798.1" y="907.3" width="34.3" height="15" fill="#e4c0bd"/>
<line x1="1520.4" y1="914.8" x2="1524.8" y2="914.8" stroke="#333" stroke-width="1.0"/>
<text x="1517.3" y="920.5" font-size="16.15" text-anchor="end" stroke="#000" stroke-width="0.2">Polyferredoxin (5<tspan dy="-1.2">_</tspan><tspan dy="1.2">242)</tspan></text>
<rect x="1528" y="922.3" width="35.3" height="16" fill="#e4c0bd"/>
<rect x="1562.3" y="922.3" width="35.3" height="16" fill="#e4c0bd"/>
<rect x="1596.6" y="922.3" width="34.3" height="16" fill="#e1b9b6"/>
<rect x="1645.8" y="922.3" width="35.3" height="16" fill="#e9cbc9"/>
<rect x="1680.1" y="922.3" width="35.3" height="16" fill="#e8c7c5"/>
<rect x="1714.4" y="922.3" width="34.3" height="16" fill="#edd2d0"/>
<rect x="1832.4" y="922.3" width="34.3" height="16" fill="#e4c0bd"/>
<line x1="1520.4" y1="929.8" x2="1524.8" y2="929.8" stroke="#333" stroke-width="1.0"/>
<text x="1517.3" y="935.5" font-size="16.15" text-anchor="end" stroke="#000" stroke-width="0.2">EchA (5<tspan dy="-1.2">_</tspan><tspan dy="1.2">243)</tspan></text>
<rect x="1528" y="937.3" width="35.3" height="16" fill="#e8c7c5"/>
<rect x="1562.3" y="937.3" width="35.3" height="15" fill="#e4c0bd"/>
<rect x="1596.6" y="937.3" width="34.3" height="16" fill="#e4c0bd"/>
<rect x="1645.8" y="937.3" width="35.3" height="15" fill="#e4c0bd"/>
<rect x="1680.1" y="937.3" width="35.3" height="15" fill="#e9cbc9"/>
<rect x="1714.4" y="937.3" width="34.3" height="15" fill="#e4c0bd"/>
<rect x="1763.8" y="937.3" width="35.3" height="15" fill="#e4c0bd"/>
<rect x="1798.1" y="937.3" width="35.3" height="15" fill="#e4c0bd"/>
<rect x="1832.4" y="937.3" width="34.3" height="15" fill="#e6c4c1"/>
<line x1="1520.4" y1="944.8" x2="1524.8" y2="944.8" stroke="#333" stroke-width="1.0"/>
<text x="1517.3" y="950.5" font-size="16.15" text-anchor="end" stroke="#000" stroke-width="0.2">EhaN (5<tspan dy="-1.2">_</tspan><tspan dy="1.2">244)</tspan></text>
<rect x="1528" y="952.3" width="34.3" height="15" fill="#f2dedd"/>
<rect x="1596.6" y="952.3" width="34.3" height="15" fill="#f4e2e1"/>
<line x1="1520.4" y1="959.8" x2="1524.8" y2="959.8" stroke="#333" stroke-width="1.0"/>
<text x="1517.3" y="965.5" font-size="16.15" text-anchor="end" stroke="#000" stroke-width="0.2">EhaM (5<tspan dy="-1.2">_</tspan><tspan dy="1.2">245)</tspan></text>
<line x1="1520.4" y1="974.8" x2="1524.8" y2="974.8" stroke="#333" stroke-width="1.0"/>
<text x="1517.3" y="980.5" font-size="16.15" text-anchor="end" stroke="#000" stroke-width="0.2">EhaL (5<tspan dy="-1.2">_</tspan><tspan dy="1.2">246)</tspan></text>
<line x1="1520.4" y1="989.8" x2="1524.8" y2="989.8" stroke="#333" stroke-width="1.0"/>
<text x="1517.3" y="995.5" font-size="16.15" text-anchor="end" stroke="#000" stroke-width="0.2">EhaJ (5<tspan dy="-1.2">_</tspan><tspan dy="1.2">248)</tspan></text>
<line x1="1520.4" y1="1004.8" x2="1524.8" y2="1004.8" stroke="#333" stroke-width="1.0"/>
<text x="1517.3" y="1010.5" font-size="16.15" text-anchor="end" font-weight="bold">NADH−deh N (5<tspan dy="-1.2">_</tspan><tspan dy="1.2">250)</tspan></text>
<line x1="1520.4" y1="1019.8" x2="1524.8" y2="1019.8" stroke="#333" stroke-width="1.0"/>
<text x="1517.3" y="1025.5" font-size="16.15" text-anchor="end" stroke="#000" stroke-width="0.2">EhaG (5<tspan dy="-1.2">_</tspan><tspan dy="1.2">251)</tspan></text>
<line x1="1520.4" y1="1034.8" x2="1524.8" y2="1034.8" stroke="#333" stroke-width="1.0"/>
<text x="1517.3" y="1040.5" font-size="16.15" text-anchor="end" stroke="#000" stroke-width="0.2">EhaF (5<tspan dy="-1.2">_</tspan><tspan dy="1.2">252)</tspan></text>
<line x1="1520.4" y1="1049.8" x2="1524.8" y2="1049.8" stroke="#333" stroke-width="1.0"/>
<text x="1517.3" y="1055.5" font-size="16.15" text-anchor="end" stroke="#000" stroke-width="0.2">EhaE (5<tspan dy="-1.2">_</tspan><tspan dy="1.2">253)</tspan></text>
<line x1="1520.4" y1="1064.8" x2="1524.8" y2="1064.8" stroke="#333" stroke-width="1.0"/>
<text x="1517.3" y="1070.5" font-size="16.15" text-anchor="end" stroke="#000" stroke-width="0.2">EhaC (5<tspan dy="-1.2">_</tspan><tspan dy="1.2">254)</tspan></text>
<line x1="1520.4" y1="1079.8" x2="1524.8" y2="1079.8" stroke="#333" stroke-width="1.0"/>
<text x="1517.3" y="1085.5" font-size="16.15" text-anchor="end" stroke="#000" stroke-width="0.2">DUF2109 (5<tspan dy="-1.2">_</tspan><tspan dy="1.2">255)</tspan></text>
<line x1="1520.4" y1="1094.8" x2="1524.8" y2="1094.8" stroke="#333" stroke-width="1.0"/>
<text x="1517.3" y="1100.5" font-size="16.15" text-anchor="end" stroke="#000" stroke-width="0.2">EhaB (5<tspan dy="-1.2">_</tspan><tspan dy="1.2">256)</tspan></text>
<line x1="1520.4" y1="1109.8" x2="1524.8" y2="1109.8" stroke="#333" stroke-width="1.0"/>
<text x="1517.3" y="1115.5" font-size="16.15" text-anchor="end" stroke="#000" stroke-width="0.2">Stt3 (5<tspan dy="-1.2">_</tspan><tspan dy="1.2">257)</tspan></text>
<line x1="1520.4" y1="1124.8" x2="1524.8" y2="1124.8" stroke="#333" stroke-width="1.0"/>
<text x="1517.3" y="1130.5" font-size="16.15" text-anchor="end" stroke="#000" stroke-width="0.2">FixC (5<tspan dy="-1.2">_</tspan><tspan dy="1.2">258)</tspan></text>
<line x1="1520.4" y1="1139.8" x2="1524.8" y2="1139.8" stroke="#333" stroke-width="1.0"/>
<text x="1517.3" y="1145.5" font-size="16.15" text-anchor="end" stroke="#000" stroke-width="0.2">EhaA  (1<tspan dy="-1.2">_</tspan><tspan dy="1.2">356)</tspan></text>
<rect x="1528" y="1147.3" width="35.3" height="15" fill="#f0dad8"/>
<rect x="1562.3" y="1147.3" width="35.3" height="15" fill="#f5e6e5"/>
<rect x="1596.6" y="1147.3" width="34.3" height="16" fill="#f4e2e1"/>
<rect x="1714.4" y="1147.3" width="34.3" height="15" fill="#edd2d0"/>
<line x1="1520.4" y1="1154.8" x2="1524.8" y2="1154.8" stroke="#333" stroke-width="1.0"/>
<text x="1517.3" y="1160.5" font-size="16.15" text-anchor="end" stroke="#000" stroke-width="0.2">EhaR (1<tspan dy="-1.2">_</tspan><tspan dy="1.2">357)</tspan></text>
<rect x="1596.6" y="1162.3" width="34.3" height="15" fill="#f4e2e1"/>
<line x1="1520.4" y1="1169.8" x2="1524.8" y2="1169.8" stroke="#333" stroke-width="1.0"/>
<text x="1517.3" y="1175.5" font-size="16.15" text-anchor="end" stroke="#000" stroke-width="0.2">EhaT (1<tspan dy="-1.2">_</tspan><tspan dy="1.2">359)</tspan></text>
<line x1="1524.8" y1="877.3" x2="1524.8" y2="1177.3" stroke="#000000" stroke-width="1.15"/>
<rect x="1870.8" y="877.3" width="153.8" height="300" fill="#f2f2f2" stroke="#262626" stroke-width="1.2"/>
<text x="1947.7" y="1019" font-size="12.2" text-anchor="middle" fill="#1a1a1a" stroke="#1a1a1a" stroke-width="0.15">6. Energy−</text>
<text x="1947.7" y="1031.6" font-size="12.2" text-anchor="middle" fill="#1a1a1a" stroke="#1a1a1a" stroke-width="0.15">converting</text>
<text x="1947.7" y="1044.2" font-size="12.2" text-anchor="middle" fill="#1a1a1a" stroke="#1a1a1a" stroke-width="0.15">H2−ase A</text>
<rect x="1528" y="1185.5" width="35.3" height="15" fill="#ebcfcd"/>
<rect x="1562.3" y="1185.5" width="35.3" height="15" fill="#ebcfcd"/>
<rect x="1596.6" y="1185.5" width="34.3" height="15" fill="#e9cbc9"/>
<rect x="1645.8" y="1185.5" width="35.3" height="15" fill="#f2dedd"/>
<rect x="1680.1" y="1185.5" width="35.3" height="15" fill="#eed6d4"/>
<rect x="1714.4" y="1185.5" width="34.3" height="15" fill="#edd2d0"/>
<rect x="1798.1" y="1185.5" width="34.3" height="15" fill="#f7eae9"/>
<line x1="1520.4" y1="1193" x2="1524.8" y2="1193" stroke="#333" stroke-width="1.0"/>
<line x1="1524.8" y1="1185.5" x2="1524.8" y2="1201.3" stroke="#000000" stroke-width="1.15"/>
<rect x="1870.8" y="1185.5" width="153.8" height="15" fill="#f2f2f2" stroke="#262626" stroke-width="1.2"/>
<text x="1947.7" y="1197.3" font-size="12.2" text-anchor="middle" fill="#1a1a1a" stroke="#1a1a1a" stroke-width="0.15">Median</text>
<line x1="1524.9" y1="1200.8" x2="1634.1" y2="1200.8" stroke="#000000" stroke-width="1.4"/>
<line x1="1545.15" y1="1200.8" x2="1545.15" y2="1205.1" stroke="#222" stroke-width="1.1"/>
<line x1="1579.45" y1="1200.8" x2="1579.45" y2="1205.1" stroke="#222" stroke-width="1.1"/>
<line x1="1613.75" y1="1200.8" x2="1613.75" y2="1205.1" stroke="#222" stroke-width="1.1"/>
<line x1="1642.6" y1="1200.8" x2="1751.8" y2="1200.8" stroke="#000000" stroke-width="1.4"/>
<line x1="1662.95" y1="1200.8" x2="1662.95" y2="1205.1" stroke="#222" stroke-width="1.1"/>
<line x1="1697.25" y1="1200.8" x2="1697.25" y2="1205.1" stroke="#222" stroke-width="1.1"/>
<line x1="1731.55" y1="1200.8" x2="1731.55" y2="1205.1" stroke="#222" stroke-width="1.1"/>
<line x1="1760.7" y1="1200.8" x2="1870" y2="1200.8" stroke="#000000" stroke-width="1.4"/>
<line x1="1780.95" y1="1200.8" x2="1780.95" y2="1205.1" stroke="#222" stroke-width="1.1"/>
<line x1="1815.25" y1="1200.8" x2="1815.25" y2="1205.1" stroke="#222" stroke-width="1.1"/>
<line x1="1849.55" y1="1200.8" x2="1849.55" y2="1205.1" stroke="#222" stroke-width="1.1"/>
<text x="1697.3" y="1220.6" font-size="16.15" text-anchor="middle" stroke="#000" stroke-width="0.2">Replicate</text>
<text x="1575.5" y="1275.8" font-size="16.15" stroke="#000" stroke-width="0.2">Log10[Tot. Prot.]</text>
<defs><linearGradient id="gC" x1="0" x2="1" y1="0" y2="0"><stop offset="0.00" stop-color="#ffffff"/><stop offset="0.05" stop-color="#fcf6f6"/><stop offset="0.10" stop-color="#f8eeed"/><stop offset="0.15" stop-color="#f5e5e4"/><stop offset="0.20" stop-color="#f1dddb"/><stop offset="0.25" stop-color="#eed4d2"/><stop offset="0.30" stop-color="#eaccca"/><stop offset="0.35" stop-color="#e6c4c1"/><stop offset="0.40" stop-color="#e2bbb9"/><stop offset="0.45" stop-color="#deb3b0"/><stop offset="0.50" stop-color="#daaba8"/><stop offset="0.55" stop-color="#d6a39f"/><stop offset="0.60" stop-color="#d29b97"/><stop offset="0.65" stop-color="#cd928f"/><stop offset="0.70" stop-color="#c98a87"/><stop offset="0.75" stop-color="#c5827f"/><stop offset="0.80" stop-color="#c07a77"/><stop offset="0.85" stop-color="#bb726f"/><stop offset="0.90" stop-color="#b76a67"/><stop offset="0.95" stop-color="#b26260"/><stop offset="1.00" stop-color="#ad5a58"/></linearGradient></defs>
<rect x="1703.8" y="1247.2" width="116.1" height="24.7" fill="url(#gC)"/>
<line x1="1732.4" y1="1247.2" x2="1732.4" y2="1252.2" stroke="#fff" stroke-opacity="0.75" stroke-width="1"/>
<line x1="1732.4" y1="1266.9" x2="1732.4" y2="1271.9" stroke="#fff" stroke-opacity="0.75" stroke-width="1"/>
<text x="1732.4" y="1289.4" font-size="13.2" text-anchor="middle" fill="#1a1a1a">−2</text>
<line x1="1771.3" y1="1247.2" x2="1771.3" y2="1252.2" stroke="#fff" stroke-opacity="0.75" stroke-width="1"/>
<line x1="1771.3" y1="1266.9" x2="1771.3" y2="1271.9" stroke="#fff" stroke-opacity="0.75" stroke-width="1"/>
<text x="1771.3" y="1289.4" font-size="13.2" text-anchor="middle" fill="#1a1a1a">0</text>
<line x1="1809.6" y1="1247.2" x2="1809.6" y2="1252.2" stroke="#fff" stroke-opacity="0.75" stroke-width="1"/>
<line x1="1809.6" y1="1266.9" x2="1809.6" y2="1271.9" stroke="#fff" stroke-opacity="0.75" stroke-width="1"/>
<text x="1809.6" y="1289.4" font-size="13.2" text-anchor="middle" fill="#1a1a1a">2</text>
</svg></body></html>
